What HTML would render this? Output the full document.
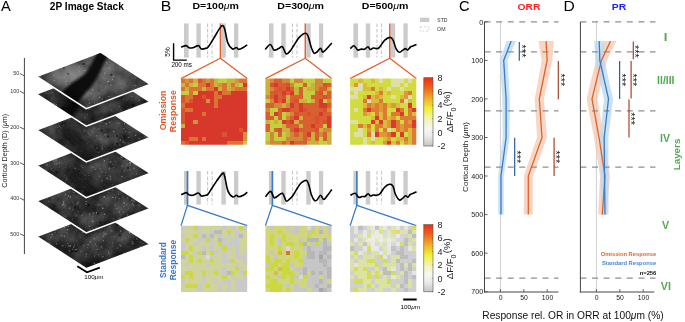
<!DOCTYPE html>
<html><head><meta charset="utf-8"><style>
html,body{margin:0;padding:0;background:#fff;}
body{width:685px;height:322px;overflow:hidden;}
svg{display:block;font-family:"Liberation Sans", sans-serif;will-change:transform;}
</style></head><body>
<svg width="685" height="322" viewBox="0 0 685 322">
<text x="1.00" y="11.40" font-size="15.2" fill="#000" font-weight="normal" textLength="9.73" lengthAdjust="spacingAndGlyphs">A</text>
<text x="49.85" y="9.90" font-size="10.4" fill="#000" font-weight="bold" textLength="73.95" lengthAdjust="spacingAndGlyphs">2P Image Stack</text>
<line x1="24.4" y1="58" x2="24.4" y2="254" stroke="#444" stroke-width="1"/>
<line x1="19.9" y1="73.5" x2="24.4" y2="75.9" stroke="#333" stroke-width="0.8"/>
<text x="19.3" y="75.4" font-size="5.4" fill="#333" font-weight="normal" text-anchor="end" >50</text>
<line x1="19.9" y1="91.2" x2="24.4" y2="93.6" stroke="#333" stroke-width="0.8"/>
<text x="19.3" y="93.1" font-size="5.4" fill="#333" font-weight="normal" text-anchor="end" >100</text>
<line x1="19.9" y1="127.0" x2="24.4" y2="129.4" stroke="#333" stroke-width="0.8"/>
<text x="19.3" y="128.9" font-size="5.4" fill="#333" font-weight="normal" text-anchor="end" >200</text>
<line x1="19.9" y1="162.6" x2="24.4" y2="165.0" stroke="#333" stroke-width="0.8"/>
<text x="19.3" y="164.5" font-size="5.4" fill="#333" font-weight="normal" text-anchor="end" >300</text>
<line x1="19.9" y1="198.0" x2="24.4" y2="200.4" stroke="#333" stroke-width="0.8"/>
<text x="19.3" y="199.9" font-size="5.4" fill="#333" font-weight="normal" text-anchor="end" >400</text>
<line x1="19.9" y1="233.6" x2="24.4" y2="236.0" stroke="#333" stroke-width="0.8"/>
<text x="19.3" y="235.5" font-size="5.4" fill="#333" font-weight="normal" text-anchor="end" >500</text>
<text transform="translate(7.00,187.66) rotate(-90)" x="0" y="0" font-size="7.2" fill="#222" font-weight="normal" textLength="73.82" lengthAdjust="spacingAndGlyphs">Cortical Depth (D) (<tspan font-style="italic">&#956;</tspan>m)</text>
<defs><filter id="mt0" color-interpolation-filters="sRGB" filterUnits="userSpaceOnUse" x="30" y="47" width="125" height="70"><feTurbulence type="fractalNoise" baseFrequency="0.07" numOctaves="5" seed="1"/><feColorMatrix type="matrix" values="0.34 0 0 0 0.175  0.34 0 0 0 0.175  0.34 0 0 0 0.175  0 0 0 0 1"/></filter><filter id="sp0" color-interpolation-filters="sRGB" filterUnits="userSpaceOnUse" x="30" y="47" width="125" height="70"><feTurbulence type="fractalNoise" baseFrequency="0.38" numOctaves="1" seed="3"/><feColorMatrix type="matrix" values="0 0 0 0 1  0 0 0 0 1  0 0 0 0 1  7 0 0 0 -4.5"/><feGaussianBlur stdDeviation="0.45"/></filter><filter id="mt1" color-interpolation-filters="sRGB" filterUnits="userSpaceOnUse" x="30" y="64.6" width="125" height="70"><feTurbulence type="fractalNoise" baseFrequency="0.07" numOctaves="5" seed="8"/><feColorMatrix type="matrix" values="0.34 0 0 0 0.057  0.34 0 0 0 0.057  0.34 0 0 0 0.057  0 0 0 0 1"/></filter><filter id="sp1" color-interpolation-filters="sRGB" filterUnits="userSpaceOnUse" x="30" y="64.6" width="125" height="70"><feTurbulence type="fractalNoise" baseFrequency="0.38" numOctaves="1" seed="8"/><feColorMatrix type="matrix" values="0 0 0 0 1  0 0 0 0 1  0 0 0 0 1  7 0 0 0 -4.5"/><feGaussianBlur stdDeviation="0.45"/></filter><filter id="mt2" color-interpolation-filters="sRGB" filterUnits="userSpaceOnUse" x="30" y="100.4" width="125" height="70"><feTurbulence type="fractalNoise" baseFrequency="0.07" numOctaves="5" seed="15"/><feColorMatrix type="matrix" values="0.34 0 0 0 0.081  0.34 0 0 0 0.081  0.34 0 0 0 0.081  0 0 0 0 1"/></filter><filter id="sp2" color-interpolation-filters="sRGB" filterUnits="userSpaceOnUse" x="30" y="100.4" width="125" height="70"><feTurbulence type="fractalNoise" baseFrequency="0.38" numOctaves="1" seed="13"/><feColorMatrix type="matrix" values="0 0 0 0 1  0 0 0 0 1  0 0 0 0 1  7 0 0 0 -4.5"/><feGaussianBlur stdDeviation="0.45"/></filter><filter id="mt3" color-interpolation-filters="sRGB" filterUnits="userSpaceOnUse" x="30" y="136" width="125" height="70"><feTurbulence type="fractalNoise" baseFrequency="0.07" numOctaves="5" seed="22"/><feColorMatrix type="matrix" values="0.34 0 0 0 0.065  0.34 0 0 0 0.065  0.34 0 0 0 0.065  0 0 0 0 1"/></filter><filter id="sp3" color-interpolation-filters="sRGB" filterUnits="userSpaceOnUse" x="30" y="136" width="125" height="70"><feTurbulence type="fractalNoise" baseFrequency="0.38" numOctaves="1" seed="18"/><feColorMatrix type="matrix" values="0 0 0 0 1  0 0 0 0 1  0 0 0 0 1  7 0 0 0 -4.5"/><feGaussianBlur stdDeviation="0.45"/></filter><filter id="mt4" color-interpolation-filters="sRGB" filterUnits="userSpaceOnUse" x="30" y="171.4" width="125" height="70"><feTurbulence type="fractalNoise" baseFrequency="0.07" numOctaves="5" seed="29"/><feColorMatrix type="matrix" values="0.34 0 0 0 0.054  0.34 0 0 0 0.054  0.34 0 0 0 0.054  0 0 0 0 1"/></filter><filter id="sp4" color-interpolation-filters="sRGB" filterUnits="userSpaceOnUse" x="30" y="171.4" width="125" height="70"><feTurbulence type="fractalNoise" baseFrequency="0.38" numOctaves="1" seed="23"/><feColorMatrix type="matrix" values="0 0 0 0 1  0 0 0 0 1  0 0 0 0 1  7 0 0 0 -4.5"/><feGaussianBlur stdDeviation="0.45"/></filter><filter id="mt5" color-interpolation-filters="sRGB" filterUnits="userSpaceOnUse" x="30" y="207" width="125" height="70"><feTurbulence type="fractalNoise" baseFrequency="0.07" numOctaves="5" seed="36"/><feColorMatrix type="matrix" values="0.34 0 0 0 0.042  0.34 0 0 0 0.042  0.34 0 0 0 0.042  0 0 0 0 1"/></filter><filter id="sp5" color-interpolation-filters="sRGB" filterUnits="userSpaceOnUse" x="30" y="207" width="125" height="70"><feTurbulence type="fractalNoise" baseFrequency="0.38" numOctaves="1" seed="28"/><feColorMatrix type="matrix" values="0 0 0 0 1  0 0 0 0 1  0 0 0 0 1  7 0 0 0 -4.5"/><feGaussianBlur stdDeviation="0.45"/></filter><filter id="blur05" x="-10%" y="-10%" width="120%" height="120%"><feGaussianBlur stdDeviation="0.35"/></filter><filter id="blur1" x="-50%" y="-50%" width="200%" height="200%"><feGaussianBlur stdDeviation="1.3"/></filter><filter id="blur2" x="-50%" y="-50%" width="200%" height="200%"><feGaussianBlur stdDeviation="2.2"/></filter><filter id="blur3" x="-50%" y="-50%" width="200%" height="200%"><feGaussianBlur stdDeviation="3.2"/></filter><filter id="blur5" x="-50%" y="-50%" width="200%" height="200%"><feGaussianBlur stdDeviation="5"/></filter></defs>
<clipPath id="cs5"><polygon points="37.4,237.0 100.4,213.0 149.2,244.6 86.2,268.6"/></clipPath>
<g clip-path="url(#cs5)">
<rect x="30" y="207" width="125" height="70" filter="url(#mt5)"/>
<g fill="#fff" filter="url(#blur05)"><circle cx="109.8" cy="227.0" r="0.67" opacity="0.53"/><circle cx="94.6" cy="253.8" r="0.48" opacity="0.22"/><circle cx="96.0" cy="252.4" r="0.41" opacity="0.41"/><circle cx="67.8" cy="233.9" r="0.52" opacity="0.30"/><circle cx="109.4" cy="253.8" r="0.72" opacity="0.24"/><circle cx="129.5" cy="232.6" r="0.73" opacity="0.48"/><circle cx="82.8" cy="232.3" r="0.72" opacity="0.55"/><circle cx="82.4" cy="225.7" r="0.68" opacity="0.46"/><circle cx="140.5" cy="246.7" r="0.74" opacity="0.44"/><circle cx="88.1" cy="244.4" r="0.55" opacity="0.45"/><circle cx="117.2" cy="248.1" r="0.56" opacity="0.39"/><circle cx="136.7" cy="238.9" r="0.72" opacity="0.43"/><circle cx="65.7" cy="247.3" r="0.47" opacity="0.26"/><circle cx="50.8" cy="237.4" r="0.54" opacity="0.46"/><circle cx="139.3" cy="246.8" r="0.58" opacity="0.16"/><circle cx="52.2" cy="234.2" r="0.70" opacity="0.28"/><circle cx="105.0" cy="233.9" r="0.58" opacity="0.49"/><circle cx="82.4" cy="223.6" r="0.60" opacity="0.29"/><circle cx="112.0" cy="222.0" r="0.45" opacity="0.52"/><circle cx="67.5" cy="229.7" r="0.67" opacity="0.52"/><circle cx="76.6" cy="230.5" r="0.70" opacity="0.29"/><circle cx="55.0" cy="232.5" r="0.70" opacity="0.24"/><circle cx="62.7" cy="245.6" r="0.63" opacity="0.55"/><circle cx="80.8" cy="251.4" r="0.46" opacity="0.49"/><circle cx="101.5" cy="246.9" r="0.69" opacity="0.36"/><circle cx="67.5" cy="226.0" r="0.42" opacity="0.43"/><circle cx="113.5" cy="237.0" r="0.37" opacity="0.45"/><circle cx="132.7" cy="243.7" r="0.65" opacity="0.42"/><circle cx="77.1" cy="240.1" r="0.43" opacity="0.41"/><circle cx="98.3" cy="254.4" r="0.44" opacity="0.26"/><circle cx="56.5" cy="243.8" r="0.66" opacity="0.48"/><circle cx="96.9" cy="216.1" r="0.62" opacity="0.37"/><circle cx="105.3" cy="258.3" r="0.62" opacity="0.28"/><circle cx="111.3" cy="231.0" r="0.54" opacity="0.34"/><circle cx="68.6" cy="226.4" r="0.68" opacity="0.27"/><circle cx="74.4" cy="231.8" r="0.58" opacity="0.18"/><circle cx="49.5" cy="242.9" r="0.70" opacity="0.42"/><circle cx="87.4" cy="222.6" r="0.53" opacity="0.44"/><circle cx="106.3" cy="233.3" r="0.38" opacity="0.30"/><circle cx="140.6" cy="242.4" r="0.60" opacity="0.29"/><circle cx="103.4" cy="240.7" r="0.53" opacity="0.49"/><circle cx="77.6" cy="226.5" r="0.64" opacity="0.43"/><circle cx="69.4" cy="251.1" r="0.74" opacity="0.41"/><circle cx="103.2" cy="235.9" r="0.52" opacity="0.54"/><circle cx="77.7" cy="244.9" r="0.39" opacity="0.36"/><circle cx="112.9" cy="242.9" r="0.74" opacity="0.26"/><circle cx="68.0" cy="243.3" r="0.48" opacity="0.52"/><circle cx="73.6" cy="246.9" r="0.75" opacity="0.31"/><circle cx="86.7" cy="239.2" r="0.48" opacity="0.28"/><circle cx="90.8" cy="217.4" r="0.38" opacity="0.47"/><circle cx="103.7" cy="233.0" r="0.54" opacity="0.34"/><circle cx="74.7" cy="244.5" r="0.49" opacity="0.39"/><circle cx="87.3" cy="247.5" r="0.37" opacity="0.55"/><circle cx="61.3" cy="251.6" r="0.50" opacity="0.20"/><circle cx="120.6" cy="227.8" r="0.42" opacity="0.28"/><circle cx="75.9" cy="249.7" r="0.75" opacity="0.54"/><circle cx="86.5" cy="253.9" r="0.58" opacity="0.46"/><circle cx="49.5" cy="234.7" r="0.40" opacity="0.51"/><circle cx="42.8" cy="237.0" r="0.54" opacity="0.17"/><circle cx="94.9" cy="263.0" r="0.42" opacity="0.45"/><circle cx="112.8" cy="231.1" r="0.53" opacity="0.23"/><circle cx="84.1" cy="246.0" r="0.58" opacity="0.36"/><circle cx="103.5" cy="256.3" r="0.53" opacity="0.30"/><circle cx="108.5" cy="252.2" r="0.59" opacity="0.45"/><circle cx="106.8" cy="228.4" r="0.64" opacity="0.19"/><circle cx="90.4" cy="240.0" r="0.51" opacity="0.22"/><circle cx="104.7" cy="228.6" r="0.51" opacity="0.20"/><circle cx="134.2" cy="243.6" r="0.42" opacity="0.31"/><circle cx="64.5" cy="236.1" r="0.68" opacity="0.40"/><circle cx="128.3" cy="236.9" r="0.48" opacity="0.46"/><circle cx="72.8" cy="253.0" r="0.56" opacity="0.18"/><circle cx="80.9" cy="246.5" r="0.40" opacity="0.18"/><circle cx="123.8" cy="253.1" r="0.58" opacity="0.55"/><circle cx="73.0" cy="228.6" r="0.42" opacity="0.33"/><circle cx="132.1" cy="241.7" r="0.74" opacity="0.39"/><circle cx="111.8" cy="236.3" r="0.42" opacity="0.37"/><circle cx="94.6" cy="256.0" r="0.68" opacity="0.24"/><circle cx="59.9" cy="243.0" r="0.36" opacity="0.23"/><circle cx="142.8" cy="243.2" r="0.52" opacity="0.50"/><circle cx="98.2" cy="264.0" r="0.58" opacity="0.40"/><circle cx="55.2" cy="230.5" r="0.57" opacity="0.40"/><circle cx="119.6" cy="244.6" r="0.72" opacity="0.16"/><circle cx="84.6" cy="223.5" r="0.69" opacity="0.36"/><circle cx="57.3" cy="249.4" r="0.69" opacity="0.50"/><circle cx="120.6" cy="231.1" r="0.62" opacity="0.42"/><circle cx="106.0" cy="249.5" r="0.42" opacity="0.24"/><circle cx="112.6" cy="245.7" r="0.74" opacity="0.18"/><circle cx="115.2" cy="222.7" r="0.50" opacity="0.43"/><circle cx="109.9" cy="219.7" r="0.51" opacity="0.51"/><circle cx="111.0" cy="229.8" r="0.46" opacity="0.47"/><circle cx="68.0" cy="243.8" r="0.36" opacity="0.24"/><circle cx="90.3" cy="242.1" r="0.66" opacity="0.40"/><circle cx="71.1" cy="244.0" r="0.45" opacity="0.20"/><circle cx="94.3" cy="263.4" r="0.67" opacity="0.49"/><circle cx="95.7" cy="228.1" r="0.65" opacity="0.37"/><circle cx="115.4" cy="236.4" r="0.61" opacity="0.20"/><circle cx="126.2" cy="238.6" r="0.58" opacity="0.25"/><circle cx="99.4" cy="234.1" r="0.44" opacity="0.46"/><circle cx="120.8" cy="245.7" r="0.75" opacity="0.31"/><circle cx="78.9" cy="225.1" r="0.61" opacity="0.48"/><circle cx="64.8" cy="227.6" r="0.64" opacity="0.31"/><circle cx="85.9" cy="256.2" r="0.51" opacity="0.35"/><circle cx="97.3" cy="236.9" r="0.62" opacity="0.27"/><circle cx="74.5" cy="246.2" r="0.67" opacity="0.28"/><circle cx="62.0" cy="240.7" r="0.49" opacity="0.21"/><circle cx="95.2" cy="244.0" r="0.75" opacity="0.19"/><circle cx="61.8" cy="235.6" r="0.50" opacity="0.49"/><circle cx="72.7" cy="249.3" r="0.52" opacity="0.49"/><circle cx="121.2" cy="255.2" r="0.69" opacity="0.52"/><circle cx="92.0" cy="221.7" r="0.39" opacity="0.54"/><circle cx="52.3" cy="234.6" r="0.60" opacity="0.39"/><circle cx="69.1" cy="246.5" r="0.51" opacity="0.33"/><circle cx="66.5" cy="232.5" r="0.61" opacity="0.28"/><circle cx="139.6" cy="247.5" r="0.36" opacity="0.46"/><circle cx="98.4" cy="228.6" r="0.58" opacity="0.27"/><circle cx="108.1" cy="227.0" r="0.61" opacity="0.25"/><circle cx="102.5" cy="223.3" r="0.73" opacity="0.22"/><circle cx="97.3" cy="249.3" r="0.51" opacity="0.46"/><circle cx="96.8" cy="264.1" r="0.56" opacity="0.51"/><circle cx="68.2" cy="245.8" r="0.55" opacity="0.53"/><circle cx="119.4" cy="225.7" r="0.51" opacity="0.29"/><circle cx="49.0" cy="239.5" r="0.65" opacity="0.19"/><circle cx="110.1" cy="230.6" r="0.43" opacity="0.27"/><circle cx="76.3" cy="254.0" r="0.45" opacity="0.39"/><circle cx="96.3" cy="245.9" r="0.39" opacity="0.44"/><circle cx="70.3" cy="245.7" r="0.73" opacity="0.54"/><circle cx="94.3" cy="238.6" r="0.56" opacity="0.41"/><circle cx="112.3" cy="222.9" r="0.35" opacity="0.37"/><circle cx="83.3" cy="244.6" r="0.55" opacity="0.20"/><circle cx="102.6" cy="256.7" r="0.58" opacity="0.43"/><circle cx="88.9" cy="231.5" r="1.1" fill="#000" opacity="0.6"/><circle cx="72.1" cy="251.7" r="1.1" fill="#000" opacity="0.6"/><circle cx="76.3" cy="251.2" r="1.1" fill="#000" opacity="0.6"/><circle cx="96.6" cy="216.3" r="1.1" fill="#000" opacity="0.6"/><circle cx="120.0" cy="235.5" r="1.1" fill="#000" opacity="0.6"/><circle cx="117.1" cy="225.2" r="1.1" fill="#000" opacity="0.6"/></g>
<polyline points="37.4,237 86.2,268.6 149.2,244.6" stroke="#000" stroke-width="12" opacity="0.35" fill="none" filter="url(#blur3)"/>
<polyline points="37.4,202.9 86.2,234.5 149.2,210.5" stroke="#000" stroke-width="5" opacity="0.35" fill="none" filter="url(#blur2)"/>
</g>
<polyline points="37.4,237 86.2,268.6 149.2,244.6" stroke="#fff" stroke-width="1.5" fill="none"/>
<clipPath id="cs4"><polygon points="37.4,201.4 100.4,177.4 149.2,209.0 86.2,233.0"/></clipPath>
<g clip-path="url(#cs4)">
<rect x="30" y="171.4" width="125" height="70" filter="url(#mt4)"/>
<g fill="#fff" filter="url(#blur05)"><circle cx="140.4" cy="205.9" r="0.64" opacity="0.24"/><circle cx="93.1" cy="216.0" r="0.67" opacity="0.16"/><circle cx="91.6" cy="225.7" r="0.40" opacity="0.41"/><circle cx="89.7" cy="213.9" r="0.69" opacity="0.38"/><circle cx="77.8" cy="202.2" r="0.60" opacity="0.40"/><circle cx="86.0" cy="206.3" r="0.56" opacity="0.25"/><circle cx="76.5" cy="215.1" r="0.39" opacity="0.39"/><circle cx="128.3" cy="208.3" r="0.45" opacity="0.32"/><circle cx="112.6" cy="190.3" r="0.75" opacity="0.23"/><circle cx="92.4" cy="182.5" r="0.62" opacity="0.47"/><circle cx="102.8" cy="208.3" r="0.72" opacity="0.55"/><circle cx="74.2" cy="213.6" r="0.37" opacity="0.30"/><circle cx="54.4" cy="203.0" r="0.60" opacity="0.18"/><circle cx="47.6" cy="198.0" r="0.68" opacity="0.25"/><circle cx="72.3" cy="219.3" r="0.64" opacity="0.40"/><circle cx="98.0" cy="205.2" r="0.64" opacity="0.27"/><circle cx="124.3" cy="203.1" r="0.69" opacity="0.51"/><circle cx="115.6" cy="197.7" r="0.56" opacity="0.44"/><circle cx="75.2" cy="188.4" r="0.72" opacity="0.23"/><circle cx="90.0" cy="204.1" r="0.39" opacity="0.38"/><circle cx="114.3" cy="212.9" r="0.59" opacity="0.27"/><circle cx="119.8" cy="218.2" r="0.60" opacity="0.49"/><circle cx="71.8" cy="222.9" r="0.43" opacity="0.22"/><circle cx="66.9" cy="199.1" r="0.38" opacity="0.23"/><circle cx="64.1" cy="203.8" r="0.67" opacity="0.18"/><circle cx="52.7" cy="198.3" r="0.55" opacity="0.24"/><circle cx="82.4" cy="196.2" r="0.43" opacity="0.35"/><circle cx="85.1" cy="227.6" r="0.58" opacity="0.31"/><circle cx="118.3" cy="218.1" r="0.55" opacity="0.31"/><circle cx="69.6" cy="208.2" r="0.66" opacity="0.40"/><circle cx="98.6" cy="223.2" r="0.40" opacity="0.29"/><circle cx="131.0" cy="211.7" r="0.53" opacity="0.15"/><circle cx="93.6" cy="201.4" r="0.36" opacity="0.29"/><circle cx="94.8" cy="181.4" r="0.42" opacity="0.22"/><circle cx="102.7" cy="192.0" r="0.62" opacity="0.42"/><circle cx="59.5" cy="214.9" r="0.40" opacity="0.47"/><circle cx="86.2" cy="201.3" r="0.67" opacity="0.48"/><circle cx="46.3" cy="202.8" r="0.48" opacity="0.28"/><circle cx="86.0" cy="204.3" r="0.74" opacity="0.42"/><circle cx="128.1" cy="197.9" r="0.44" opacity="0.38"/><circle cx="76.0" cy="216.0" r="0.41" opacity="0.52"/><circle cx="100.2" cy="222.4" r="0.44" opacity="0.23"/><circle cx="93.1" cy="221.5" r="0.68" opacity="0.45"/><circle cx="80.7" cy="192.2" r="0.45" opacity="0.16"/><circle cx="102.3" cy="183.1" r="0.64" opacity="0.15"/><circle cx="84.8" cy="213.6" r="0.42" opacity="0.18"/><circle cx="107.8" cy="189.0" r="0.35" opacity="0.43"/><circle cx="126.3" cy="194.9" r="0.36" opacity="0.32"/><circle cx="87.7" cy="194.5" r="0.52" opacity="0.45"/><circle cx="119.4" cy="211.9" r="0.73" opacity="0.36"/><circle cx="104.9" cy="181.6" r="0.56" opacity="0.42"/><circle cx="118.8" cy="194.0" r="0.52" opacity="0.51"/><circle cx="69.8" cy="191.9" r="0.53" opacity="0.26"/><circle cx="118.6" cy="211.5" r="0.37" opacity="0.28"/><circle cx="133.6" cy="205.4" r="0.66" opacity="0.31"/><circle cx="138.9" cy="205.3" r="0.68" opacity="0.37"/><circle cx="84.2" cy="190.2" r="0.36" opacity="0.16"/><circle cx="65.7" cy="216.2" r="0.73" opacity="0.38"/><circle cx="123.9" cy="206.3" r="0.73" opacity="0.26"/><circle cx="113.8" cy="218.7" r="0.48" opacity="0.43"/><circle cx="70.9" cy="196.3" r="0.43" opacity="0.29"/><circle cx="82.2" cy="228.6" r="0.49" opacity="0.25"/><circle cx="88.1" cy="182.4" r="0.65" opacity="0.33"/><circle cx="62.5" cy="211.8" r="0.74" opacity="0.17"/><circle cx="64.0" cy="200.2" r="0.59" opacity="0.23"/><circle cx="108.6" cy="192.6" r="0.73" opacity="0.20"/><circle cx="53.2" cy="196.7" r="0.37" opacity="0.22"/><circle cx="101.3" cy="204.7" r="0.64" opacity="0.24"/><circle cx="123.2" cy="218.1" r="0.48" opacity="0.24"/><circle cx="96.2" cy="227.4" r="0.60" opacity="0.35"/><circle cx="72.5" cy="192.0" r="0.44" opacity="0.43"/><circle cx="78.3" cy="211.6" r="0.71" opacity="0.22"/><circle cx="104.4" cy="214.2" r="0.65" opacity="0.48"/><circle cx="122.9" cy="197.8" r="0.44" opacity="0.35"/><circle cx="105.5" cy="185.4" r="0.47" opacity="0.23"/><circle cx="97.5" cy="183.4" r="0.41" opacity="0.39"/><circle cx="103.9" cy="197.2" r="0.65" opacity="0.43"/><circle cx="65.6" cy="194.3" r="0.63" opacity="0.40"/><circle cx="132.0" cy="200.6" r="0.38" opacity="0.23"/><circle cx="92.2" cy="217.0" r="0.47" opacity="0.24"/><circle cx="62.4" cy="205.5" r="0.55" opacity="0.43"/><circle cx="95.7" cy="184.2" r="0.57" opacity="0.54"/><circle cx="68.4" cy="195.8" r="0.61" opacity="0.48"/><circle cx="44.0" cy="203.1" r="0.47" opacity="0.30"/><circle cx="48.8" cy="201.3" r="0.52" opacity="0.53"/><circle cx="86.6" cy="196.6" r="0.73" opacity="0.26"/><circle cx="52.3" cy="201.9" r="0.36" opacity="0.52"/><circle cx="118.8" cy="219.6" r="0.57" opacity="0.18"/><circle cx="77.6" cy="203.4" r="0.41" opacity="0.18"/><circle cx="123.4" cy="212.4" r="0.72" opacity="0.25"/><circle cx="88.6" cy="194.6" r="0.69" opacity="0.52"/><circle cx="47.4" cy="207.1" r="0.70" opacity="0.54"/><circle cx="94.0" cy="183.1" r="0.59" opacity="0.46"/><circle cx="99.9" cy="204.9" r="0.66" opacity="0.17"/><circle cx="120.7" cy="218.5" r="0.57" opacity="0.29"/><circle cx="89.4" cy="226.3" r="0.62" opacity="0.53"/><circle cx="131.9" cy="200.1" r="0.69" opacity="0.48"/><circle cx="104.5" cy="196.7" r="0.62" opacity="0.46"/><circle cx="92.6" cy="219.9" r="0.59" opacity="0.30"/><circle cx="109.6" cy="220.0" r="0.38" opacity="0.17"/><circle cx="74.0" cy="192.8" r="0.69" opacity="0.52"/><circle cx="77.0" cy="203.9" r="0.61" opacity="0.50"/><circle cx="121.2" cy="214.4" r="0.49" opacity="0.34"/><circle cx="116.9" cy="208.4" r="0.50" opacity="0.29"/><circle cx="123.3" cy="202.2" r="0.56" opacity="0.25"/><circle cx="64.6" cy="195.3" r="0.45" opacity="0.19"/><circle cx="82.0" cy="215.7" r="0.57" opacity="0.49"/><circle cx="89.6" cy="198.6" r="0.49" opacity="0.48"/><circle cx="46.6" cy="206.1" r="0.53" opacity="0.21"/><circle cx="70.2" cy="196.9" r="0.60" opacity="0.50"/><circle cx="99.8" cy="216.4" r="0.35" opacity="0.19"/><circle cx="84.9" cy="222.6" r="0.46" opacity="0.38"/><circle cx="119.4" cy="198.5" r="0.51" opacity="0.37"/><circle cx="107.9" cy="204.4" r="0.57" opacity="0.20"/><circle cx="134.0" cy="201.1" r="0.70" opacity="0.47"/><circle cx="72.9" cy="210.1" r="0.59" opacity="0.22"/><circle cx="112.9" cy="197.3" r="0.58" opacity="0.52"/><circle cx="74.0" cy="204.5" r="0.59" opacity="0.19"/><circle cx="63.6" cy="201.9" r="0.74" opacity="0.41"/><circle cx="118.7" cy="202.4" r="0.48" opacity="0.30"/><circle cx="127.2" cy="198.0" r="0.59" opacity="0.32"/><circle cx="105.5" cy="186.9" r="0.70" opacity="0.43"/><circle cx="131.8" cy="215.2" r="0.55" opacity="0.36"/><circle cx="96.5" cy="212.7" r="0.69" opacity="0.46"/><circle cx="91.5" cy="221.4" r="0.36" opacity="0.41"/><circle cx="64.0" cy="207.3" r="0.58" opacity="0.21"/><circle cx="115.1" cy="205.1" r="0.66" opacity="0.34"/><circle cx="126.7" cy="204.7" r="0.57" opacity="0.41"/><circle cx="82.5" cy="214.1" r="0.46" opacity="0.21"/><circle cx="120.7" cy="216.1" r="0.54" opacity="0.22"/><circle cx="87.2" cy="192.2" r="0.61" opacity="0.45"/><circle cx="65.1" cy="205.8" r="0.53" opacity="0.42"/><circle cx="127.6" cy="214.9" r="0.59" opacity="0.52"/><circle cx="63.2" cy="204.3" r="0.74" opacity="0.46"/><circle cx="65.2" cy="194.0" r="0.45" opacity="0.31"/><circle cx="68.2" cy="220.0" r="0.72" opacity="0.29"/><circle cx="72.9" cy="202.0" r="0.51" opacity="0.39"/><circle cx="58.3" cy="195.8" r="0.38" opacity="0.52"/><circle cx="85.2" cy="189.7" r="0.52" opacity="0.45"/><circle cx="93.5" cy="213.1" r="0.75" opacity="0.29"/><circle cx="73.2" cy="195.2" r="0.63" opacity="0.34"/><circle cx="86.3" cy="198.3" r="0.60" opacity="0.39"/><circle cx="132.5" cy="203.7" r="0.38" opacity="0.20"/><circle cx="71.0" cy="198.2" r="0.42" opacity="0.22"/><circle cx="95.4" cy="184.4" r="0.67" opacity="0.34"/><circle cx="106.3" cy="198.3" r="0.44" opacity="0.31"/><circle cx="132.3" cy="203.9" r="0.61" opacity="0.31"/><circle cx="91.6" cy="188.3" r="0.54" opacity="0.29"/><circle cx="103.5" cy="217.1" r="0.41" opacity="0.26"/><circle cx="87.4" cy="197.3" r="0.71" opacity="0.33"/><circle cx="51.2" cy="210.1" r="1.1" fill="#000" opacity="0.6"/><circle cx="75.0" cy="207.7" r="1.1" fill="#000" opacity="0.6"/><circle cx="82.8" cy="230.8" r="1.1" fill="#000" opacity="0.6"/><circle cx="98.4" cy="213.5" r="1.1" fill="#000" opacity="0.6"/><circle cx="88.8" cy="204.9" r="1.1" fill="#000" opacity="0.6"/><circle cx="100.5" cy="222.6" r="1.1" fill="#000" opacity="0.6"/></g>
<polyline points="37.4,201.4 86.2,233.0 149.2,209.0" stroke="#000" stroke-width="12" opacity="0.35" fill="none" filter="url(#blur3)"/>
<polyline points="37.4,167.5 86.2,199.1 149.2,175.1" stroke="#000" stroke-width="5" opacity="0.35" fill="none" filter="url(#blur2)"/>
</g>
<polyline points="37.4,201.4 86.2,233.0 149.2,209.0" stroke="#fff" stroke-width="1.5" fill="none"/>
<clipPath id="cs3"><polygon points="37.4,166.0 100.4,142.0 149.2,173.6 86.2,197.6"/></clipPath>
<g clip-path="url(#cs3)">
<rect x="30" y="136" width="125" height="70" filter="url(#mt3)"/>
<g fill="#fff" filter="url(#blur05)"><circle cx="121.3" cy="156.9" r="0.64" opacity="0.44"/><circle cx="54.7" cy="163.3" r="0.59" opacity="0.20"/><circle cx="104.9" cy="184.9" r="0.70" opacity="0.20"/><circle cx="53.4" cy="171.1" r="0.68" opacity="0.16"/><circle cx="56.8" cy="164.0" r="0.40" opacity="0.36"/><circle cx="68.9" cy="174.5" r="0.64" opacity="0.44"/><circle cx="101.9" cy="180.9" r="0.58" opacity="0.48"/><circle cx="71.1" cy="171.7" r="0.58" opacity="0.53"/><circle cx="99.5" cy="166.2" r="0.45" opacity="0.26"/><circle cx="99.1" cy="192.0" r="0.70" opacity="0.51"/><circle cx="105.3" cy="175.7" r="0.47" opacity="0.34"/><circle cx="67.1" cy="175.8" r="0.45" opacity="0.19"/><circle cx="100.0" cy="147.0" r="0.68" opacity="0.43"/><circle cx="66.7" cy="179.2" r="0.75" opacity="0.54"/><circle cx="110.6" cy="176.9" r="0.63" opacity="0.27"/><circle cx="101.2" cy="171.7" r="0.51" opacity="0.48"/><circle cx="102.0" cy="179.0" r="0.38" opacity="0.33"/><circle cx="71.8" cy="185.4" r="0.70" opacity="0.37"/><circle cx="103.4" cy="172.1" r="0.44" opacity="0.30"/><circle cx="105.4" cy="172.5" r="0.50" opacity="0.34"/><circle cx="85.3" cy="175.6" r="0.62" opacity="0.28"/><circle cx="122.0" cy="176.4" r="0.56" opacity="0.54"/><circle cx="101.8" cy="187.6" r="0.42" opacity="0.30"/><circle cx="90.5" cy="147.4" r="0.60" opacity="0.50"/><circle cx="130.2" cy="164.9" r="0.49" opacity="0.28"/><circle cx="80.4" cy="153.0" r="0.36" opacity="0.50"/><circle cx="84.8" cy="156.1" r="0.52" opacity="0.27"/><circle cx="106.1" cy="154.2" r="0.64" opacity="0.45"/><circle cx="69.8" cy="166.3" r="0.56" opacity="0.31"/><circle cx="90.8" cy="162.1" r="0.67" opacity="0.32"/><circle cx="83.8" cy="187.2" r="0.71" opacity="0.42"/><circle cx="114.4" cy="180.4" r="0.72" opacity="0.15"/><circle cx="69.1" cy="154.9" r="0.48" opacity="0.25"/><circle cx="99.5" cy="176.3" r="0.69" opacity="0.25"/><circle cx="86.9" cy="197.3" r="0.66" opacity="0.37"/><circle cx="47.0" cy="165.0" r="0.72" opacity="0.36"/><circle cx="129.8" cy="170.1" r="0.65" opacity="0.47"/><circle cx="65.4" cy="167.7" r="0.52" opacity="0.46"/><circle cx="124.4" cy="170.9" r="0.58" opacity="0.34"/><circle cx="82.2" cy="182.4" r="0.61" opacity="0.36"/><circle cx="131.0" cy="179.5" r="0.73" opacity="0.19"/><circle cx="85.4" cy="178.5" r="0.63" opacity="0.26"/><circle cx="118.5" cy="158.2" r="0.66" opacity="0.17"/><circle cx="56.1" cy="160.0" r="0.67" opacity="0.36"/><circle cx="127.0" cy="162.3" r="0.48" opacity="0.29"/><circle cx="70.7" cy="163.3" r="0.39" opacity="0.41"/><circle cx="79.3" cy="172.8" r="0.63" opacity="0.26"/><circle cx="80.9" cy="165.7" r="0.48" opacity="0.42"/><circle cx="63.1" cy="176.3" r="0.39" opacity="0.42"/><circle cx="103.3" cy="189.3" r="0.54" opacity="0.41"/><circle cx="110.4" cy="179.3" r="0.63" opacity="0.41"/><circle cx="46.3" cy="169.7" r="0.65" opacity="0.31"/><circle cx="129.9" cy="162.7" r="0.68" opacity="0.45"/><circle cx="130.2" cy="163.7" r="0.73" opacity="0.32"/><circle cx="59.6" cy="163.1" r="0.45" opacity="0.51"/><circle cx="81.0" cy="151.6" r="0.36" opacity="0.33"/><circle cx="89.3" cy="164.3" r="0.36" opacity="0.25"/><circle cx="128.0" cy="167.9" r="0.68" opacity="0.26"/><circle cx="89.1" cy="156.2" r="0.47" opacity="0.53"/><circle cx="65.1" cy="170.1" r="0.44" opacity="0.50"/><circle cx="109.5" cy="168.2" r="0.69" opacity="0.34"/><circle cx="133.0" cy="168.6" r="0.47" opacity="0.24"/><circle cx="93.0" cy="167.2" r="0.67" opacity="0.41"/><circle cx="113.6" cy="167.2" r="0.46" opacity="0.45"/><circle cx="130.3" cy="162.6" r="0.63" opacity="0.24"/><circle cx="66.7" cy="177.3" r="0.59" opacity="0.44"/><circle cx="93.8" cy="171.8" r="0.39" opacity="0.17"/><circle cx="60.6" cy="173.2" r="0.45" opacity="0.21"/><circle cx="75.2" cy="168.5" r="0.68" opacity="0.52"/><circle cx="136.0" cy="165.4" r="0.35" opacity="0.25"/><circle cx="134.3" cy="164.0" r="0.69" opacity="0.23"/><circle cx="57.3" cy="163.3" r="0.56" opacity="0.30"/><circle cx="73.8" cy="159.1" r="0.36" opacity="0.30"/><circle cx="127.6" cy="164.4" r="0.58" opacity="0.18"/><circle cx="82.7" cy="167.3" r="0.60" opacity="0.31"/><circle cx="101.3" cy="155.4" r="0.64" opacity="0.15"/><circle cx="85.5" cy="187.7" r="0.69" opacity="0.27"/><circle cx="96.8" cy="191.6" r="0.59" opacity="0.19"/><circle cx="127.3" cy="160.2" r="0.47" opacity="0.35"/><circle cx="88.9" cy="175.4" r="0.52" opacity="0.30"/><circle cx="98.4" cy="158.1" r="0.68" opacity="0.45"/><circle cx="104.4" cy="148.2" r="0.69" opacity="0.44"/><circle cx="93.4" cy="190.4" r="0.55" opacity="0.22"/><circle cx="99.4" cy="192.5" r="0.67" opacity="0.24"/><circle cx="95.5" cy="145.8" r="0.63" opacity="0.40"/><circle cx="136.5" cy="173.8" r="0.64" opacity="0.49"/><circle cx="112.2" cy="184.4" r="0.52" opacity="0.44"/><circle cx="104.4" cy="160.8" r="0.68" opacity="0.44"/><circle cx="76.1" cy="180.7" r="0.54" opacity="0.39"/><circle cx="73.4" cy="187.5" r="0.51" opacity="0.44"/><circle cx="53.6" cy="160.9" r="0.54" opacity="0.41"/><circle cx="112.8" cy="164.4" r="0.70" opacity="0.22"/><circle cx="64.9" cy="175.8" r="0.61" opacity="0.46"/><circle cx="70.7" cy="183.3" r="0.49" opacity="0.36"/><circle cx="51.5" cy="168.7" r="0.60" opacity="0.29"/><circle cx="123.6" cy="158.6" r="0.49" opacity="0.22"/><circle cx="95.5" cy="169.5" r="0.45" opacity="0.54"/><circle cx="107.1" cy="178.2" r="0.62" opacity="0.48"/><circle cx="90.9" cy="193.9" r="0.59" opacity="0.22"/><circle cx="77.7" cy="153.5" r="0.52" opacity="0.19"/><circle cx="62.4" cy="179.1" r="0.69" opacity="0.45"/><circle cx="134.3" cy="168.2" r="0.60" opacity="0.39"/><circle cx="104.1" cy="147.1" r="0.56" opacity="0.37"/><circle cx="81.0" cy="193.3" r="0.62" opacity="0.29"/><circle cx="110.7" cy="162.0" r="0.64" opacity="0.37"/><circle cx="116.2" cy="161.3" r="0.39" opacity="0.46"/><circle cx="79.8" cy="178.5" r="0.72" opacity="0.44"/><circle cx="82.7" cy="190.8" r="0.74" opacity="0.34"/><circle cx="76.1" cy="174.5" r="0.56" opacity="0.17"/><circle cx="122.1" cy="166.0" r="0.51" opacity="0.48"/><circle cx="91.7" cy="190.0" r="0.69" opacity="0.34"/><circle cx="66.4" cy="177.5" r="0.39" opacity="0.37"/><circle cx="71.7" cy="179.0" r="0.51" opacity="0.28"/><circle cx="100.2" cy="168.9" r="0.70" opacity="0.33"/><circle cx="109.1" cy="175.2" r="0.42" opacity="0.36"/><circle cx="72.9" cy="177.3" r="0.55" opacity="0.51"/><circle cx="112.9" cy="152.5" r="0.69" opacity="0.30"/><circle cx="82.3" cy="178.8" r="0.47" opacity="0.53"/><circle cx="95.7" cy="145.4" r="0.74" opacity="0.51"/><circle cx="78.3" cy="183.6" r="0.57" opacity="0.21"/><circle cx="82.3" cy="149.4" r="0.49" opacity="0.35"/><circle cx="107.8" cy="159.6" r="0.47" opacity="0.34"/><circle cx="90.9" cy="165.7" r="0.39" opacity="0.49"/><circle cx="59.5" cy="167.0" r="0.44" opacity="0.54"/><circle cx="72.7" cy="183.8" r="0.58" opacity="0.24"/><circle cx="95.5" cy="152.8" r="0.40" opacity="0.16"/><circle cx="81.6" cy="151.8" r="0.60" opacity="0.41"/><circle cx="91.1" cy="194.1" r="0.40" opacity="0.28"/><circle cx="100.9" cy="155.2" r="0.66" opacity="0.43"/><circle cx="103.5" cy="159.7" r="0.46" opacity="0.34"/><circle cx="77.8" cy="151.8" r="1.1" fill="#000" opacity="0.6"/><circle cx="56.5" cy="172.4" r="1.1" fill="#000" opacity="0.6"/><circle cx="77.4" cy="188.6" r="1.1" fill="#000" opacity="0.6"/><circle cx="123.8" cy="158.9" r="1.1" fill="#000" opacity="0.6"/><circle cx="79.1" cy="171.5" r="1.1" fill="#000" opacity="0.6"/><circle cx="127.9" cy="167.8" r="1.1" fill="#000" opacity="0.6"/></g>
<path d="M64,168 C74,176 84,184 96,196" stroke="#161616" stroke-width="12" fill="none" filter="url(#blur5)"/>
<polyline points="37.4,166 86.2,197.6 149.2,173.6" stroke="#000" stroke-width="12" opacity="0.35" fill="none" filter="url(#blur3)"/>
<polyline points="37.4,131.9 86.2,163.5 149.2,139.5" stroke="#000" stroke-width="5" opacity="0.35" fill="none" filter="url(#blur2)"/>
</g>
<polyline points="37.4,166 86.2,197.6 149.2,173.6" stroke="#fff" stroke-width="1.5" fill="none"/>
<clipPath id="cs2"><polygon points="37.4,130.4 100.4,106.4 149.2,138.0 86.2,162.0"/></clipPath>
<g clip-path="url(#cs2)">
<rect x="30" y="100.4" width="125" height="70" filter="url(#mt2)"/>
<g fill="#fff" filter="url(#blur05)"><circle cx="76.8" cy="146.3" r="0.42" opacity="0.44"/><circle cx="94.4" cy="128.0" r="0.60" opacity="0.38"/><circle cx="66.0" cy="146.1" r="0.60" opacity="0.36"/><circle cx="128.7" cy="132.5" r="0.50" opacity="0.24"/><circle cx="85.0" cy="152.9" r="0.63" opacity="0.39"/><circle cx="89.7" cy="135.6" r="0.44" opacity="0.36"/><circle cx="76.9" cy="146.5" r="0.60" opacity="0.42"/><circle cx="57.4" cy="127.4" r="0.48" opacity="0.43"/><circle cx="106.0" cy="141.8" r="0.52" opacity="0.31"/><circle cx="102.7" cy="113.9" r="0.43" opacity="0.39"/><circle cx="98.3" cy="128.9" r="0.57" opacity="0.33"/><circle cx="122.9" cy="142.4" r="0.68" opacity="0.41"/><circle cx="113.3" cy="149.1" r="0.53" opacity="0.40"/><circle cx="125.5" cy="131.2" r="0.51" opacity="0.45"/><circle cx="119.9" cy="144.9" r="0.60" opacity="0.36"/><circle cx="124.5" cy="123.7" r="0.51" opacity="0.53"/><circle cx="105.3" cy="113.2" r="0.38" opacity="0.49"/><circle cx="111.8" cy="121.4" r="0.45" opacity="0.42"/><circle cx="107.0" cy="114.6" r="0.53" opacity="0.42"/><circle cx="71.6" cy="138.2" r="0.41" opacity="0.34"/><circle cx="55.8" cy="127.4" r="0.51" opacity="0.21"/><circle cx="52.2" cy="132.3" r="0.52" opacity="0.28"/><circle cx="103.5" cy="126.0" r="0.45" opacity="0.23"/><circle cx="92.4" cy="146.8" r="0.43" opacity="0.34"/><circle cx="128.7" cy="137.3" r="0.53" opacity="0.49"/><circle cx="88.9" cy="122.2" r="0.39" opacity="0.22"/><circle cx="106.2" cy="123.7" r="0.68" opacity="0.54"/><circle cx="118.2" cy="123.2" r="0.35" opacity="0.26"/><circle cx="82.9" cy="145.7" r="0.63" opacity="0.52"/><circle cx="128.7" cy="143.8" r="0.61" opacity="0.34"/><circle cx="103.5" cy="119.0" r="0.66" opacity="0.44"/><circle cx="95.0" cy="111.5" r="0.43" opacity="0.53"/><circle cx="68.4" cy="141.2" r="0.59" opacity="0.34"/><circle cx="139.4" cy="139.5" r="0.49" opacity="0.20"/><circle cx="117.1" cy="122.8" r="0.45" opacity="0.21"/><circle cx="66.4" cy="148.6" r="0.46" opacity="0.37"/><circle cx="119.3" cy="123.5" r="0.73" opacity="0.18"/><circle cx="122.0" cy="136.1" r="0.73" opacity="0.16"/><circle cx="96.5" cy="135.8" r="0.59" opacity="0.34"/><circle cx="98.7" cy="152.4" r="0.70" opacity="0.43"/><circle cx="124.8" cy="124.9" r="0.38" opacity="0.43"/><circle cx="80.7" cy="151.6" r="0.61" opacity="0.23"/><circle cx="50.3" cy="128.9" r="0.42" opacity="0.54"/><circle cx="94.9" cy="152.9" r="0.40" opacity="0.29"/><circle cx="84.6" cy="130.4" r="0.74" opacity="0.25"/><circle cx="77.9" cy="125.3" r="0.39" opacity="0.43"/><circle cx="82.5" cy="137.7" r="0.63" opacity="0.19"/><circle cx="74.4" cy="150.8" r="0.75" opacity="0.16"/><circle cx="114.4" cy="151.0" r="0.68" opacity="0.55"/><circle cx="118.2" cy="148.4" r="0.37" opacity="0.34"/><circle cx="109.9" cy="122.4" r="0.53" opacity="0.33"/><circle cx="101.0" cy="147.0" r="0.74" opacity="0.24"/><circle cx="96.9" cy="148.1" r="0.65" opacity="0.48"/><circle cx="125.0" cy="142.9" r="0.69" opacity="0.40"/><circle cx="59.4" cy="126.3" r="0.69" opacity="0.49"/><circle cx="106.5" cy="117.4" r="0.65" opacity="0.52"/><circle cx="51.6" cy="126.2" r="0.42" opacity="0.24"/><circle cx="120.3" cy="140.0" r="0.68" opacity="0.43"/><circle cx="146.5" cy="137.6" r="0.53" opacity="0.52"/><circle cx="94.7" cy="120.9" r="0.58" opacity="0.22"/><circle cx="102.3" cy="146.5" r="0.35" opacity="0.36"/><circle cx="78.7" cy="128.9" r="0.38" opacity="0.36"/><circle cx="63.2" cy="125.5" r="0.51" opacity="0.42"/><circle cx="80.7" cy="153.3" r="0.38" opacity="0.34"/><circle cx="102.3" cy="148.7" r="0.71" opacity="0.44"/><circle cx="71.8" cy="133.6" r="0.68" opacity="0.35"/><circle cx="112.7" cy="138.0" r="0.43" opacity="0.30"/><circle cx="113.7" cy="118.0" r="0.69" opacity="0.21"/><circle cx="62.8" cy="145.9" r="0.46" opacity="0.39"/><circle cx="87.8" cy="113.2" r="0.55" opacity="0.30"/><circle cx="135.7" cy="135.3" r="0.70" opacity="0.45"/><circle cx="89.5" cy="141.6" r="0.57" opacity="0.30"/><circle cx="87.3" cy="143.9" r="0.71" opacity="0.25"/><circle cx="67.5" cy="126.9" r="0.50" opacity="0.31"/><circle cx="74.8" cy="148.5" r="0.49" opacity="0.47"/><circle cx="88.5" cy="147.8" r="0.74" opacity="0.22"/><circle cx="108.1" cy="152.2" r="0.51" opacity="0.28"/><circle cx="87.5" cy="152.9" r="0.48" opacity="0.50"/><circle cx="81.3" cy="122.7" r="0.75" opacity="0.51"/><circle cx="113.9" cy="131.4" r="0.65" opacity="0.53"/><circle cx="61.6" cy="133.3" r="0.65" opacity="0.32"/><circle cx="140.2" cy="133.1" r="0.56" opacity="0.21"/><circle cx="105.3" cy="134.7" r="0.58" opacity="0.46"/><circle cx="111.0" cy="147.1" r="0.59" opacity="0.21"/><circle cx="97.4" cy="116.0" r="0.71" opacity="0.52"/><circle cx="59.5" cy="132.1" r="0.63" opacity="0.33"/><circle cx="97.7" cy="145.1" r="0.48" opacity="0.20"/><circle cx="114.9" cy="144.9" r="0.73" opacity="0.19"/><circle cx="100.2" cy="122.7" r="0.74" opacity="0.31"/><circle cx="60.0" cy="138.4" r="0.56" opacity="0.22"/><circle cx="102.0" cy="122.3" r="0.65" opacity="0.24"/><circle cx="100.5" cy="139.5" r="0.43" opacity="0.27"/><circle cx="109.5" cy="122.7" r="0.49" opacity="0.40"/><circle cx="123.1" cy="141.1" r="0.58" opacity="0.49"/><circle cx="138.9" cy="138.3" r="0.72" opacity="0.43"/><circle cx="100.2" cy="126.0" r="0.39" opacity="0.52"/><circle cx="80.0" cy="131.1" r="0.57" opacity="0.45"/><circle cx="95.3" cy="114.1" r="0.66" opacity="0.53"/><circle cx="145.0" cy="136.7" r="0.58" opacity="0.51"/><circle cx="116.0" cy="143.0" r="0.75" opacity="0.30"/><circle cx="81.8" cy="151.1" r="0.73" opacity="0.51"/><circle cx="88.5" cy="133.5" r="0.40" opacity="0.49"/><circle cx="60.5" cy="127.7" r="0.39" opacity="0.52"/><circle cx="102.3" cy="145.5" r="0.38" opacity="0.34"/><circle cx="122.0" cy="136.9" r="0.43" opacity="0.34"/><circle cx="133.2" cy="139.8" r="0.39" opacity="0.39"/><circle cx="123.7" cy="128.6" r="0.66" opacity="0.27"/><circle cx="69.1" cy="119.0" r="0.67" opacity="0.38"/><circle cx="94.7" cy="155.8" r="0.43" opacity="0.16"/><circle cx="86.9" cy="115.5" r="0.61" opacity="0.20"/><circle cx="74.8" cy="153.1" r="1.1" fill="#000" opacity="0.6"/><circle cx="108.2" cy="136.5" r="1.1" fill="#000" opacity="0.6"/><circle cx="117.1" cy="136.1" r="1.1" fill="#000" opacity="0.6"/><circle cx="69.2" cy="139.6" r="1.1" fill="#000" opacity="0.6"/><circle cx="117.0" cy="143.6" r="1.1" fill="#000" opacity="0.6"/><circle cx="101.9" cy="130.3" r="1.1" fill="#000" opacity="0.6"/></g>
<path d="M62,128.4 C72,136.4 82,146.4 94,160.4" stroke="#121212" stroke-width="13" fill="none" filter="url(#blur5)"/>
<polyline points="37.4,130.4 86.2,162.0 149.2,138.0" stroke="#000" stroke-width="12" opacity="0.35" fill="none" filter="url(#blur3)"/>
<polyline points="37.4,96.1 86.2,127.69999999999999 149.2,103.69999999999999" stroke="#000" stroke-width="5" opacity="0.35" fill="none" filter="url(#blur2)"/>
</g>
<polyline points="37.4,130.4 86.2,162.0 149.2,138.0" stroke="#fff" stroke-width="1.5" fill="none"/>
<clipPath id="cs1"><polygon points="37.4,94.6 100.4,70.6 149.2,102.2 86.2,126.2"/></clipPath>
<g clip-path="url(#cs1)">
<rect x="30" y="64.6" width="125" height="70" filter="url(#mt1)"/>
<g fill="#fff" filter="url(#blur05)"><circle cx="83.5" cy="86.8" r="0.74" opacity="0.52"/><circle cx="99.2" cy="104.4" r="0.44" opacity="0.24"/><circle cx="89.4" cy="109.6" r="0.43" opacity="0.54"/><circle cx="51.3" cy="99.0" r="0.39" opacity="0.46"/><circle cx="83.5" cy="100.7" r="0.48" opacity="0.40"/><circle cx="73.0" cy="91.5" r="0.52" opacity="0.27"/><circle cx="84.6" cy="118.0" r="0.62" opacity="0.42"/><circle cx="112.3" cy="85.9" r="0.50" opacity="0.32"/><circle cx="95.5" cy="106.0" r="0.35" opacity="0.34"/><circle cx="88.0" cy="92.7" r="0.36" opacity="0.43"/><circle cx="65.5" cy="112.2" r="0.41" opacity="0.16"/><circle cx="52.0" cy="92.3" r="0.41" opacity="0.42"/><circle cx="101.0" cy="88.6" r="0.61" opacity="0.34"/><circle cx="111.5" cy="110.3" r="0.47" opacity="0.50"/><circle cx="114.3" cy="99.6" r="0.35" opacity="0.18"/><circle cx="56.3" cy="104.8" r="0.73" opacity="0.50"/><circle cx="96.0" cy="78.2" r="0.63" opacity="0.46"/><circle cx="127.0" cy="100.2" r="0.41" opacity="0.22"/><circle cx="123.4" cy="98.9" r="0.71" opacity="0.33"/><circle cx="100.2" cy="77.7" r="0.73" opacity="0.50"/><circle cx="62.0" cy="88.6" r="0.57" opacity="0.43"/><circle cx="62.3" cy="88.0" r="0.46" opacity="0.48"/><circle cx="88.8" cy="122.0" r="0.45" opacity="0.23"/><circle cx="92.3" cy="122.9" r="0.71" opacity="0.28"/><circle cx="75.3" cy="112.9" r="0.71" opacity="0.15"/><circle cx="119.1" cy="106.5" r="0.53" opacity="0.38"/><circle cx="99.7" cy="82.8" r="0.46" opacity="0.41"/><circle cx="98.3" cy="98.3" r="0.48" opacity="0.52"/><circle cx="88.7" cy="109.1" r="0.71" opacity="0.31"/><circle cx="51.6" cy="100.3" r="0.38" opacity="0.21"/><circle cx="61.7" cy="102.5" r="0.50" opacity="0.33"/><circle cx="112.3" cy="100.0" r="0.62" opacity="0.30"/><circle cx="106.0" cy="96.1" r="0.40" opacity="0.37"/><circle cx="90.4" cy="108.3" r="0.64" opacity="0.25"/><circle cx="87.0" cy="98.5" r="0.47" opacity="0.17"/><circle cx="89.0" cy="124.8" r="0.65" opacity="0.33"/><circle cx="92.5" cy="87.1" r="0.63" opacity="0.53"/><circle cx="108.8" cy="90.7" r="0.74" opacity="0.52"/><circle cx="61.2" cy="106.2" r="0.53" opacity="0.26"/><circle cx="83.2" cy="84.3" r="0.65" opacity="0.49"/><circle cx="75.1" cy="115.0" r="0.46" opacity="0.41"/><circle cx="128.6" cy="108.9" r="0.67" opacity="0.29"/><circle cx="90.6" cy="81.7" r="0.64" opacity="0.32"/><circle cx="65.7" cy="95.8" r="0.44" opacity="0.47"/><circle cx="54.8" cy="99.6" r="0.43" opacity="0.21"/><circle cx="112.1" cy="95.6" r="0.62" opacity="0.51"/><circle cx="67.5" cy="85.0" r="0.43" opacity="0.36"/><circle cx="127.3" cy="106.5" r="0.55" opacity="0.24"/><circle cx="120.4" cy="109.9" r="0.48" opacity="0.52"/><circle cx="122.5" cy="91.1" r="0.54" opacity="0.20"/><circle cx="46.4" cy="93.2" r="0.59" opacity="0.44"/><circle cx="129.4" cy="89.8" r="0.75" opacity="0.31"/><circle cx="48.7" cy="93.3" r="0.47" opacity="0.36"/><circle cx="114.0" cy="80.3" r="0.44" opacity="0.44"/><circle cx="89.1" cy="102.9" r="0.41" opacity="0.49"/><circle cx="132.2" cy="96.4" r="0.72" opacity="0.28"/><circle cx="54.3" cy="103.5" r="0.71" opacity="0.34"/><circle cx="57.4" cy="94.6" r="0.42" opacity="0.33"/><circle cx="138.9" cy="100.3" r="0.65" opacity="0.45"/><circle cx="87.4" cy="114.6" r="0.44" opacity="0.36"/><circle cx="83.1" cy="122.0" r="1.1" fill="#000" opacity="0.6"/><circle cx="74.4" cy="110.2" r="1.1" fill="#000" opacity="0.6"/><circle cx="110.5" cy="99.1" r="1.1" fill="#000" opacity="0.6"/><circle cx="98.4" cy="89.9" r="1.1" fill="#000" opacity="0.6"/><circle cx="133.1" cy="105.2" r="1.1" fill="#000" opacity="0.6"/><circle cx="124.1" cy="110.7" r="1.1" fill="#000" opacity="0.6"/></g>
<path d="M80,98.6 C74,104.6 68,112.6 62,122.6" stroke="#0a0a0a" stroke-width="13" fill="none" filter="url(#blur2)"/>
<polyline points="37.4,94.6 86.2,126.19999999999999 149.2,102.19999999999999" stroke="#000" stroke-width="12" opacity="0.35" fill="none" filter="url(#blur3)"/>
<polyline points="37.4,78.5 86.2,110.1 149.2,86.1" stroke="#000" stroke-width="5" opacity="0.35" fill="none" filter="url(#blur2)"/>
</g>
<polyline points="37.4,94.6 86.2,126.19999999999999 149.2,102.19999999999999" stroke="#fff" stroke-width="1.5" fill="none"/>
<clipPath id="cs0"><polygon points="37.4,77.0 100.4,53.0 149.2,84.6 86.2,108.6"/></clipPath>
<g clip-path="url(#cs0)">
<rect x="30" y="47" width="125" height="70" filter="url(#mt0)"/>
<g fill="#fff" filter="url(#blur05)"><circle cx="68.8" cy="87.9" r="0.66" opacity="0.43"/><circle cx="104.7" cy="73.1" r="0.67" opacity="0.36"/><circle cx="64.7" cy="89.5" r="0.37" opacity="0.52"/><circle cx="113.4" cy="64.9" r="0.47" opacity="0.46"/><circle cx="59.0" cy="77.7" r="0.43" opacity="0.29"/><circle cx="123.9" cy="92.4" r="0.43" opacity="0.53"/><circle cx="116.4" cy="92.1" r="0.68" opacity="0.21"/><circle cx="84.3" cy="65.4" r="0.35" opacity="0.31"/><circle cx="113.8" cy="76.3" r="0.43" opacity="0.49"/><circle cx="106.5" cy="62.6" r="0.53" opacity="0.41"/><circle cx="100.4" cy="59.3" r="0.57" opacity="0.54"/><circle cx="110.8" cy="85.0" r="0.66" opacity="0.35"/><circle cx="84.5" cy="88.7" r="0.56" opacity="0.29"/><circle cx="108.9" cy="68.0" r="0.54" opacity="0.45"/><circle cx="132.1" cy="85.6" r="0.61" opacity="0.25"/><circle cx="135.2" cy="85.4" r="0.64" opacity="0.46"/><circle cx="93.8" cy="80.3" r="0.58" opacity="0.21"/><circle cx="122.0" cy="88.0" r="0.42" opacity="0.45"/><circle cx="87.8" cy="63.9" r="0.37" opacity="0.39"/><circle cx="66.3" cy="81.5" r="0.60" opacity="0.41"/><circle cx="112.3" cy="77.0" r="0.48" opacity="0.16"/><circle cx="54.0" cy="80.4" r="0.56" opacity="0.44"/><circle cx="69.6" cy="84.3" r="0.72" opacity="0.31"/><circle cx="112.5" cy="79.4" r="0.61" opacity="0.34"/><circle cx="105.9" cy="86.1" r="0.41" opacity="0.47"/><circle cx="94.7" cy="57.5" r="0.43" opacity="0.25"/><circle cx="50.2" cy="79.2" r="0.61" opacity="0.20"/><circle cx="87.8" cy="105.3" r="0.51" opacity="0.37"/><circle cx="84.0" cy="76.5" r="0.53" opacity="0.23"/><circle cx="86.2" cy="71.0" r="0.41" opacity="0.23"/><circle cx="108.8" cy="96.5" r="0.59" opacity="0.54"/><circle cx="75.4" cy="75.6" r="0.63" opacity="0.23"/><circle cx="119.3" cy="65.4" r="0.46" opacity="0.26"/><circle cx="102.3" cy="99.3" r="0.75" opacity="0.37"/><circle cx="52.5" cy="71.7" r="0.38" opacity="0.27"/><circle cx="108.5" cy="81.4" r="0.69" opacity="0.48"/><circle cx="92.5" cy="89.8" r="0.53" opacity="0.44"/><circle cx="96.7" cy="103.4" r="0.36" opacity="0.40"/><circle cx="98.7" cy="93.8" r="0.41" opacity="0.51"/><circle cx="73.5" cy="100.2" r="0.63" opacity="0.35"/><circle cx="67.0" cy="84.9" r="0.53" opacity="0.24"/><circle cx="88.7" cy="99.8" r="0.57" opacity="0.26"/><circle cx="107.7" cy="82.0" r="0.40" opacity="0.38"/><circle cx="79.6" cy="66.5" r="0.47" opacity="0.50"/><circle cx="84.8" cy="70.2" r="0.51" opacity="0.33"/><circle cx="124.0" cy="87.2" r="0.38" opacity="0.17"/><circle cx="66.2" cy="67.0" r="0.41" opacity="0.19"/><circle cx="73.5" cy="94.6" r="0.39" opacity="0.38"/><circle cx="105.1" cy="58.3" r="0.65" opacity="0.38"/><circle cx="94.5" cy="102.9" r="0.64" opacity="0.30"/><circle cx="98.5" cy="59.0" r="0.68" opacity="0.49"/><circle cx="89.4" cy="103.1" r="0.66" opacity="0.52"/><circle cx="91.2" cy="93.6" r="0.66" opacity="0.29"/><circle cx="40.3" cy="76.6" r="0.55" opacity="0.37"/><circle cx="76.1" cy="93.9" r="0.37" opacity="0.34"/><circle cx="79.5" cy="71.2" r="0.37" opacity="0.51"/><circle cx="119.8" cy="75.1" r="0.36" opacity="0.36"/><circle cx="135.5" cy="78.1" r="0.63" opacity="0.17"/><circle cx="85.2" cy="70.5" r="0.74" opacity="0.15"/><circle cx="94.4" cy="99.5" r="0.40" opacity="0.27"/><circle cx="99.7" cy="97.5" r="0.63" opacity="0.52"/><circle cx="53.8" cy="75.2" r="0.49" opacity="0.46"/><circle cx="122.0" cy="91.7" r="0.64" opacity="0.18"/><circle cx="67.2" cy="75.9" r="0.46" opacity="0.42"/><circle cx="102.3" cy="90.3" r="0.36" opacity="0.51"/><circle cx="83.9" cy="96.6" r="0.69" opacity="0.17"/><circle cx="119.2" cy="94.8" r="0.35" opacity="0.35"/><circle cx="82.8" cy="78.8" r="0.43" opacity="0.22"/><circle cx="64.8" cy="77.5" r="0.47" opacity="0.51"/><circle cx="109.9" cy="62.4" r="0.36" opacity="0.26"/><circle cx="100.0" cy="62.0" r="1.1" fill="#000" opacity="0.6"/><circle cx="83.6" cy="64.0" r="1.1" fill="#000" opacity="0.6"/><circle cx="67.9" cy="73.9" r="1.1" fill="#000" opacity="0.6"/><circle cx="94.3" cy="73.9" r="1.1" fill="#000" opacity="0.6"/><circle cx="111.4" cy="74.8" r="1.1" fill="#000" opacity="0.6"/><circle cx="63.9" cy="68.0" r="1.1" fill="#000" opacity="0.6"/></g>
<ellipse cx="64" cy="76" rx="22" ry="8" fill="#fff" opacity="0.22" filter="url(#blur3)" transform="rotate(-18 64 76)"/>
<path d="M95,50 L97,53 90.5,66 C87,73 83,76 77,80 C70,84 63,89 57,101 L76,105 C80,99 84,94 90,88 C94,83 97,78 102.5,66 L109,54 L104,50 Z" fill="#0c0c0c" filter="url(#blur1)"/>
<polyline points="37.4,77 86.2,108.6 149.2,84.6" stroke="#000" stroke-width="12" opacity="0.35" fill="none" filter="url(#blur3)"/>
</g>
<polyline points="37.4,77 86.2,108.6 149.2,84.6" stroke="#fff" stroke-width="1.5" fill="none"/>
<polyline points="77.3,266.2 87,272.3 99.8,267.6" stroke="#000" stroke-width="1.8" fill="none"/>
<text x="84.23" y="279.40" font-size="5.6" fill="#000" font-weight="normal" textLength="19.16" lengthAdjust="spacingAndGlyphs">100<tspan font-style="italic">&#956;</tspan>m</text>
<text x="160.74" y="11.40" font-size="15.2" fill="#000" font-weight="normal" textLength="10.47" lengthAdjust="spacingAndGlyphs">B</text>
<text x="192.53" y="9.30" font-size="9.9" fill="#000" font-weight="bold" textLength="46.40" lengthAdjust="spacingAndGlyphs">D=100<tspan font-style="italic" font-weight="normal">&#956;</tspan>m</text>
<text x="277.32" y="9.30" font-size="9.9" fill="#000" font-weight="bold" textLength="46.71" lengthAdjust="spacingAndGlyphs">D=300<tspan font-style="italic" font-weight="normal">&#956;</tspan>m</text>
<text x="361.82" y="9.30" font-size="9.9" fill="#000" font-weight="bold" textLength="46.61" lengthAdjust="spacingAndGlyphs">D=500<tspan font-style="italic" font-weight="normal">&#956;</tspan>m</text>
<rect x="184.0" y="23.4" width="4.6" height="34.2" fill="#cbcbcb"/>
<rect x="196.4" y="23.4" width="4.4" height="34.2" fill="#cbcbcb"/>
<rect x="221.4" y="23.4" width="4.4" height="34.2" fill="#cbcbcb"/>
<rect x="234.0" y="23.4" width="4.3" height="34.2" fill="#cbcbcb"/>
<line x1="207.6" y1="23.4" x2="207.6" y2="57.6" stroke="#c6c6c6" stroke-width="1.1" stroke-dasharray="3.6,1.8"/>
<line x1="212.1" y1="23.4" x2="212.1" y2="57.6" stroke="#c6c6c6" stroke-width="1.1" stroke-dasharray="3.6,1.8"/>
<rect x="184.0" y="171" width="4.6" height="33.599999999999994" fill="#cbcbcb"/>
<rect x="196.4" y="171" width="4.4" height="33.599999999999994" fill="#cbcbcb"/>
<rect x="221.4" y="171" width="4.4" height="33.599999999999994" fill="#cbcbcb"/>
<rect x="234.0" y="171" width="4.3" height="33.599999999999994" fill="#cbcbcb"/>
<line x1="207.6" y1="171" x2="207.6" y2="204.6" stroke="#c6c6c6" stroke-width="1.1" stroke-dasharray="3.6,1.8"/>
<line x1="212.1" y1="171" x2="212.1" y2="204.6" stroke="#c6c6c6" stroke-width="1.1" stroke-dasharray="3.6,1.8"/>
<line x1="220.4" y1="23.4" x2="220.4" y2="58.2" stroke="#e4602c" stroke-width="1.5"/>
<polyline points="181.0,78.6 220.4,58.2 247.2,78.6" stroke="#e4602c" stroke-width="1.25" fill="none"/>
<path d="M181.20,47.20 C182.03,46.93 184.90,45.50 186.20,45.60 C187.50,45.70 187.88,47.43 189.00,47.80 C190.12,48.17 191.35,48.17 192.90,47.80 C194.45,47.43 196.88,45.40 198.30,45.60 C199.72,45.80 200.12,48.55 201.40,49.00 C202.68,49.45 204.83,48.68 206.00,48.30 C207.17,47.92 207.10,48.38 208.40,46.70 C209.70,45.02 211.98,41.17 213.80,38.20 C215.62,35.23 217.87,31.02 219.30,28.90 C220.73,26.78 221.50,25.50 222.40,25.50 C223.30,25.50 223.80,26.00 224.70,28.90 C225.60,31.80 226.50,39.55 227.80,42.90 C229.10,46.25 231.07,48.23 232.50,49.00 C233.93,49.77 235.37,47.43 236.40,47.50 C237.43,47.57 237.55,49.40 238.70,49.40 C239.85,49.40 241.88,48.25 243.30,47.50 C244.72,46.75 246.55,45.33 247.20,44.90" stroke="#000" stroke-width="1.6" fill="none"/>
<line x1="187.4" y1="171" x2="187.4" y2="205.4" stroke="#3a7bc8" stroke-width="1.5"/>
<polyline points="181.0,225.7 187.4,205.4 247.2,225.7" stroke="#3a7bc8" stroke-width="1.25" fill="none"/>
<path d="M181.20,194.80 C182.03,194.43 184.90,192.60 186.20,192.60 C187.50,192.60 187.88,194.35 189.00,194.80 C190.12,195.25 191.35,195.60 192.90,195.30 C194.45,195.00 196.88,192.88 198.30,193.00 C199.72,193.12 200.12,195.62 201.40,196.00 C202.68,196.38 204.83,195.68 206.00,195.30 C207.17,194.92 207.10,195.38 208.40,193.70 C209.70,192.02 211.47,188.57 213.80,185.20 C216.13,181.83 220.58,174.93 222.40,173.50 C224.22,172.07 223.80,173.75 224.70,176.60 C225.60,179.45 226.50,187.23 227.80,190.60 C229.10,193.97 231.07,196.02 232.50,196.80 C233.93,197.58 235.37,195.30 236.40,195.30 C237.43,195.30 237.55,196.80 238.70,196.80 C239.85,196.80 241.88,196.07 243.30,195.30 C244.72,194.53 246.55,192.72 247.20,192.20" stroke="#000" stroke-width="1.6" fill="none"/>
<rect x="268.9" y="23.4" width="4.6" height="34.2" fill="#cbcbcb"/>
<rect x="281.3" y="23.4" width="4.4" height="34.2" fill="#cbcbcb"/>
<rect x="306.3" y="23.4" width="4.4" height="34.2" fill="#cbcbcb"/>
<rect x="318.9" y="23.4" width="4.3" height="34.2" fill="#cbcbcb"/>
<line x1="292.5" y1="23.4" x2="292.5" y2="57.6" stroke="#c6c6c6" stroke-width="1.1" stroke-dasharray="3.6,1.8"/>
<line x1="297.0" y1="23.4" x2="297.0" y2="57.6" stroke="#c6c6c6" stroke-width="1.1" stroke-dasharray="3.6,1.8"/>
<rect x="268.9" y="171" width="4.6" height="33.599999999999994" fill="#cbcbcb"/>
<rect x="281.3" y="171" width="4.4" height="33.599999999999994" fill="#cbcbcb"/>
<rect x="306.3" y="171" width="4.4" height="33.599999999999994" fill="#cbcbcb"/>
<rect x="318.9" y="171" width="4.3" height="33.599999999999994" fill="#cbcbcb"/>
<line x1="292.5" y1="171" x2="292.5" y2="204.6" stroke="#c6c6c6" stroke-width="1.1" stroke-dasharray="3.6,1.8"/>
<line x1="297.0" y1="171" x2="297.0" y2="204.6" stroke="#c6c6c6" stroke-width="1.1" stroke-dasharray="3.6,1.8"/>
<line x1="305.3" y1="23.4" x2="305.3" y2="58.2" stroke="#e4602c" stroke-width="1.5"/>
<polyline points="265.4,78.6 305.3,58.2 331.6,78.6" stroke="#e4602c" stroke-width="1.25" fill="none"/>
<path d="M265.20,49.50 C266.05,48.67 268.83,44.42 270.30,44.50 C271.77,44.58 272.62,49.32 274.00,50.00 C275.38,50.68 277.20,49.15 278.60,48.60 C280.00,48.05 281.15,45.83 282.40,46.70 C283.65,47.57 284.87,53.02 286.10,53.80 C287.33,54.58 288.55,52.73 289.80,51.40 C291.05,50.07 292.03,48.13 293.60,45.80 C295.17,43.47 297.18,39.48 299.20,37.40 C301.22,35.32 304.15,33.30 305.70,33.30 C307.25,33.30 307.57,35.02 308.50,37.40 C309.43,39.78 310.38,44.97 311.30,47.60 C312.22,50.23 313.05,52.47 314.00,53.20 C314.95,53.93 315.90,52.83 317.00,52.00 C318.10,51.17 319.53,48.22 320.60,48.20 C321.67,48.18 321.53,52.77 323.40,51.90 C325.27,51.03 330.40,44.48 331.80,43.00" stroke="#000" stroke-width="1.6" fill="none"/>
<line x1="272.3" y1="171" x2="272.3" y2="205.4" stroke="#3a7bc8" stroke-width="1.5"/>
<polyline points="265.4,225.7 272.3,205.4 331.6,225.7" stroke="#3a7bc8" stroke-width="1.25" fill="none"/>
<path d="M265.40,196.80 C266.27,195.90 269.17,191.27 270.60,191.40 C272.03,191.53 272.92,196.75 274.00,197.60 C275.08,198.45 275.68,197.22 277.10,196.50 C278.52,195.78 281.00,192.55 282.50,193.30 C284.00,194.05 284.93,200.02 286.10,201.00 C287.27,201.98 288.42,200.03 289.50,199.20 C290.58,198.37 291.30,197.82 292.60,196.00 C293.90,194.18 295.87,190.48 297.30,188.30 C298.73,186.12 299.65,184.20 301.20,182.90 C302.75,181.60 305.32,180.12 306.60,180.50 C307.88,180.88 308.12,182.87 308.90,185.20 C309.68,187.53 310.38,191.97 311.30,194.50 C312.22,197.03 313.45,199.48 314.40,200.40 C315.35,201.32 315.97,200.85 317.00,200.00 C318.03,199.15 319.48,195.38 320.60,195.30 C321.72,195.22 322.53,199.50 323.70,199.50 C324.87,199.50 326.25,196.97 327.60,195.30 C328.95,193.63 331.10,190.47 331.80,189.50" stroke="#000" stroke-width="1.6" fill="none"/>
<rect x="353.4" y="23.4" width="4.6" height="34.2" fill="#cbcbcb"/>
<rect x="365.8" y="23.4" width="4.4" height="34.2" fill="#cbcbcb"/>
<rect x="390.8" y="23.4" width="4.4" height="34.2" fill="#cbcbcb"/>
<rect x="403.4" y="23.4" width="4.3" height="34.2" fill="#cbcbcb"/>
<line x1="377.0" y1="23.4" x2="377.0" y2="57.6" stroke="#c6c6c6" stroke-width="1.1" stroke-dasharray="3.6,1.8"/>
<line x1="381.5" y1="23.4" x2="381.5" y2="57.6" stroke="#c6c6c6" stroke-width="1.1" stroke-dasharray="3.6,1.8"/>
<rect x="353.4" y="171" width="4.6" height="33.599999999999994" fill="#cbcbcb"/>
<rect x="365.8" y="171" width="4.4" height="33.599999999999994" fill="#cbcbcb"/>
<rect x="390.8" y="171" width="4.4" height="33.599999999999994" fill="#cbcbcb"/>
<rect x="403.4" y="171" width="4.3" height="33.599999999999994" fill="#cbcbcb"/>
<line x1="377.0" y1="171" x2="377.0" y2="204.6" stroke="#c6c6c6" stroke-width="1.1" stroke-dasharray="3.6,1.8"/>
<line x1="381.5" y1="171" x2="381.5" y2="204.6" stroke="#c6c6c6" stroke-width="1.1" stroke-dasharray="3.6,1.8"/>
<line x1="389.8" y1="23.4" x2="389.8" y2="58.2" stroke="#e4602c" stroke-width="1.5"/>
<polyline points="350.1,78.6 389.8,58.2 416.3,78.6" stroke="#e4602c" stroke-width="1.25" fill="none"/>
<path d="M350.30,48.60 C350.92,48.13 352.77,45.57 354.00,45.80 C355.23,46.03 356.47,49.45 357.70,50.00 C358.93,50.55 360.27,49.22 361.40,49.10 C362.53,48.98 363.40,49.70 364.50,49.30 C365.60,48.90 367.05,46.67 368.00,46.70 C368.95,46.73 369.33,49.28 370.20,49.50 C371.07,49.72 372.17,48.15 373.20,48.00 C374.23,47.85 375.40,48.67 376.40,48.60 C377.40,48.53 377.80,49.00 379.20,47.60 C380.60,46.20 383.00,41.90 384.80,40.20 C386.60,38.50 388.62,37.40 390.00,37.40 C391.38,37.40 392.10,38.33 393.10,40.20 C394.10,42.07 394.97,46.58 396.00,48.60 C397.03,50.62 398.22,52.00 399.30,52.30 C400.38,52.60 401.45,51.02 402.50,50.40 C403.55,49.78 404.77,48.67 405.60,48.60 C406.43,48.53 406.68,50.27 407.50,50.00 C408.32,49.73 409.58,47.67 410.50,47.00 C411.42,46.33 412.00,46.42 413.00,46.00 C414.00,45.58 415.92,44.75 416.50,44.50" stroke="#000" stroke-width="1.6" fill="none"/>
<line x1="356.8" y1="171" x2="356.8" y2="205.4" stroke="#3a7bc8" stroke-width="1.5"/>
<polyline points="350.1,225.7 356.8,205.4 416.3,225.7" stroke="#3a7bc8" stroke-width="1.25" fill="none"/>
<path d="M350.40,195.30 C351.18,194.97 353.72,192.97 355.10,193.30 C356.48,193.63 357.53,196.77 358.70,197.30 C359.87,197.83 361.05,196.63 362.10,196.50 C363.15,196.37 364.02,196.97 365.00,196.50 C365.98,196.03 367.07,193.78 368.00,193.70 C368.93,193.62 369.77,195.78 370.60,196.00 C371.43,196.22 371.97,195.12 373.00,195.00 C374.03,194.88 375.63,195.52 376.80,195.30 C377.97,195.08 378.83,194.87 380.00,193.70 C381.17,192.53 382.63,189.72 383.80,188.30 C384.97,186.88 385.83,185.85 387.00,185.20 C388.17,184.55 389.77,184.15 390.80,184.40 C391.83,184.65 392.42,185.02 393.20,186.70 C393.98,188.38 394.47,192.28 395.50,194.50 C396.53,196.72 398.23,199.35 399.40,200.00 C400.57,200.65 401.47,199.10 402.50,198.40 C403.53,197.70 404.70,196.00 405.60,195.80 C406.50,195.60 407.13,197.42 407.90,197.20 C408.67,196.98 409.30,195.15 410.20,194.50 C411.10,193.85 412.25,193.77 413.30,193.30 C414.35,192.83 415.97,191.97 416.50,191.70" stroke="#000" stroke-width="1.6" fill="none"/>
<polyline points="173.6,43.2 173.6,60.1 186.8,60.1" stroke="#000" stroke-width="1.4" fill="none"/>
<text transform="translate(170.20,56.66) rotate(-90)" x="0" y="0" font-size="6.3" fill="#000" font-weight="normal" textLength="9.39" lengthAdjust="spacingAndGlyphs">5%</text>
<text x="171.39" y="67.40" font-size="6.3" fill="#000" font-weight="normal" textLength="20.63" lengthAdjust="spacingAndGlyphs">200 ms</text>
<rect x="420" y="17.7" width="9.3" height="4.3" fill="#cbcbcb"/>
<rect x="420.3" y="26.8" width="8.7" height="4.3" fill="none" stroke="#c4c4c4" stroke-width="0.7" stroke-dasharray="2,1.5"/>
<text x="437.37" y="21.90" font-size="5.5" fill="#333" font-weight="normal" textLength="10.05" lengthAdjust="spacingAndGlyphs">STD</text>
<text x="437.06" y="30.70" font-size="5.5" fill="#333" font-weight="normal" textLength="8.46" lengthAdjust="spacingAndGlyphs">OM</text>
<clipPath id="hc1"><rect x="181" y="78.6" width="66.2" height="66.2"/></clipPath>
<filter id="hb1" filterUnits="userSpaceOnUse" x="179.5" y="77.1" width="69.2" height="69.2" color-interpolation-filters="sRGB"><feGaussianBlur stdDeviation="0.45" edgeMode="duplicate"/></filter>
<g clip-path="url(#hc1)"><g filter="url(#hb1)">
<rect x="179.50" y="77.10" width="5.64" height="5.64" fill="#db7332" shape-rendering="crispEdges"/>
<rect x="185.14" y="77.10" width="4.14" height="5.64" fill="#d09538" shape-rendering="crispEdges"/>
<rect x="189.28" y="77.10" width="4.14" height="5.64" fill="#db7332" shape-rendering="crispEdges"/>
<rect x="193.41" y="77.10" width="4.14" height="5.64" fill="#c9b33c" shape-rendering="crispEdges"/>
<rect x="197.55" y="77.10" width="4.14" height="5.64" fill="#da5430" shape-rendering="crispEdges"/>
<rect x="201.69" y="77.10" width="4.14" height="5.64" fill="#db7332" shape-rendering="crispEdges"/>
<rect x="205.82" y="77.10" width="4.14" height="5.64" fill="#d09538" shape-rendering="crispEdges"/>
<rect x="209.96" y="77.10" width="4.14" height="5.64" fill="#db7332" shape-rendering="crispEdges"/>
<rect x="214.10" y="77.10" width="4.14" height="5.64" fill="#c9b33c" shape-rendering="crispEdges"/>
<rect x="218.24" y="77.10" width="4.14" height="5.64" fill="#c4cf3f" shape-rendering="crispEdges"/>
<rect x="222.38" y="77.10" width="4.14" height="5.64" fill="#c4cf3f" shape-rendering="crispEdges"/>
<rect x="226.51" y="77.10" width="4.14" height="5.64" fill="#c9b33c" shape-rendering="crispEdges"/>
<rect x="230.65" y="77.10" width="4.14" height="5.64" fill="#c9b33c" shape-rendering="crispEdges"/>
<rect x="234.79" y="77.10" width="4.14" height="5.64" fill="#d09538" shape-rendering="crispEdges"/>
<rect x="238.93" y="77.10" width="4.14" height="5.64" fill="#db7332" shape-rendering="crispEdges"/>
<rect x="243.06" y="77.10" width="5.64" height="5.64" fill="#db7332" shape-rendering="crispEdges"/>
<rect x="179.50" y="82.74" width="5.64" height="4.14" fill="#c9b33c" shape-rendering="crispEdges"/>
<rect x="185.14" y="82.74" width="4.14" height="4.14" fill="#db7332" shape-rendering="crispEdges"/>
<rect x="189.28" y="82.74" width="4.14" height="4.14" fill="#c9b33c" shape-rendering="crispEdges"/>
<rect x="193.41" y="82.74" width="4.14" height="4.14" fill="#c4cf3f" shape-rendering="crispEdges"/>
<rect x="197.55" y="82.74" width="4.14" height="4.14" fill="#db7332" shape-rendering="crispEdges"/>
<rect x="201.69" y="82.74" width="4.14" height="4.14" fill="#db7332" shape-rendering="crispEdges"/>
<rect x="205.82" y="82.74" width="4.14" height="4.14" fill="#d8372c" shape-rendering="crispEdges"/>
<rect x="209.96" y="82.74" width="4.14" height="4.14" fill="#db7332" shape-rendering="crispEdges"/>
<rect x="214.10" y="82.74" width="4.14" height="4.14" fill="#c9b33c" shape-rendering="crispEdges"/>
<rect x="218.24" y="82.74" width="4.14" height="4.14" fill="#d09538" shape-rendering="crispEdges"/>
<rect x="222.38" y="82.74" width="4.14" height="4.14" fill="#db7332" shape-rendering="crispEdges"/>
<rect x="226.51" y="82.74" width="4.14" height="4.14" fill="#c9b33c" shape-rendering="crispEdges"/>
<rect x="230.65" y="82.74" width="4.14" height="4.14" fill="#db7332" shape-rendering="crispEdges"/>
<rect x="234.79" y="82.74" width="4.14" height="4.14" fill="#c9b33c" shape-rendering="crispEdges"/>
<rect x="238.93" y="82.74" width="4.14" height="4.14" fill="#c4cf3f" shape-rendering="crispEdges"/>
<rect x="243.06" y="82.74" width="5.64" height="4.14" fill="#d8372c" shape-rendering="crispEdges"/>
<rect x="179.50" y="86.88" width="5.64" height="4.14" fill="#db7332" shape-rendering="crispEdges"/>
<rect x="185.14" y="86.88" width="4.14" height="4.14" fill="#c9b33c" shape-rendering="crispEdges"/>
<rect x="189.28" y="86.88" width="4.14" height="4.14" fill="#db7332" shape-rendering="crispEdges"/>
<rect x="193.41" y="86.88" width="4.14" height="4.14" fill="#db7332" shape-rendering="crispEdges"/>
<rect x="197.55" y="86.88" width="4.14" height="4.14" fill="#db7332" shape-rendering="crispEdges"/>
<rect x="201.69" y="86.88" width="4.14" height="4.14" fill="#c9b33c" shape-rendering="crispEdges"/>
<rect x="205.82" y="86.88" width="4.14" height="4.14" fill="#db7332" shape-rendering="crispEdges"/>
<rect x="209.96" y="86.88" width="4.14" height="4.14" fill="#db7332" shape-rendering="crispEdges"/>
<rect x="214.10" y="86.88" width="4.14" height="4.14" fill="#d8372c" shape-rendering="crispEdges"/>
<rect x="218.24" y="86.88" width="4.14" height="4.14" fill="#c9b33c" shape-rendering="crispEdges"/>
<rect x="222.38" y="86.88" width="4.14" height="4.14" fill="#db7332" shape-rendering="crispEdges"/>
<rect x="226.51" y="86.88" width="4.14" height="4.14" fill="#c9b33c" shape-rendering="crispEdges"/>
<rect x="230.65" y="86.88" width="4.14" height="4.14" fill="#d09538" shape-rendering="crispEdges"/>
<rect x="234.79" y="86.88" width="4.14" height="4.14" fill="#db7332" shape-rendering="crispEdges"/>
<rect x="238.93" y="86.88" width="4.14" height="4.14" fill="#db7332" shape-rendering="crispEdges"/>
<rect x="243.06" y="86.88" width="5.64" height="4.14" fill="#db7332" shape-rendering="crispEdges"/>
<rect x="179.50" y="91.01" width="5.64" height="4.14" fill="#c4cf3f" shape-rendering="crispEdges"/>
<rect x="185.14" y="91.01" width="4.14" height="4.14" fill="#c4cf3f" shape-rendering="crispEdges"/>
<rect x="189.28" y="91.01" width="4.14" height="4.14" fill="#db7332" shape-rendering="crispEdges"/>
<rect x="193.41" y="91.01" width="4.14" height="4.14" fill="#c4cf3f" shape-rendering="crispEdges"/>
<rect x="197.55" y="91.01" width="4.14" height="4.14" fill="#d8372c" shape-rendering="crispEdges"/>
<rect x="201.69" y="91.01" width="4.14" height="4.14" fill="#d8372c" shape-rendering="crispEdges"/>
<rect x="205.82" y="91.01" width="4.14" height="4.14" fill="#d8372c" shape-rendering="crispEdges"/>
<rect x="209.96" y="91.01" width="4.14" height="4.14" fill="#d8372c" shape-rendering="crispEdges"/>
<rect x="214.10" y="91.01" width="4.14" height="4.14" fill="#db7332" shape-rendering="crispEdges"/>
<rect x="218.24" y="91.01" width="4.14" height="4.14" fill="#d8372c" shape-rendering="crispEdges"/>
<rect x="222.38" y="91.01" width="4.14" height="4.14" fill="#db7332" shape-rendering="crispEdges"/>
<rect x="226.51" y="91.01" width="4.14" height="4.14" fill="#db7332" shape-rendering="crispEdges"/>
<rect x="230.65" y="91.01" width="4.14" height="4.14" fill="#d8372c" shape-rendering="crispEdges"/>
<rect x="234.79" y="91.01" width="4.14" height="4.14" fill="#d8372c" shape-rendering="crispEdges"/>
<rect x="238.93" y="91.01" width="4.14" height="4.14" fill="#d8372c" shape-rendering="crispEdges"/>
<rect x="243.06" y="91.01" width="5.64" height="4.14" fill="#d8372c" shape-rendering="crispEdges"/>
<rect x="179.50" y="95.15" width="5.64" height="4.14" fill="#da5430" shape-rendering="crispEdges"/>
<rect x="185.14" y="95.15" width="4.14" height="4.14" fill="#db7332" shape-rendering="crispEdges"/>
<rect x="189.28" y="95.15" width="4.14" height="4.14" fill="#db7332" shape-rendering="crispEdges"/>
<rect x="193.41" y="95.15" width="4.14" height="4.14" fill="#d8372c" shape-rendering="crispEdges"/>
<rect x="197.55" y="95.15" width="4.14" height="4.14" fill="#d8372c" shape-rendering="crispEdges"/>
<rect x="201.69" y="95.15" width="4.14" height="4.14" fill="#da5430" shape-rendering="crispEdges"/>
<rect x="205.82" y="95.15" width="4.14" height="4.14" fill="#d8372c" shape-rendering="crispEdges"/>
<rect x="209.96" y="95.15" width="4.14" height="4.14" fill="#d8372c" shape-rendering="crispEdges"/>
<rect x="214.10" y="95.15" width="4.14" height="4.14" fill="#db7332" shape-rendering="crispEdges"/>
<rect x="218.24" y="95.15" width="4.14" height="4.14" fill="#db7332" shape-rendering="crispEdges"/>
<rect x="222.38" y="95.15" width="4.14" height="4.14" fill="#d8372c" shape-rendering="crispEdges"/>
<rect x="226.51" y="95.15" width="4.14" height="4.14" fill="#d8372c" shape-rendering="crispEdges"/>
<rect x="230.65" y="95.15" width="4.14" height="4.14" fill="#d8372c" shape-rendering="crispEdges"/>
<rect x="234.79" y="95.15" width="4.14" height="4.14" fill="#d8372c" shape-rendering="crispEdges"/>
<rect x="238.93" y="95.15" width="4.14" height="4.14" fill="#d8372c" shape-rendering="crispEdges"/>
<rect x="243.06" y="95.15" width="5.64" height="4.14" fill="#d8372c" shape-rendering="crispEdges"/>
<rect x="179.50" y="99.29" width="5.64" height="4.14" fill="#da5430" shape-rendering="crispEdges"/>
<rect x="185.14" y="99.29" width="4.14" height="4.14" fill="#db7332" shape-rendering="crispEdges"/>
<rect x="189.28" y="99.29" width="4.14" height="4.14" fill="#da5430" shape-rendering="crispEdges"/>
<rect x="193.41" y="99.29" width="4.14" height="4.14" fill="#d8372c" shape-rendering="crispEdges"/>
<rect x="197.55" y="99.29" width="4.14" height="4.14" fill="#d8372c" shape-rendering="crispEdges"/>
<rect x="201.69" y="99.29" width="4.14" height="4.14" fill="#d8372c" shape-rendering="crispEdges"/>
<rect x="205.82" y="99.29" width="4.14" height="4.14" fill="#d09538" shape-rendering="crispEdges"/>
<rect x="209.96" y="99.29" width="4.14" height="4.14" fill="#d8372c" shape-rendering="crispEdges"/>
<rect x="214.10" y="99.29" width="4.14" height="4.14" fill="#db7332" shape-rendering="crispEdges"/>
<rect x="218.24" y="99.29" width="4.14" height="4.14" fill="#d8372c" shape-rendering="crispEdges"/>
<rect x="222.38" y="99.29" width="4.14" height="4.14" fill="#d8372c" shape-rendering="crispEdges"/>
<rect x="226.51" y="99.29" width="4.14" height="4.14" fill="#d8372c" shape-rendering="crispEdges"/>
<rect x="230.65" y="99.29" width="4.14" height="4.14" fill="#d8372c" shape-rendering="crispEdges"/>
<rect x="234.79" y="99.29" width="4.14" height="4.14" fill="#d8372c" shape-rendering="crispEdges"/>
<rect x="238.93" y="99.29" width="4.14" height="4.14" fill="#d8372c" shape-rendering="crispEdges"/>
<rect x="243.06" y="99.29" width="5.64" height="4.14" fill="#d8372c" shape-rendering="crispEdges"/>
<rect x="179.50" y="103.42" width="5.64" height="4.14" fill="#db7332" shape-rendering="crispEdges"/>
<rect x="185.14" y="103.42" width="4.14" height="4.14" fill="#d8372c" shape-rendering="crispEdges"/>
<rect x="189.28" y="103.42" width="4.14" height="4.14" fill="#d8372c" shape-rendering="crispEdges"/>
<rect x="193.41" y="103.42" width="4.14" height="4.14" fill="#d8372c" shape-rendering="crispEdges"/>
<rect x="197.55" y="103.42" width="4.14" height="4.14" fill="#d8372c" shape-rendering="crispEdges"/>
<rect x="201.69" y="103.42" width="4.14" height="4.14" fill="#d8372c" shape-rendering="crispEdges"/>
<rect x="205.82" y="103.42" width="4.14" height="4.14" fill="#d8372c" shape-rendering="crispEdges"/>
<rect x="209.96" y="103.42" width="4.14" height="4.14" fill="#d8372c" shape-rendering="crispEdges"/>
<rect x="214.10" y="103.42" width="4.14" height="4.14" fill="#db7332" shape-rendering="crispEdges"/>
<rect x="218.24" y="103.42" width="4.14" height="4.14" fill="#d8372c" shape-rendering="crispEdges"/>
<rect x="222.38" y="103.42" width="4.14" height="4.14" fill="#d8372c" shape-rendering="crispEdges"/>
<rect x="226.51" y="103.42" width="4.14" height="4.14" fill="#d8372c" shape-rendering="crispEdges"/>
<rect x="230.65" y="103.42" width="4.14" height="4.14" fill="#d8372c" shape-rendering="crispEdges"/>
<rect x="234.79" y="103.42" width="4.14" height="4.14" fill="#d8372c" shape-rendering="crispEdges"/>
<rect x="238.93" y="103.42" width="4.14" height="4.14" fill="#d8372c" shape-rendering="crispEdges"/>
<rect x="243.06" y="103.42" width="5.64" height="4.14" fill="#d8372c" shape-rendering="crispEdges"/>
<rect x="179.50" y="107.56" width="5.64" height="4.14" fill="#da5430" shape-rendering="crispEdges"/>
<rect x="185.14" y="107.56" width="4.14" height="4.14" fill="#db7332" shape-rendering="crispEdges"/>
<rect x="189.28" y="107.56" width="4.14" height="4.14" fill="#db7332" shape-rendering="crispEdges"/>
<rect x="193.41" y="107.56" width="4.14" height="4.14" fill="#d8372c" shape-rendering="crispEdges"/>
<rect x="197.55" y="107.56" width="4.14" height="4.14" fill="#d8372c" shape-rendering="crispEdges"/>
<rect x="201.69" y="107.56" width="4.14" height="4.14" fill="#d8372c" shape-rendering="crispEdges"/>
<rect x="205.82" y="107.56" width="4.14" height="4.14" fill="#d8372c" shape-rendering="crispEdges"/>
<rect x="209.96" y="107.56" width="4.14" height="4.14" fill="#d8372c" shape-rendering="crispEdges"/>
<rect x="214.10" y="107.56" width="4.14" height="4.14" fill="#d8372c" shape-rendering="crispEdges"/>
<rect x="218.24" y="107.56" width="4.14" height="4.14" fill="#d8372c" shape-rendering="crispEdges"/>
<rect x="222.38" y="107.56" width="4.14" height="4.14" fill="#d8372c" shape-rendering="crispEdges"/>
<rect x="226.51" y="107.56" width="4.14" height="4.14" fill="#d8372c" shape-rendering="crispEdges"/>
<rect x="230.65" y="107.56" width="4.14" height="4.14" fill="#d8372c" shape-rendering="crispEdges"/>
<rect x="234.79" y="107.56" width="4.14" height="4.14" fill="#d8372c" shape-rendering="crispEdges"/>
<rect x="238.93" y="107.56" width="4.14" height="4.14" fill="#d8372c" shape-rendering="crispEdges"/>
<rect x="243.06" y="107.56" width="5.64" height="4.14" fill="#d8372c" shape-rendering="crispEdges"/>
<rect x="179.50" y="111.70" width="5.64" height="4.14" fill="#da5430" shape-rendering="crispEdges"/>
<rect x="185.14" y="111.70" width="4.14" height="4.14" fill="#d8372c" shape-rendering="crispEdges"/>
<rect x="189.28" y="111.70" width="4.14" height="4.14" fill="#d8372c" shape-rendering="crispEdges"/>
<rect x="193.41" y="111.70" width="4.14" height="4.14" fill="#d8372c" shape-rendering="crispEdges"/>
<rect x="197.55" y="111.70" width="4.14" height="4.14" fill="#d8372c" shape-rendering="crispEdges"/>
<rect x="201.69" y="111.70" width="4.14" height="4.14" fill="#db7332" shape-rendering="crispEdges"/>
<rect x="205.82" y="111.70" width="4.14" height="4.14" fill="#d8372c" shape-rendering="crispEdges"/>
<rect x="209.96" y="111.70" width="4.14" height="4.14" fill="#d8372c" shape-rendering="crispEdges"/>
<rect x="214.10" y="111.70" width="4.14" height="4.14" fill="#d8372c" shape-rendering="crispEdges"/>
<rect x="218.24" y="111.70" width="4.14" height="4.14" fill="#d8372c" shape-rendering="crispEdges"/>
<rect x="222.38" y="111.70" width="4.14" height="4.14" fill="#d8372c" shape-rendering="crispEdges"/>
<rect x="226.51" y="111.70" width="4.14" height="4.14" fill="#d8372c" shape-rendering="crispEdges"/>
<rect x="230.65" y="111.70" width="4.14" height="4.14" fill="#d8372c" shape-rendering="crispEdges"/>
<rect x="234.79" y="111.70" width="4.14" height="4.14" fill="#d8372c" shape-rendering="crispEdges"/>
<rect x="238.93" y="111.70" width="4.14" height="4.14" fill="#d8372c" shape-rendering="crispEdges"/>
<rect x="243.06" y="111.70" width="5.64" height="4.14" fill="#d8372c" shape-rendering="crispEdges"/>
<rect x="179.50" y="115.84" width="5.64" height="4.14" fill="#da5430" shape-rendering="crispEdges"/>
<rect x="185.14" y="115.84" width="4.14" height="4.14" fill="#d8372c" shape-rendering="crispEdges"/>
<rect x="189.28" y="115.84" width="4.14" height="4.14" fill="#d8372c" shape-rendering="crispEdges"/>
<rect x="193.41" y="115.84" width="4.14" height="4.14" fill="#d8372c" shape-rendering="crispEdges"/>
<rect x="197.55" y="115.84" width="4.14" height="4.14" fill="#d8372c" shape-rendering="crispEdges"/>
<rect x="201.69" y="115.84" width="4.14" height="4.14" fill="#d8372c" shape-rendering="crispEdges"/>
<rect x="205.82" y="115.84" width="4.14" height="4.14" fill="#d8372c" shape-rendering="crispEdges"/>
<rect x="209.96" y="115.84" width="4.14" height="4.14" fill="#d8372c" shape-rendering="crispEdges"/>
<rect x="214.10" y="115.84" width="4.14" height="4.14" fill="#d8372c" shape-rendering="crispEdges"/>
<rect x="218.24" y="115.84" width="4.14" height="4.14" fill="#d8372c" shape-rendering="crispEdges"/>
<rect x="222.38" y="115.84" width="4.14" height="4.14" fill="#d8372c" shape-rendering="crispEdges"/>
<rect x="226.51" y="115.84" width="4.14" height="4.14" fill="#d8372c" shape-rendering="crispEdges"/>
<rect x="230.65" y="115.84" width="4.14" height="4.14" fill="#d8372c" shape-rendering="crispEdges"/>
<rect x="234.79" y="115.84" width="4.14" height="4.14" fill="#d8372c" shape-rendering="crispEdges"/>
<rect x="238.93" y="115.84" width="4.14" height="4.14" fill="#d8372c" shape-rendering="crispEdges"/>
<rect x="243.06" y="115.84" width="5.64" height="4.14" fill="#d8372c" shape-rendering="crispEdges"/>
<rect x="179.50" y="119.97" width="5.64" height="4.14" fill="#da5430" shape-rendering="crispEdges"/>
<rect x="185.14" y="119.97" width="4.14" height="4.14" fill="#d8372c" shape-rendering="crispEdges"/>
<rect x="189.28" y="119.97" width="4.14" height="4.14" fill="#d8372c" shape-rendering="crispEdges"/>
<rect x="193.41" y="119.97" width="4.14" height="4.14" fill="#d09538" shape-rendering="crispEdges"/>
<rect x="197.55" y="119.97" width="4.14" height="4.14" fill="#d8372c" shape-rendering="crispEdges"/>
<rect x="201.69" y="119.97" width="4.14" height="4.14" fill="#d8372c" shape-rendering="crispEdges"/>
<rect x="205.82" y="119.97" width="4.14" height="4.14" fill="#d8372c" shape-rendering="crispEdges"/>
<rect x="209.96" y="119.97" width="4.14" height="4.14" fill="#d8372c" shape-rendering="crispEdges"/>
<rect x="214.10" y="119.97" width="4.14" height="4.14" fill="#d8372c" shape-rendering="crispEdges"/>
<rect x="218.24" y="119.97" width="4.14" height="4.14" fill="#d8372c" shape-rendering="crispEdges"/>
<rect x="222.38" y="119.97" width="4.14" height="4.14" fill="#d8372c" shape-rendering="crispEdges"/>
<rect x="226.51" y="119.97" width="4.14" height="4.14" fill="#d8372c" shape-rendering="crispEdges"/>
<rect x="230.65" y="119.97" width="4.14" height="4.14" fill="#d8372c" shape-rendering="crispEdges"/>
<rect x="234.79" y="119.97" width="4.14" height="4.14" fill="#d8372c" shape-rendering="crispEdges"/>
<rect x="238.93" y="119.97" width="4.14" height="4.14" fill="#d8372c" shape-rendering="crispEdges"/>
<rect x="243.06" y="119.97" width="5.64" height="4.14" fill="#d8372c" shape-rendering="crispEdges"/>
<rect x="179.50" y="124.11" width="5.64" height="4.14" fill="#c9b33c" shape-rendering="crispEdges"/>
<rect x="185.14" y="124.11" width="4.14" height="4.14" fill="#d8372c" shape-rendering="crispEdges"/>
<rect x="189.28" y="124.11" width="4.14" height="4.14" fill="#d8372c" shape-rendering="crispEdges"/>
<rect x="193.41" y="124.11" width="4.14" height="4.14" fill="#d8372c" shape-rendering="crispEdges"/>
<rect x="197.55" y="124.11" width="4.14" height="4.14" fill="#d8372c" shape-rendering="crispEdges"/>
<rect x="201.69" y="124.11" width="4.14" height="4.14" fill="#d8372c" shape-rendering="crispEdges"/>
<rect x="205.82" y="124.11" width="4.14" height="4.14" fill="#d8372c" shape-rendering="crispEdges"/>
<rect x="209.96" y="124.11" width="4.14" height="4.14" fill="#d8372c" shape-rendering="crispEdges"/>
<rect x="214.10" y="124.11" width="4.14" height="4.14" fill="#d8372c" shape-rendering="crispEdges"/>
<rect x="218.24" y="124.11" width="4.14" height="4.14" fill="#d8372c" shape-rendering="crispEdges"/>
<rect x="222.38" y="124.11" width="4.14" height="4.14" fill="#d8372c" shape-rendering="crispEdges"/>
<rect x="226.51" y="124.11" width="4.14" height="4.14" fill="#d8372c" shape-rendering="crispEdges"/>
<rect x="230.65" y="124.11" width="4.14" height="4.14" fill="#d8372c" shape-rendering="crispEdges"/>
<rect x="234.79" y="124.11" width="4.14" height="4.14" fill="#d8372c" shape-rendering="crispEdges"/>
<rect x="238.93" y="124.11" width="4.14" height="4.14" fill="#d8372c" shape-rendering="crispEdges"/>
<rect x="243.06" y="124.11" width="5.64" height="4.14" fill="#d8372c" shape-rendering="crispEdges"/>
<rect x="179.50" y="128.25" width="5.64" height="4.14" fill="#d8372c" shape-rendering="crispEdges"/>
<rect x="185.14" y="128.25" width="4.14" height="4.14" fill="#d8372c" shape-rendering="crispEdges"/>
<rect x="189.28" y="128.25" width="4.14" height="4.14" fill="#d8372c" shape-rendering="crispEdges"/>
<rect x="193.41" y="128.25" width="4.14" height="4.14" fill="#d8372c" shape-rendering="crispEdges"/>
<rect x="197.55" y="128.25" width="4.14" height="4.14" fill="#d8372c" shape-rendering="crispEdges"/>
<rect x="201.69" y="128.25" width="4.14" height="4.14" fill="#d8372c" shape-rendering="crispEdges"/>
<rect x="205.82" y="128.25" width="4.14" height="4.14" fill="#d8372c" shape-rendering="crispEdges"/>
<rect x="209.96" y="128.25" width="4.14" height="4.14" fill="#d8372c" shape-rendering="crispEdges"/>
<rect x="214.10" y="128.25" width="4.14" height="4.14" fill="#d8372c" shape-rendering="crispEdges"/>
<rect x="218.24" y="128.25" width="4.14" height="4.14" fill="#d8372c" shape-rendering="crispEdges"/>
<rect x="222.38" y="128.25" width="4.14" height="4.14" fill="#d8372c" shape-rendering="crispEdges"/>
<rect x="226.51" y="128.25" width="4.14" height="4.14" fill="#d8372c" shape-rendering="crispEdges"/>
<rect x="230.65" y="128.25" width="4.14" height="4.14" fill="#d8372c" shape-rendering="crispEdges"/>
<rect x="234.79" y="128.25" width="4.14" height="4.14" fill="#d8372c" shape-rendering="crispEdges"/>
<rect x="238.93" y="128.25" width="4.14" height="4.14" fill="#da5430" shape-rendering="crispEdges"/>
<rect x="243.06" y="128.25" width="5.64" height="4.14" fill="#d8372c" shape-rendering="crispEdges"/>
<rect x="179.50" y="132.39" width="5.64" height="4.14" fill="#d8372c" shape-rendering="crispEdges"/>
<rect x="185.14" y="132.39" width="4.14" height="4.14" fill="#d8372c" shape-rendering="crispEdges"/>
<rect x="189.28" y="132.39" width="4.14" height="4.14" fill="#d8372c" shape-rendering="crispEdges"/>
<rect x="193.41" y="132.39" width="4.14" height="4.14" fill="#d8372c" shape-rendering="crispEdges"/>
<rect x="197.55" y="132.39" width="4.14" height="4.14" fill="#d8372c" shape-rendering="crispEdges"/>
<rect x="201.69" y="132.39" width="4.14" height="4.14" fill="#d8372c" shape-rendering="crispEdges"/>
<rect x="205.82" y="132.39" width="4.14" height="4.14" fill="#d8372c" shape-rendering="crispEdges"/>
<rect x="209.96" y="132.39" width="4.14" height="4.14" fill="#d8372c" shape-rendering="crispEdges"/>
<rect x="214.10" y="132.39" width="4.14" height="4.14" fill="#d8372c" shape-rendering="crispEdges"/>
<rect x="218.24" y="132.39" width="4.14" height="4.14" fill="#d8372c" shape-rendering="crispEdges"/>
<rect x="222.38" y="132.39" width="4.14" height="4.14" fill="#da5430" shape-rendering="crispEdges"/>
<rect x="226.51" y="132.39" width="4.14" height="4.14" fill="#d8372c" shape-rendering="crispEdges"/>
<rect x="230.65" y="132.39" width="4.14" height="4.14" fill="#d8372c" shape-rendering="crispEdges"/>
<rect x="234.79" y="132.39" width="4.14" height="4.14" fill="#d8372c" shape-rendering="crispEdges"/>
<rect x="238.93" y="132.39" width="4.14" height="4.14" fill="#d8372c" shape-rendering="crispEdges"/>
<rect x="243.06" y="132.39" width="5.64" height="4.14" fill="#d09538" shape-rendering="crispEdges"/>
<rect x="179.50" y="136.53" width="5.64" height="4.14" fill="#d8372c" shape-rendering="crispEdges"/>
<rect x="185.14" y="136.53" width="4.14" height="4.14" fill="#d8372c" shape-rendering="crispEdges"/>
<rect x="189.28" y="136.53" width="4.14" height="4.14" fill="#db7332" shape-rendering="crispEdges"/>
<rect x="193.41" y="136.53" width="4.14" height="4.14" fill="#db7332" shape-rendering="crispEdges"/>
<rect x="197.55" y="136.53" width="4.14" height="4.14" fill="#d8372c" shape-rendering="crispEdges"/>
<rect x="201.69" y="136.53" width="4.14" height="4.14" fill="#db7332" shape-rendering="crispEdges"/>
<rect x="205.82" y="136.53" width="4.14" height="4.14" fill="#d8372c" shape-rendering="crispEdges"/>
<rect x="209.96" y="136.53" width="4.14" height="4.14" fill="#d8372c" shape-rendering="crispEdges"/>
<rect x="214.10" y="136.53" width="4.14" height="4.14" fill="#d8372c" shape-rendering="crispEdges"/>
<rect x="218.24" y="136.53" width="4.14" height="4.14" fill="#d8372c" shape-rendering="crispEdges"/>
<rect x="222.38" y="136.53" width="4.14" height="4.14" fill="#d8372c" shape-rendering="crispEdges"/>
<rect x="226.51" y="136.53" width="4.14" height="4.14" fill="#d8372c" shape-rendering="crispEdges"/>
<rect x="230.65" y="136.53" width="4.14" height="4.14" fill="#d8372c" shape-rendering="crispEdges"/>
<rect x="234.79" y="136.53" width="4.14" height="4.14" fill="#d8372c" shape-rendering="crispEdges"/>
<rect x="238.93" y="136.53" width="4.14" height="4.14" fill="#d8372c" shape-rendering="crispEdges"/>
<rect x="243.06" y="136.53" width="5.64" height="4.14" fill="#d09538" shape-rendering="crispEdges"/>
<rect x="179.50" y="140.66" width="5.64" height="5.64" fill="#db7332" shape-rendering="crispEdges"/>
<rect x="185.14" y="140.66" width="4.14" height="5.64" fill="#da5430" shape-rendering="crispEdges"/>
<rect x="189.28" y="140.66" width="4.14" height="5.64" fill="#d8372c" shape-rendering="crispEdges"/>
<rect x="193.41" y="140.66" width="4.14" height="5.64" fill="#d8372c" shape-rendering="crispEdges"/>
<rect x="197.55" y="140.66" width="4.14" height="5.64" fill="#d8372c" shape-rendering="crispEdges"/>
<rect x="201.69" y="140.66" width="4.14" height="5.64" fill="#d8372c" shape-rendering="crispEdges"/>
<rect x="205.82" y="140.66" width="4.14" height="5.64" fill="#d8372c" shape-rendering="crispEdges"/>
<rect x="209.96" y="140.66" width="4.14" height="5.64" fill="#d8372c" shape-rendering="crispEdges"/>
<rect x="214.10" y="140.66" width="4.14" height="5.64" fill="#d8372c" shape-rendering="crispEdges"/>
<rect x="218.24" y="140.66" width="4.14" height="5.64" fill="#d8372c" shape-rendering="crispEdges"/>
<rect x="222.38" y="140.66" width="4.14" height="5.64" fill="#d8372c" shape-rendering="crispEdges"/>
<rect x="226.51" y="140.66" width="4.14" height="5.64" fill="#db7332" shape-rendering="crispEdges"/>
<rect x="230.65" y="140.66" width="4.14" height="5.64" fill="#db7332" shape-rendering="crispEdges"/>
<rect x="234.79" y="140.66" width="4.14" height="5.64" fill="#db7332" shape-rendering="crispEdges"/>
<rect x="238.93" y="140.66" width="4.14" height="5.64" fill="#db7332" shape-rendering="crispEdges"/>
<rect x="243.06" y="140.66" width="5.64" height="5.64" fill="#c4cf3f" shape-rendering="crispEdges"/>
</g></g>
<clipPath id="hc2"><rect x="181" y="225.7" width="66.2" height="66.2"/></clipPath>
<filter id="hb2" filterUnits="userSpaceOnUse" x="179.5" y="224.2" width="69.2" height="69.2" color-interpolation-filters="sRGB"><feGaussianBlur stdDeviation="0.45" edgeMode="duplicate"/></filter>
<g clip-path="url(#hc2)"><g filter="url(#hb2)">
<rect x="179.50" y="224.20" width="5.64" height="5.64" fill="#c9c9c9" shape-rendering="crispEdges"/>
<rect x="185.14" y="224.20" width="4.14" height="5.64" fill="#d0d49c" shape-rendering="crispEdges"/>
<rect x="189.28" y="224.20" width="4.14" height="5.64" fill="#d0d49c" shape-rendering="crispEdges"/>
<rect x="193.41" y="224.20" width="4.14" height="5.64" fill="#ccd848" shape-rendering="crispEdges"/>
<rect x="197.55" y="224.20" width="4.14" height="5.64" fill="#c9c9c9" shape-rendering="crispEdges"/>
<rect x="201.69" y="224.20" width="4.14" height="5.64" fill="#d0d49c" shape-rendering="crispEdges"/>
<rect x="205.82" y="224.20" width="4.14" height="5.64" fill="#d0d49c" shape-rendering="crispEdges"/>
<rect x="209.96" y="224.20" width="4.14" height="5.64" fill="#d0d49c" shape-rendering="crispEdges"/>
<rect x="214.10" y="224.20" width="4.14" height="5.64" fill="#d0d49c" shape-rendering="crispEdges"/>
<rect x="218.24" y="224.20" width="4.14" height="5.64" fill="#d0d49c" shape-rendering="crispEdges"/>
<rect x="222.38" y="224.20" width="4.14" height="5.64" fill="#c9c9c9" shape-rendering="crispEdges"/>
<rect x="226.51" y="224.20" width="4.14" height="5.64" fill="#d0d49c" shape-rendering="crispEdges"/>
<rect x="230.65" y="224.20" width="4.14" height="5.64" fill="#c9c9c9" shape-rendering="crispEdges"/>
<rect x="234.79" y="224.20" width="4.14" height="5.64" fill="#d0d49c" shape-rendering="crispEdges"/>
<rect x="238.93" y="224.20" width="4.14" height="5.64" fill="#ccd848" shape-rendering="crispEdges"/>
<rect x="243.06" y="224.20" width="5.64" height="5.64" fill="#c9c9c9" shape-rendering="crispEdges"/>
<rect x="179.50" y="229.84" width="5.64" height="4.14" fill="#d0d49c" shape-rendering="crispEdges"/>
<rect x="185.14" y="229.84" width="4.14" height="4.14" fill="#d0d49c" shape-rendering="crispEdges"/>
<rect x="189.28" y="229.84" width="4.14" height="4.14" fill="#d0d49c" shape-rendering="crispEdges"/>
<rect x="193.41" y="229.84" width="4.14" height="4.14" fill="#d0d49c" shape-rendering="crispEdges"/>
<rect x="197.55" y="229.84" width="4.14" height="4.14" fill="#c9c9c9" shape-rendering="crispEdges"/>
<rect x="201.69" y="229.84" width="4.14" height="4.14" fill="#d0d49c" shape-rendering="crispEdges"/>
<rect x="205.82" y="229.84" width="4.14" height="4.14" fill="#d0d49c" shape-rendering="crispEdges"/>
<rect x="209.96" y="229.84" width="4.14" height="4.14" fill="#c9c9c9" shape-rendering="crispEdges"/>
<rect x="214.10" y="229.84" width="4.14" height="4.14" fill="#bababd" shape-rendering="crispEdges"/>
<rect x="218.24" y="229.84" width="4.14" height="4.14" fill="#bababd" shape-rendering="crispEdges"/>
<rect x="222.38" y="229.84" width="4.14" height="4.14" fill="#d0d49c" shape-rendering="crispEdges"/>
<rect x="226.51" y="229.84" width="4.14" height="4.14" fill="#ccd848" shape-rendering="crispEdges"/>
<rect x="230.65" y="229.84" width="4.14" height="4.14" fill="#d0d49c" shape-rendering="crispEdges"/>
<rect x="234.79" y="229.84" width="4.14" height="4.14" fill="#c9c9c9" shape-rendering="crispEdges"/>
<rect x="238.93" y="229.84" width="4.14" height="4.14" fill="#d0d49c" shape-rendering="crispEdges"/>
<rect x="243.06" y="229.84" width="5.64" height="4.14" fill="#d0d49c" shape-rendering="crispEdges"/>
<rect x="179.50" y="233.97" width="5.64" height="4.14" fill="#c9c9c9" shape-rendering="crispEdges"/>
<rect x="185.14" y="233.97" width="4.14" height="4.14" fill="#d0d49c" shape-rendering="crispEdges"/>
<rect x="189.28" y="233.97" width="4.14" height="4.14" fill="#d0d49c" shape-rendering="crispEdges"/>
<rect x="193.41" y="233.97" width="4.14" height="4.14" fill="#ccd848" shape-rendering="crispEdges"/>
<rect x="197.55" y="233.97" width="4.14" height="4.14" fill="#d0d49c" shape-rendering="crispEdges"/>
<rect x="201.69" y="233.97" width="4.14" height="4.14" fill="#bababd" shape-rendering="crispEdges"/>
<rect x="205.82" y="233.97" width="4.14" height="4.14" fill="#c9c9c9" shape-rendering="crispEdges"/>
<rect x="209.96" y="233.97" width="4.14" height="4.14" fill="#bababd" shape-rendering="crispEdges"/>
<rect x="214.10" y="233.97" width="4.14" height="4.14" fill="#d0d49c" shape-rendering="crispEdges"/>
<rect x="218.24" y="233.97" width="4.14" height="4.14" fill="#c9c9c9" shape-rendering="crispEdges"/>
<rect x="222.38" y="233.97" width="4.14" height="4.14" fill="#d0d49c" shape-rendering="crispEdges"/>
<rect x="226.51" y="233.97" width="4.14" height="4.14" fill="#c9c9c9" shape-rendering="crispEdges"/>
<rect x="230.65" y="233.97" width="4.14" height="4.14" fill="#d0d49c" shape-rendering="crispEdges"/>
<rect x="234.79" y="233.97" width="4.14" height="4.14" fill="#c9c9c9" shape-rendering="crispEdges"/>
<rect x="238.93" y="233.97" width="4.14" height="4.14" fill="#bababd" shape-rendering="crispEdges"/>
<rect x="243.06" y="233.97" width="5.64" height="4.14" fill="#d0d49c" shape-rendering="crispEdges"/>
<rect x="179.50" y="238.11" width="5.64" height="4.14" fill="#d0d49c" shape-rendering="crispEdges"/>
<rect x="185.14" y="238.11" width="4.14" height="4.14" fill="#ccd848" shape-rendering="crispEdges"/>
<rect x="189.28" y="238.11" width="4.14" height="4.14" fill="#d0d49c" shape-rendering="crispEdges"/>
<rect x="193.41" y="238.11" width="4.14" height="4.14" fill="#d0d49c" shape-rendering="crispEdges"/>
<rect x="197.55" y="238.11" width="4.14" height="4.14" fill="#c9c9c9" shape-rendering="crispEdges"/>
<rect x="201.69" y="238.11" width="4.14" height="4.14" fill="#c9c9c9" shape-rendering="crispEdges"/>
<rect x="205.82" y="238.11" width="4.14" height="4.14" fill="#ccd848" shape-rendering="crispEdges"/>
<rect x="209.96" y="238.11" width="4.14" height="4.14" fill="#c9c9c9" shape-rendering="crispEdges"/>
<rect x="214.10" y="238.11" width="4.14" height="4.14" fill="#d0d49c" shape-rendering="crispEdges"/>
<rect x="218.24" y="238.11" width="4.14" height="4.14" fill="#bababd" shape-rendering="crispEdges"/>
<rect x="222.38" y="238.11" width="4.14" height="4.14" fill="#c9c9c9" shape-rendering="crispEdges"/>
<rect x="226.51" y="238.11" width="4.14" height="4.14" fill="#d0d49c" shape-rendering="crispEdges"/>
<rect x="230.65" y="238.11" width="4.14" height="4.14" fill="#c9c9c9" shape-rendering="crispEdges"/>
<rect x="234.79" y="238.11" width="4.14" height="4.14" fill="#c9c9c9" shape-rendering="crispEdges"/>
<rect x="238.93" y="238.11" width="4.14" height="4.14" fill="#d0d49c" shape-rendering="crispEdges"/>
<rect x="243.06" y="238.11" width="5.64" height="4.14" fill="#d0d49c" shape-rendering="crispEdges"/>
<rect x="179.50" y="242.25" width="5.64" height="4.14" fill="#c9c9c9" shape-rendering="crispEdges"/>
<rect x="185.14" y="242.25" width="4.14" height="4.14" fill="#d0d49c" shape-rendering="crispEdges"/>
<rect x="189.28" y="242.25" width="4.14" height="4.14" fill="#d0d49c" shape-rendering="crispEdges"/>
<rect x="193.41" y="242.25" width="4.14" height="4.14" fill="#c9c9c9" shape-rendering="crispEdges"/>
<rect x="197.55" y="242.25" width="4.14" height="4.14" fill="#d0d49c" shape-rendering="crispEdges"/>
<rect x="201.69" y="242.25" width="4.14" height="4.14" fill="#d0d49c" shape-rendering="crispEdges"/>
<rect x="205.82" y="242.25" width="4.14" height="4.14" fill="#d0d49c" shape-rendering="crispEdges"/>
<rect x="209.96" y="242.25" width="4.14" height="4.14" fill="#c9c9c9" shape-rendering="crispEdges"/>
<rect x="214.10" y="242.25" width="4.14" height="4.14" fill="#d0d49c" shape-rendering="crispEdges"/>
<rect x="218.24" y="242.25" width="4.14" height="4.14" fill="#ccd848" shape-rendering="crispEdges"/>
<rect x="222.38" y="242.25" width="4.14" height="4.14" fill="#c9c9c9" shape-rendering="crispEdges"/>
<rect x="226.51" y="242.25" width="4.14" height="4.14" fill="#c9c9c9" shape-rendering="crispEdges"/>
<rect x="230.65" y="242.25" width="4.14" height="4.14" fill="#c9c9c9" shape-rendering="crispEdges"/>
<rect x="234.79" y="242.25" width="4.14" height="4.14" fill="#c9c9c9" shape-rendering="crispEdges"/>
<rect x="238.93" y="242.25" width="4.14" height="4.14" fill="#d0d49c" shape-rendering="crispEdges"/>
<rect x="243.06" y="242.25" width="5.64" height="4.14" fill="#d0d49c" shape-rendering="crispEdges"/>
<rect x="179.50" y="246.39" width="5.64" height="4.14" fill="#c9c9c9" shape-rendering="crispEdges"/>
<rect x="185.14" y="246.39" width="4.14" height="4.14" fill="#d0d49c" shape-rendering="crispEdges"/>
<rect x="189.28" y="246.39" width="4.14" height="4.14" fill="#ccd848" shape-rendering="crispEdges"/>
<rect x="193.41" y="246.39" width="4.14" height="4.14" fill="#d0d49c" shape-rendering="crispEdges"/>
<rect x="197.55" y="246.39" width="4.14" height="4.14" fill="#d0d49c" shape-rendering="crispEdges"/>
<rect x="201.69" y="246.39" width="4.14" height="4.14" fill="#c9c9c9" shape-rendering="crispEdges"/>
<rect x="205.82" y="246.39" width="4.14" height="4.14" fill="#d0d49c" shape-rendering="crispEdges"/>
<rect x="209.96" y="246.39" width="4.14" height="4.14" fill="#c9c9c9" shape-rendering="crispEdges"/>
<rect x="214.10" y="246.39" width="4.14" height="4.14" fill="#d0d49c" shape-rendering="crispEdges"/>
<rect x="218.24" y="246.39" width="4.14" height="4.14" fill="#c9c9c9" shape-rendering="crispEdges"/>
<rect x="222.38" y="246.39" width="4.14" height="4.14" fill="#ccd848" shape-rendering="crispEdges"/>
<rect x="226.51" y="246.39" width="4.14" height="4.14" fill="#c9c9c9" shape-rendering="crispEdges"/>
<rect x="230.65" y="246.39" width="4.14" height="4.14" fill="#d0d49c" shape-rendering="crispEdges"/>
<rect x="234.79" y="246.39" width="4.14" height="4.14" fill="#c9c9c9" shape-rendering="crispEdges"/>
<rect x="238.93" y="246.39" width="4.14" height="4.14" fill="#d0d49c" shape-rendering="crispEdges"/>
<rect x="243.06" y="246.39" width="5.64" height="4.14" fill="#d0d49c" shape-rendering="crispEdges"/>
<rect x="179.50" y="250.52" width="5.64" height="4.14" fill="#ccd848" shape-rendering="crispEdges"/>
<rect x="185.14" y="250.52" width="4.14" height="4.14" fill="#ccd848" shape-rendering="crispEdges"/>
<rect x="189.28" y="250.52" width="4.14" height="4.14" fill="#d0d49c" shape-rendering="crispEdges"/>
<rect x="193.41" y="250.52" width="4.14" height="4.14" fill="#c9c9c9" shape-rendering="crispEdges"/>
<rect x="197.55" y="250.52" width="4.14" height="4.14" fill="#ccd848" shape-rendering="crispEdges"/>
<rect x="201.69" y="250.52" width="4.14" height="4.14" fill="#bababd" shape-rendering="crispEdges"/>
<rect x="205.82" y="250.52" width="4.14" height="4.14" fill="#d0d49c" shape-rendering="crispEdges"/>
<rect x="209.96" y="250.52" width="4.14" height="4.14" fill="#ccd848" shape-rendering="crispEdges"/>
<rect x="214.10" y="250.52" width="4.14" height="4.14" fill="#c9c9c9" shape-rendering="crispEdges"/>
<rect x="218.24" y="250.52" width="4.14" height="4.14" fill="#d0d49c" shape-rendering="crispEdges"/>
<rect x="222.38" y="250.52" width="4.14" height="4.14" fill="#c9c9c9" shape-rendering="crispEdges"/>
<rect x="226.51" y="250.52" width="4.14" height="4.14" fill="#d0d49c" shape-rendering="crispEdges"/>
<rect x="230.65" y="250.52" width="4.14" height="4.14" fill="#d0d49c" shape-rendering="crispEdges"/>
<rect x="234.79" y="250.52" width="4.14" height="4.14" fill="#c9c9c9" shape-rendering="crispEdges"/>
<rect x="238.93" y="250.52" width="4.14" height="4.14" fill="#d0d49c" shape-rendering="crispEdges"/>
<rect x="243.06" y="250.52" width="5.64" height="4.14" fill="#c9c9c9" shape-rendering="crispEdges"/>
<rect x="179.50" y="254.66" width="5.64" height="4.14" fill="#bababd" shape-rendering="crispEdges"/>
<rect x="185.14" y="254.66" width="4.14" height="4.14" fill="#d0d49c" shape-rendering="crispEdges"/>
<rect x="189.28" y="254.66" width="4.14" height="4.14" fill="#ccd848" shape-rendering="crispEdges"/>
<rect x="193.41" y="254.66" width="4.14" height="4.14" fill="#d0d49c" shape-rendering="crispEdges"/>
<rect x="197.55" y="254.66" width="4.14" height="4.14" fill="#d0d49c" shape-rendering="crispEdges"/>
<rect x="201.69" y="254.66" width="4.14" height="4.14" fill="#d0d49c" shape-rendering="crispEdges"/>
<rect x="205.82" y="254.66" width="4.14" height="4.14" fill="#dadad4" shape-rendering="crispEdges"/>
<rect x="209.96" y="254.66" width="4.14" height="4.14" fill="#c9c9c9" shape-rendering="crispEdges"/>
<rect x="214.10" y="254.66" width="4.14" height="4.14" fill="#d0d49c" shape-rendering="crispEdges"/>
<rect x="218.24" y="254.66" width="4.14" height="4.14" fill="#d0d49c" shape-rendering="crispEdges"/>
<rect x="222.38" y="254.66" width="4.14" height="4.14" fill="#c9c9c9" shape-rendering="crispEdges"/>
<rect x="226.51" y="254.66" width="4.14" height="4.14" fill="#d0d49c" shape-rendering="crispEdges"/>
<rect x="230.65" y="254.66" width="4.14" height="4.14" fill="#d0d49c" shape-rendering="crispEdges"/>
<rect x="234.79" y="254.66" width="4.14" height="4.14" fill="#c9c9c9" shape-rendering="crispEdges"/>
<rect x="238.93" y="254.66" width="4.14" height="4.14" fill="#c9c9c9" shape-rendering="crispEdges"/>
<rect x="243.06" y="254.66" width="5.64" height="4.14" fill="#c9c9c9" shape-rendering="crispEdges"/>
<rect x="179.50" y="258.80" width="5.64" height="4.14" fill="#d0d49c" shape-rendering="crispEdges"/>
<rect x="185.14" y="258.80" width="4.14" height="4.14" fill="#d0d49c" shape-rendering="crispEdges"/>
<rect x="189.28" y="258.80" width="4.14" height="4.14" fill="#ccd848" shape-rendering="crispEdges"/>
<rect x="193.41" y="258.80" width="4.14" height="4.14" fill="#d0d49c" shape-rendering="crispEdges"/>
<rect x="197.55" y="258.80" width="4.14" height="4.14" fill="#ccd848" shape-rendering="crispEdges"/>
<rect x="201.69" y="258.80" width="4.14" height="4.14" fill="#d0d49c" shape-rendering="crispEdges"/>
<rect x="205.82" y="258.80" width="4.14" height="4.14" fill="#d0d49c" shape-rendering="crispEdges"/>
<rect x="209.96" y="258.80" width="4.14" height="4.14" fill="#ccd848" shape-rendering="crispEdges"/>
<rect x="214.10" y="258.80" width="4.14" height="4.14" fill="#d0d49c" shape-rendering="crispEdges"/>
<rect x="218.24" y="258.80" width="4.14" height="4.14" fill="#d0d49c" shape-rendering="crispEdges"/>
<rect x="222.38" y="258.80" width="4.14" height="4.14" fill="#c9c9c9" shape-rendering="crispEdges"/>
<rect x="226.51" y="258.80" width="4.14" height="4.14" fill="#c9c9c9" shape-rendering="crispEdges"/>
<rect x="230.65" y="258.80" width="4.14" height="4.14" fill="#ccd848" shape-rendering="crispEdges"/>
<rect x="234.79" y="258.80" width="4.14" height="4.14" fill="#d0d49c" shape-rendering="crispEdges"/>
<rect x="238.93" y="258.80" width="4.14" height="4.14" fill="#d0d49c" shape-rendering="crispEdges"/>
<rect x="243.06" y="258.80" width="5.64" height="4.14" fill="#c9c9c9" shape-rendering="crispEdges"/>
<rect x="179.50" y="262.94" width="5.64" height="4.14" fill="#d0d49c" shape-rendering="crispEdges"/>
<rect x="185.14" y="262.94" width="4.14" height="4.14" fill="#c9c9c9" shape-rendering="crispEdges"/>
<rect x="189.28" y="262.94" width="4.14" height="4.14" fill="#d0d49c" shape-rendering="crispEdges"/>
<rect x="193.41" y="262.94" width="4.14" height="4.14" fill="#d0d49c" shape-rendering="crispEdges"/>
<rect x="197.55" y="262.94" width="4.14" height="4.14" fill="#d0d49c" shape-rendering="crispEdges"/>
<rect x="201.69" y="262.94" width="4.14" height="4.14" fill="#d0d49c" shape-rendering="crispEdges"/>
<rect x="205.82" y="262.94" width="4.14" height="4.14" fill="#c9c9c9" shape-rendering="crispEdges"/>
<rect x="209.96" y="262.94" width="4.14" height="4.14" fill="#d0d49c" shape-rendering="crispEdges"/>
<rect x="214.10" y="262.94" width="4.14" height="4.14" fill="#d0d49c" shape-rendering="crispEdges"/>
<rect x="218.24" y="262.94" width="4.14" height="4.14" fill="#d0d49c" shape-rendering="crispEdges"/>
<rect x="222.38" y="262.94" width="4.14" height="4.14" fill="#d0d49c" shape-rendering="crispEdges"/>
<rect x="226.51" y="262.94" width="4.14" height="4.14" fill="#d0d49c" shape-rendering="crispEdges"/>
<rect x="230.65" y="262.94" width="4.14" height="4.14" fill="#d0d49c" shape-rendering="crispEdges"/>
<rect x="234.79" y="262.94" width="4.14" height="4.14" fill="#c9c9c9" shape-rendering="crispEdges"/>
<rect x="238.93" y="262.94" width="4.14" height="4.14" fill="#d0d49c" shape-rendering="crispEdges"/>
<rect x="243.06" y="262.94" width="5.64" height="4.14" fill="#d0d49c" shape-rendering="crispEdges"/>
<rect x="179.50" y="267.07" width="5.64" height="4.14" fill="#d0d49c" shape-rendering="crispEdges"/>
<rect x="185.14" y="267.07" width="4.14" height="4.14" fill="#d0d49c" shape-rendering="crispEdges"/>
<rect x="189.28" y="267.07" width="4.14" height="4.14" fill="#d0d49c" shape-rendering="crispEdges"/>
<rect x="193.41" y="267.07" width="4.14" height="4.14" fill="#d0d49c" shape-rendering="crispEdges"/>
<rect x="197.55" y="267.07" width="4.14" height="4.14" fill="#d0d49c" shape-rendering="crispEdges"/>
<rect x="201.69" y="267.07" width="4.14" height="4.14" fill="#d0d49c" shape-rendering="crispEdges"/>
<rect x="205.82" y="267.07" width="4.14" height="4.14" fill="#d0d49c" shape-rendering="crispEdges"/>
<rect x="209.96" y="267.07" width="4.14" height="4.14" fill="#d0d49c" shape-rendering="crispEdges"/>
<rect x="214.10" y="267.07" width="4.14" height="4.14" fill="#d0d49c" shape-rendering="crispEdges"/>
<rect x="218.24" y="267.07" width="4.14" height="4.14" fill="#d0d49c" shape-rendering="crispEdges"/>
<rect x="222.38" y="267.07" width="4.14" height="4.14" fill="#c9c9c9" shape-rendering="crispEdges"/>
<rect x="226.51" y="267.07" width="4.14" height="4.14" fill="#d0d49c" shape-rendering="crispEdges"/>
<rect x="230.65" y="267.07" width="4.14" height="4.14" fill="#d0d49c" shape-rendering="crispEdges"/>
<rect x="234.79" y="267.07" width="4.14" height="4.14" fill="#ccd848" shape-rendering="crispEdges"/>
<rect x="238.93" y="267.07" width="4.14" height="4.14" fill="#c9c9c9" shape-rendering="crispEdges"/>
<rect x="243.06" y="267.07" width="5.64" height="4.14" fill="#d0d49c" shape-rendering="crispEdges"/>
<rect x="179.50" y="271.21" width="5.64" height="4.14" fill="#d0d49c" shape-rendering="crispEdges"/>
<rect x="185.14" y="271.21" width="4.14" height="4.14" fill="#ccd848" shape-rendering="crispEdges"/>
<rect x="189.28" y="271.21" width="4.14" height="4.14" fill="#ccd848" shape-rendering="crispEdges"/>
<rect x="193.41" y="271.21" width="4.14" height="4.14" fill="#d0d49c" shape-rendering="crispEdges"/>
<rect x="197.55" y="271.21" width="4.14" height="4.14" fill="#d0d49c" shape-rendering="crispEdges"/>
<rect x="201.69" y="271.21" width="4.14" height="4.14" fill="#ccd848" shape-rendering="crispEdges"/>
<rect x="205.82" y="271.21" width="4.14" height="4.14" fill="#d0d49c" shape-rendering="crispEdges"/>
<rect x="209.96" y="271.21" width="4.14" height="4.14" fill="#d0d49c" shape-rendering="crispEdges"/>
<rect x="214.10" y="271.21" width="4.14" height="4.14" fill="#ccd848" shape-rendering="crispEdges"/>
<rect x="218.24" y="271.21" width="4.14" height="4.14" fill="#d0d49c" shape-rendering="crispEdges"/>
<rect x="222.38" y="271.21" width="4.14" height="4.14" fill="#c9c9c9" shape-rendering="crispEdges"/>
<rect x="226.51" y="271.21" width="4.14" height="4.14" fill="#bababd" shape-rendering="crispEdges"/>
<rect x="230.65" y="271.21" width="4.14" height="4.14" fill="#ccd848" shape-rendering="crispEdges"/>
<rect x="234.79" y="271.21" width="4.14" height="4.14" fill="#d0d49c" shape-rendering="crispEdges"/>
<rect x="238.93" y="271.21" width="4.14" height="4.14" fill="#c9c9c9" shape-rendering="crispEdges"/>
<rect x="243.06" y="271.21" width="5.64" height="4.14" fill="#ccd848" shape-rendering="crispEdges"/>
<rect x="179.50" y="275.35" width="5.64" height="4.14" fill="#ccd848" shape-rendering="crispEdges"/>
<rect x="185.14" y="275.35" width="4.14" height="4.14" fill="#d0d49c" shape-rendering="crispEdges"/>
<rect x="189.28" y="275.35" width="4.14" height="4.14" fill="#ccd848" shape-rendering="crispEdges"/>
<rect x="193.41" y="275.35" width="4.14" height="4.14" fill="#d0d49c" shape-rendering="crispEdges"/>
<rect x="197.55" y="275.35" width="4.14" height="4.14" fill="#d0d49c" shape-rendering="crispEdges"/>
<rect x="201.69" y="275.35" width="4.14" height="4.14" fill="#c9c9c9" shape-rendering="crispEdges"/>
<rect x="205.82" y="275.35" width="4.14" height="4.14" fill="#d0d49c" shape-rendering="crispEdges"/>
<rect x="209.96" y="275.35" width="4.14" height="4.14" fill="#d0d49c" shape-rendering="crispEdges"/>
<rect x="214.10" y="275.35" width="4.14" height="4.14" fill="#d0d49c" shape-rendering="crispEdges"/>
<rect x="218.24" y="275.35" width="4.14" height="4.14" fill="#d0d49c" shape-rendering="crispEdges"/>
<rect x="222.38" y="275.35" width="4.14" height="4.14" fill="#ccd848" shape-rendering="crispEdges"/>
<rect x="226.51" y="275.35" width="4.14" height="4.14" fill="#d0d49c" shape-rendering="crispEdges"/>
<rect x="230.65" y="275.35" width="4.14" height="4.14" fill="#c9c9c9" shape-rendering="crispEdges"/>
<rect x="234.79" y="275.35" width="4.14" height="4.14" fill="#d0d49c" shape-rendering="crispEdges"/>
<rect x="238.93" y="275.35" width="4.14" height="4.14" fill="#d0d49c" shape-rendering="crispEdges"/>
<rect x="243.06" y="275.35" width="5.64" height="4.14" fill="#c9c9c9" shape-rendering="crispEdges"/>
<rect x="179.50" y="279.49" width="5.64" height="4.14" fill="#c9c9c9" shape-rendering="crispEdges"/>
<rect x="185.14" y="279.49" width="4.14" height="4.14" fill="#d0d49c" shape-rendering="crispEdges"/>
<rect x="189.28" y="279.49" width="4.14" height="4.14" fill="#d0d49c" shape-rendering="crispEdges"/>
<rect x="193.41" y="279.49" width="4.14" height="4.14" fill="#d0d49c" shape-rendering="crispEdges"/>
<rect x="197.55" y="279.49" width="4.14" height="4.14" fill="#d0d49c" shape-rendering="crispEdges"/>
<rect x="201.69" y="279.49" width="4.14" height="4.14" fill="#c9c9c9" shape-rendering="crispEdges"/>
<rect x="205.82" y="279.49" width="4.14" height="4.14" fill="#d0d49c" shape-rendering="crispEdges"/>
<rect x="209.96" y="279.49" width="4.14" height="4.14" fill="#d0d49c" shape-rendering="crispEdges"/>
<rect x="214.10" y="279.49" width="4.14" height="4.14" fill="#c9c9c9" shape-rendering="crispEdges"/>
<rect x="218.24" y="279.49" width="4.14" height="4.14" fill="#d0d49c" shape-rendering="crispEdges"/>
<rect x="222.38" y="279.49" width="4.14" height="4.14" fill="#c9c9c9" shape-rendering="crispEdges"/>
<rect x="226.51" y="279.49" width="4.14" height="4.14" fill="#c9c9c9" shape-rendering="crispEdges"/>
<rect x="230.65" y="279.49" width="4.14" height="4.14" fill="#d0d49c" shape-rendering="crispEdges"/>
<rect x="234.79" y="279.49" width="4.14" height="4.14" fill="#c9c9c9" shape-rendering="crispEdges"/>
<rect x="238.93" y="279.49" width="4.14" height="4.14" fill="#c9c9c9" shape-rendering="crispEdges"/>
<rect x="243.06" y="279.49" width="5.64" height="4.14" fill="#c9c9c9" shape-rendering="crispEdges"/>
<rect x="179.50" y="283.62" width="5.64" height="4.14" fill="#d0d49c" shape-rendering="crispEdges"/>
<rect x="185.14" y="283.62" width="4.14" height="4.14" fill="#ccd848" shape-rendering="crispEdges"/>
<rect x="189.28" y="283.62" width="4.14" height="4.14" fill="#ccd848" shape-rendering="crispEdges"/>
<rect x="193.41" y="283.62" width="4.14" height="4.14" fill="#ccd848" shape-rendering="crispEdges"/>
<rect x="197.55" y="283.62" width="4.14" height="4.14" fill="#c9c9c9" shape-rendering="crispEdges"/>
<rect x="201.69" y="283.62" width="4.14" height="4.14" fill="#d0d49c" shape-rendering="crispEdges"/>
<rect x="205.82" y="283.62" width="4.14" height="4.14" fill="#ccd848" shape-rendering="crispEdges"/>
<rect x="209.96" y="283.62" width="4.14" height="4.14" fill="#d0d49c" shape-rendering="crispEdges"/>
<rect x="214.10" y="283.62" width="4.14" height="4.14" fill="#d0d49c" shape-rendering="crispEdges"/>
<rect x="218.24" y="283.62" width="4.14" height="4.14" fill="#c9c9c9" shape-rendering="crispEdges"/>
<rect x="222.38" y="283.62" width="4.14" height="4.14" fill="#d0d49c" shape-rendering="crispEdges"/>
<rect x="226.51" y="283.62" width="4.14" height="4.14" fill="#c9c9c9" shape-rendering="crispEdges"/>
<rect x="230.65" y="283.62" width="4.14" height="4.14" fill="#d0d49c" shape-rendering="crispEdges"/>
<rect x="234.79" y="283.62" width="4.14" height="4.14" fill="#c9c9c9" shape-rendering="crispEdges"/>
<rect x="238.93" y="283.62" width="4.14" height="4.14" fill="#c9c9c9" shape-rendering="crispEdges"/>
<rect x="243.06" y="283.62" width="5.64" height="4.14" fill="#c9c9c9" shape-rendering="crispEdges"/>
<rect x="179.50" y="287.76" width="5.64" height="5.64" fill="#d0d49c" shape-rendering="crispEdges"/>
<rect x="185.14" y="287.76" width="4.14" height="5.64" fill="#d0d49c" shape-rendering="crispEdges"/>
<rect x="189.28" y="287.76" width="4.14" height="5.64" fill="#d0d49c" shape-rendering="crispEdges"/>
<rect x="193.41" y="287.76" width="4.14" height="5.64" fill="#d0d49c" shape-rendering="crispEdges"/>
<rect x="197.55" y="287.76" width="4.14" height="5.64" fill="#c9c9c9" shape-rendering="crispEdges"/>
<rect x="201.69" y="287.76" width="4.14" height="5.64" fill="#d0d49c" shape-rendering="crispEdges"/>
<rect x="205.82" y="287.76" width="4.14" height="5.64" fill="#d0d49c" shape-rendering="crispEdges"/>
<rect x="209.96" y="287.76" width="4.14" height="5.64" fill="#d0d49c" shape-rendering="crispEdges"/>
<rect x="214.10" y="287.76" width="4.14" height="5.64" fill="#d0d49c" shape-rendering="crispEdges"/>
<rect x="218.24" y="287.76" width="4.14" height="5.64" fill="#c9c9c9" shape-rendering="crispEdges"/>
<rect x="222.38" y="287.76" width="4.14" height="5.64" fill="#d0d49c" shape-rendering="crispEdges"/>
<rect x="226.51" y="287.76" width="4.14" height="5.64" fill="#c9c9c9" shape-rendering="crispEdges"/>
<rect x="230.65" y="287.76" width="4.14" height="5.64" fill="#d0d49c" shape-rendering="crispEdges"/>
<rect x="234.79" y="287.76" width="4.14" height="5.64" fill="#c9c9c9" shape-rendering="crispEdges"/>
<rect x="238.93" y="287.76" width="4.14" height="5.64" fill="#c9c9c9" shape-rendering="crispEdges"/>
<rect x="243.06" y="287.76" width="5.64" height="5.64" fill="#c9c9c9" shape-rendering="crispEdges"/>
</g></g>
<clipPath id="hc3"><rect x="265.4" y="78.6" width="66.2" height="66.2"/></clipPath>
<filter id="hb3" filterUnits="userSpaceOnUse" x="263.9" y="77.1" width="69.2" height="69.2" color-interpolation-filters="sRGB"><feGaussianBlur stdDeviation="0.45" edgeMode="duplicate"/></filter>
<g clip-path="url(#hc3)"><g filter="url(#hb3)">
<rect x="263.90" y="77.10" width="5.64" height="5.64" fill="#c8b23c" shape-rendering="crispEdges"/>
<rect x="269.54" y="77.10" width="4.14" height="5.64" fill="#d08a36" shape-rendering="crispEdges"/>
<rect x="273.67" y="77.10" width="4.14" height="5.64" fill="#d95f30" shape-rendering="crispEdges"/>
<rect x="277.81" y="77.10" width="4.14" height="5.64" fill="#d95f30" shape-rendering="crispEdges"/>
<rect x="281.95" y="77.10" width="4.14" height="5.64" fill="#d08a36" shape-rendering="crispEdges"/>
<rect x="286.09" y="77.10" width="4.14" height="5.64" fill="#d08a36" shape-rendering="crispEdges"/>
<rect x="290.22" y="77.10" width="4.14" height="5.64" fill="#c4cf40" shape-rendering="crispEdges"/>
<rect x="294.36" y="77.10" width="4.14" height="5.64" fill="#d08a36" shape-rendering="crispEdges"/>
<rect x="298.50" y="77.10" width="4.14" height="5.64" fill="#d08a36" shape-rendering="crispEdges"/>
<rect x="302.64" y="77.10" width="4.14" height="5.64" fill="#c4cf40" shape-rendering="crispEdges"/>
<rect x="306.77" y="77.10" width="4.14" height="5.64" fill="#c4cf40" shape-rendering="crispEdges"/>
<rect x="310.91" y="77.10" width="4.14" height="5.64" fill="#c4cf40" shape-rendering="crispEdges"/>
<rect x="315.05" y="77.10" width="4.14" height="5.64" fill="#d08a36" shape-rendering="crispEdges"/>
<rect x="319.19" y="77.10" width="4.14" height="5.64" fill="#d08a36" shape-rendering="crispEdges"/>
<rect x="323.32" y="77.10" width="4.14" height="5.64" fill="#c4cf40" shape-rendering="crispEdges"/>
<rect x="327.46" y="77.10" width="5.64" height="5.64" fill="#c4cf40" shape-rendering="crispEdges"/>
<rect x="263.90" y="82.74" width="5.64" height="4.14" fill="#c8b23c" shape-rendering="crispEdges"/>
<rect x="269.54" y="82.74" width="4.14" height="4.14" fill="#d9502f" shape-rendering="crispEdges"/>
<rect x="273.67" y="82.74" width="4.14" height="4.14" fill="#d8392d" shape-rendering="crispEdges"/>
<rect x="277.81" y="82.74" width="4.14" height="4.14" fill="#d95f30" shape-rendering="crispEdges"/>
<rect x="281.95" y="82.74" width="4.14" height="4.14" fill="#d95f30" shape-rendering="crispEdges"/>
<rect x="286.09" y="82.74" width="4.14" height="4.14" fill="#d9502f" shape-rendering="crispEdges"/>
<rect x="290.22" y="82.74" width="4.14" height="4.14" fill="#d08a36" shape-rendering="crispEdges"/>
<rect x="294.36" y="82.74" width="4.14" height="4.14" fill="#c4cf40" shape-rendering="crispEdges"/>
<rect x="298.50" y="82.74" width="4.14" height="4.14" fill="#c4cf40" shape-rendering="crispEdges"/>
<rect x="302.64" y="82.74" width="4.14" height="4.14" fill="#d95f30" shape-rendering="crispEdges"/>
<rect x="306.77" y="82.74" width="4.14" height="4.14" fill="#c4cf40" shape-rendering="crispEdges"/>
<rect x="310.91" y="82.74" width="4.14" height="4.14" fill="#c8b23c" shape-rendering="crispEdges"/>
<rect x="315.05" y="82.74" width="4.14" height="4.14" fill="#d08a36" shape-rendering="crispEdges"/>
<rect x="319.19" y="82.74" width="4.14" height="4.14" fill="#d08a36" shape-rendering="crispEdges"/>
<rect x="323.32" y="82.74" width="4.14" height="4.14" fill="#d9502f" shape-rendering="crispEdges"/>
<rect x="327.46" y="82.74" width="5.64" height="4.14" fill="#d95f30" shape-rendering="crispEdges"/>
<rect x="263.90" y="86.88" width="5.64" height="4.14" fill="#c8b23c" shape-rendering="crispEdges"/>
<rect x="269.54" y="86.88" width="4.14" height="4.14" fill="#d08a36" shape-rendering="crispEdges"/>
<rect x="273.67" y="86.88" width="4.14" height="4.14" fill="#d95f30" shape-rendering="crispEdges"/>
<rect x="277.81" y="86.88" width="4.14" height="4.14" fill="#d9502f" shape-rendering="crispEdges"/>
<rect x="281.95" y="86.88" width="4.14" height="4.14" fill="#d95f30" shape-rendering="crispEdges"/>
<rect x="286.09" y="86.88" width="4.14" height="4.14" fill="#d8392d" shape-rendering="crispEdges"/>
<rect x="290.22" y="86.88" width="4.14" height="4.14" fill="#d95f30" shape-rendering="crispEdges"/>
<rect x="294.36" y="86.88" width="4.14" height="4.14" fill="#c8b23c" shape-rendering="crispEdges"/>
<rect x="298.50" y="86.88" width="4.14" height="4.14" fill="#d95f30" shape-rendering="crispEdges"/>
<rect x="302.64" y="86.88" width="4.14" height="4.14" fill="#c4cf40" shape-rendering="crispEdges"/>
<rect x="306.77" y="86.88" width="4.14" height="4.14" fill="#c8b23c" shape-rendering="crispEdges"/>
<rect x="310.91" y="86.88" width="4.14" height="4.14" fill="#c8b23c" shape-rendering="crispEdges"/>
<rect x="315.05" y="86.88" width="4.14" height="4.14" fill="#d08a36" shape-rendering="crispEdges"/>
<rect x="319.19" y="86.88" width="4.14" height="4.14" fill="#d95f30" shape-rendering="crispEdges"/>
<rect x="323.32" y="86.88" width="4.14" height="4.14" fill="#d95f30" shape-rendering="crispEdges"/>
<rect x="327.46" y="86.88" width="5.64" height="4.14" fill="#c8b23c" shape-rendering="crispEdges"/>
<rect x="263.90" y="91.01" width="5.64" height="4.14" fill="#c8b23c" shape-rendering="crispEdges"/>
<rect x="269.54" y="91.01" width="4.14" height="4.14" fill="#d95f30" shape-rendering="crispEdges"/>
<rect x="273.67" y="91.01" width="4.14" height="4.14" fill="#d9502f" shape-rendering="crispEdges"/>
<rect x="277.81" y="91.01" width="4.14" height="4.14" fill="#d95f30" shape-rendering="crispEdges"/>
<rect x="281.95" y="91.01" width="4.14" height="4.14" fill="#d8392d" shape-rendering="crispEdges"/>
<rect x="286.09" y="91.01" width="4.14" height="4.14" fill="#d95f30" shape-rendering="crispEdges"/>
<rect x="290.22" y="91.01" width="4.14" height="4.14" fill="#d8392d" shape-rendering="crispEdges"/>
<rect x="294.36" y="91.01" width="4.14" height="4.14" fill="#c8b23c" shape-rendering="crispEdges"/>
<rect x="298.50" y="91.01" width="4.14" height="4.14" fill="#d95f30" shape-rendering="crispEdges"/>
<rect x="302.64" y="91.01" width="4.14" height="4.14" fill="#c4cf40" shape-rendering="crispEdges"/>
<rect x="306.77" y="91.01" width="4.14" height="4.14" fill="#c4cf40" shape-rendering="crispEdges"/>
<rect x="310.91" y="91.01" width="4.14" height="4.14" fill="#c4cf40" shape-rendering="crispEdges"/>
<rect x="315.05" y="91.01" width="4.14" height="4.14" fill="#d95f30" shape-rendering="crispEdges"/>
<rect x="319.19" y="91.01" width="4.14" height="4.14" fill="#d9502f" shape-rendering="crispEdges"/>
<rect x="323.32" y="91.01" width="4.14" height="4.14" fill="#c8b23c" shape-rendering="crispEdges"/>
<rect x="327.46" y="91.01" width="5.64" height="4.14" fill="#d95f30" shape-rendering="crispEdges"/>
<rect x="263.90" y="95.15" width="5.64" height="4.14" fill="#d08a36" shape-rendering="crispEdges"/>
<rect x="269.54" y="95.15" width="4.14" height="4.14" fill="#d95f30" shape-rendering="crispEdges"/>
<rect x="273.67" y="95.15" width="4.14" height="4.14" fill="#d8392d" shape-rendering="crispEdges"/>
<rect x="277.81" y="95.15" width="4.14" height="4.14" fill="#d95f30" shape-rendering="crispEdges"/>
<rect x="281.95" y="95.15" width="4.14" height="4.14" fill="#d9502f" shape-rendering="crispEdges"/>
<rect x="286.09" y="95.15" width="4.14" height="4.14" fill="#c8b23c" shape-rendering="crispEdges"/>
<rect x="290.22" y="95.15" width="4.14" height="4.14" fill="#d95f30" shape-rendering="crispEdges"/>
<rect x="294.36" y="95.15" width="4.14" height="4.14" fill="#d95f30" shape-rendering="crispEdges"/>
<rect x="298.50" y="95.15" width="4.14" height="4.14" fill="#d95f30" shape-rendering="crispEdges"/>
<rect x="302.64" y="95.15" width="4.14" height="4.14" fill="#c4cf40" shape-rendering="crispEdges"/>
<rect x="306.77" y="95.15" width="4.14" height="4.14" fill="#c4cf40" shape-rendering="crispEdges"/>
<rect x="310.91" y="95.15" width="4.14" height="4.14" fill="#d95f30" shape-rendering="crispEdges"/>
<rect x="315.05" y="95.15" width="4.14" height="4.14" fill="#d95f30" shape-rendering="crispEdges"/>
<rect x="319.19" y="95.15" width="4.14" height="4.14" fill="#d95f30" shape-rendering="crispEdges"/>
<rect x="323.32" y="95.15" width="4.14" height="4.14" fill="#d9502f" shape-rendering="crispEdges"/>
<rect x="327.46" y="95.15" width="5.64" height="4.14" fill="#d95f30" shape-rendering="crispEdges"/>
<rect x="263.90" y="99.29" width="5.64" height="4.14" fill="#c4cf40" shape-rendering="crispEdges"/>
<rect x="269.54" y="99.29" width="4.14" height="4.14" fill="#d08a36" shape-rendering="crispEdges"/>
<rect x="273.67" y="99.29" width="4.14" height="4.14" fill="#d8392d" shape-rendering="crispEdges"/>
<rect x="277.81" y="99.29" width="4.14" height="4.14" fill="#d95f30" shape-rendering="crispEdges"/>
<rect x="281.95" y="99.29" width="4.14" height="4.14" fill="#d8392d" shape-rendering="crispEdges"/>
<rect x="286.09" y="99.29" width="4.14" height="4.14" fill="#c8b23c" shape-rendering="crispEdges"/>
<rect x="290.22" y="99.29" width="4.14" height="4.14" fill="#d95f30" shape-rendering="crispEdges"/>
<rect x="294.36" y="99.29" width="4.14" height="4.14" fill="#d9502f" shape-rendering="crispEdges"/>
<rect x="298.50" y="99.29" width="4.14" height="4.14" fill="#c8b23c" shape-rendering="crispEdges"/>
<rect x="302.64" y="99.29" width="4.14" height="4.14" fill="#c8b23c" shape-rendering="crispEdges"/>
<rect x="306.77" y="99.29" width="4.14" height="4.14" fill="#c4cf40" shape-rendering="crispEdges"/>
<rect x="310.91" y="99.29" width="4.14" height="4.14" fill="#c8b23c" shape-rendering="crispEdges"/>
<rect x="315.05" y="99.29" width="4.14" height="4.14" fill="#d95f30" shape-rendering="crispEdges"/>
<rect x="319.19" y="99.29" width="4.14" height="4.14" fill="#d8392d" shape-rendering="crispEdges"/>
<rect x="323.32" y="99.29" width="4.14" height="4.14" fill="#c4cf40" shape-rendering="crispEdges"/>
<rect x="327.46" y="99.29" width="5.64" height="4.14" fill="#d08a36" shape-rendering="crispEdges"/>
<rect x="263.90" y="103.42" width="5.64" height="4.14" fill="#d95f30" shape-rendering="crispEdges"/>
<rect x="269.54" y="103.42" width="4.14" height="4.14" fill="#d95f30" shape-rendering="crispEdges"/>
<rect x="273.67" y="103.42" width="4.14" height="4.14" fill="#d08a36" shape-rendering="crispEdges"/>
<rect x="277.81" y="103.42" width="4.14" height="4.14" fill="#d08a36" shape-rendering="crispEdges"/>
<rect x="281.95" y="103.42" width="4.14" height="4.14" fill="#c8b23c" shape-rendering="crispEdges"/>
<rect x="286.09" y="103.42" width="4.14" height="4.14" fill="#d08a36" shape-rendering="crispEdges"/>
<rect x="290.22" y="103.42" width="4.14" height="4.14" fill="#d8392d" shape-rendering="crispEdges"/>
<rect x="294.36" y="103.42" width="4.14" height="4.14" fill="#d95f30" shape-rendering="crispEdges"/>
<rect x="298.50" y="103.42" width="4.14" height="4.14" fill="#d8392d" shape-rendering="crispEdges"/>
<rect x="302.64" y="103.42" width="4.14" height="4.14" fill="#d95f30" shape-rendering="crispEdges"/>
<rect x="306.77" y="103.42" width="4.14" height="4.14" fill="#d95f30" shape-rendering="crispEdges"/>
<rect x="310.91" y="103.42" width="4.14" height="4.14" fill="#d95f30" shape-rendering="crispEdges"/>
<rect x="315.05" y="103.42" width="4.14" height="4.14" fill="#d95f30" shape-rendering="crispEdges"/>
<rect x="319.19" y="103.42" width="4.14" height="4.14" fill="#d8392d" shape-rendering="crispEdges"/>
<rect x="323.32" y="103.42" width="4.14" height="4.14" fill="#d8392d" shape-rendering="crispEdges"/>
<rect x="327.46" y="103.42" width="5.64" height="4.14" fill="#d95f30" shape-rendering="crispEdges"/>
<rect x="263.90" y="107.56" width="5.64" height="4.14" fill="#d08a36" shape-rendering="crispEdges"/>
<rect x="269.54" y="107.56" width="4.14" height="4.14" fill="#c4cf40" shape-rendering="crispEdges"/>
<rect x="273.67" y="107.56" width="4.14" height="4.14" fill="#c4cf40" shape-rendering="crispEdges"/>
<rect x="277.81" y="107.56" width="4.14" height="4.14" fill="#d95f30" shape-rendering="crispEdges"/>
<rect x="281.95" y="107.56" width="4.14" height="4.14" fill="#d8392d" shape-rendering="crispEdges"/>
<rect x="286.09" y="107.56" width="4.14" height="4.14" fill="#d8392d" shape-rendering="crispEdges"/>
<rect x="290.22" y="107.56" width="4.14" height="4.14" fill="#d95f30" shape-rendering="crispEdges"/>
<rect x="294.36" y="107.56" width="4.14" height="4.14" fill="#d95f30" shape-rendering="crispEdges"/>
<rect x="298.50" y="107.56" width="4.14" height="4.14" fill="#d8392d" shape-rendering="crispEdges"/>
<rect x="302.64" y="107.56" width="4.14" height="4.14" fill="#d9502f" shape-rendering="crispEdges"/>
<rect x="306.77" y="107.56" width="4.14" height="4.14" fill="#d95f30" shape-rendering="crispEdges"/>
<rect x="310.91" y="107.56" width="4.14" height="4.14" fill="#d95f30" shape-rendering="crispEdges"/>
<rect x="315.05" y="107.56" width="4.14" height="4.14" fill="#d95f30" shape-rendering="crispEdges"/>
<rect x="319.19" y="107.56" width="4.14" height="4.14" fill="#d95f30" shape-rendering="crispEdges"/>
<rect x="323.32" y="107.56" width="4.14" height="4.14" fill="#d9502f" shape-rendering="crispEdges"/>
<rect x="327.46" y="107.56" width="5.64" height="4.14" fill="#d08a36" shape-rendering="crispEdges"/>
<rect x="263.90" y="111.70" width="5.64" height="4.14" fill="#d95f30" shape-rendering="crispEdges"/>
<rect x="269.54" y="111.70" width="4.14" height="4.14" fill="#c4cf40" shape-rendering="crispEdges"/>
<rect x="273.67" y="111.70" width="4.14" height="4.14" fill="#d8392d" shape-rendering="crispEdges"/>
<rect x="277.81" y="111.70" width="4.14" height="4.14" fill="#d95f30" shape-rendering="crispEdges"/>
<rect x="281.95" y="111.70" width="4.14" height="4.14" fill="#c4cf40" shape-rendering="crispEdges"/>
<rect x="286.09" y="111.70" width="4.14" height="4.14" fill="#c8b23c" shape-rendering="crispEdges"/>
<rect x="290.22" y="111.70" width="4.14" height="4.14" fill="#d08a36" shape-rendering="crispEdges"/>
<rect x="294.36" y="111.70" width="4.14" height="4.14" fill="#d9502f" shape-rendering="crispEdges"/>
<rect x="298.50" y="111.70" width="4.14" height="4.14" fill="#d95f30" shape-rendering="crispEdges"/>
<rect x="302.64" y="111.70" width="4.14" height="4.14" fill="#d95f30" shape-rendering="crispEdges"/>
<rect x="306.77" y="111.70" width="4.14" height="4.14" fill="#d9502f" shape-rendering="crispEdges"/>
<rect x="310.91" y="111.70" width="4.14" height="4.14" fill="#d95f30" shape-rendering="crispEdges"/>
<rect x="315.05" y="111.70" width="4.14" height="4.14" fill="#d95f30" shape-rendering="crispEdges"/>
<rect x="319.19" y="111.70" width="4.14" height="4.14" fill="#d8392d" shape-rendering="crispEdges"/>
<rect x="323.32" y="111.70" width="4.14" height="4.14" fill="#d95f30" shape-rendering="crispEdges"/>
<rect x="327.46" y="111.70" width="5.64" height="4.14" fill="#d95f30" shape-rendering="crispEdges"/>
<rect x="263.90" y="115.84" width="5.64" height="4.14" fill="#d95f30" shape-rendering="crispEdges"/>
<rect x="269.54" y="115.84" width="4.14" height="4.14" fill="#d95f30" shape-rendering="crispEdges"/>
<rect x="273.67" y="115.84" width="4.14" height="4.14" fill="#c4cf40" shape-rendering="crispEdges"/>
<rect x="277.81" y="115.84" width="4.14" height="4.14" fill="#d95f30" shape-rendering="crispEdges"/>
<rect x="281.95" y="115.84" width="4.14" height="4.14" fill="#c4cf40" shape-rendering="crispEdges"/>
<rect x="286.09" y="115.84" width="4.14" height="4.14" fill="#d08a36" shape-rendering="crispEdges"/>
<rect x="290.22" y="115.84" width="4.14" height="4.14" fill="#d95f30" shape-rendering="crispEdges"/>
<rect x="294.36" y="115.84" width="4.14" height="4.14" fill="#d8392d" shape-rendering="crispEdges"/>
<rect x="298.50" y="115.84" width="4.14" height="4.14" fill="#c8b23c" shape-rendering="crispEdges"/>
<rect x="302.64" y="115.84" width="4.14" height="4.14" fill="#d95f30" shape-rendering="crispEdges"/>
<rect x="306.77" y="115.84" width="4.14" height="4.14" fill="#d95f30" shape-rendering="crispEdges"/>
<rect x="310.91" y="115.84" width="4.14" height="4.14" fill="#d95f30" shape-rendering="crispEdges"/>
<rect x="315.05" y="115.84" width="4.14" height="4.14" fill="#d9502f" shape-rendering="crispEdges"/>
<rect x="319.19" y="115.84" width="4.14" height="4.14" fill="#d95f30" shape-rendering="crispEdges"/>
<rect x="323.32" y="115.84" width="4.14" height="4.14" fill="#d95f30" shape-rendering="crispEdges"/>
<rect x="327.46" y="115.84" width="5.64" height="4.14" fill="#d8392d" shape-rendering="crispEdges"/>
<rect x="263.90" y="119.97" width="5.64" height="4.14" fill="#c8b23c" shape-rendering="crispEdges"/>
<rect x="269.54" y="119.97" width="4.14" height="4.14" fill="#c4cf40" shape-rendering="crispEdges"/>
<rect x="273.67" y="119.97" width="4.14" height="4.14" fill="#c8b23c" shape-rendering="crispEdges"/>
<rect x="277.81" y="119.97" width="4.14" height="4.14" fill="#c4cf40" shape-rendering="crispEdges"/>
<rect x="281.95" y="119.97" width="4.14" height="4.14" fill="#d8392d" shape-rendering="crispEdges"/>
<rect x="286.09" y="119.97" width="4.14" height="4.14" fill="#d9502f" shape-rendering="crispEdges"/>
<rect x="290.22" y="119.97" width="4.14" height="4.14" fill="#d8392d" shape-rendering="crispEdges"/>
<rect x="294.36" y="119.97" width="4.14" height="4.14" fill="#c8b23c" shape-rendering="crispEdges"/>
<rect x="298.50" y="119.97" width="4.14" height="4.14" fill="#d95f30" shape-rendering="crispEdges"/>
<rect x="302.64" y="119.97" width="4.14" height="4.14" fill="#d95f30" shape-rendering="crispEdges"/>
<rect x="306.77" y="119.97" width="4.14" height="4.14" fill="#d95f30" shape-rendering="crispEdges"/>
<rect x="310.91" y="119.97" width="4.14" height="4.14" fill="#d95f30" shape-rendering="crispEdges"/>
<rect x="315.05" y="119.97" width="4.14" height="4.14" fill="#d9502f" shape-rendering="crispEdges"/>
<rect x="319.19" y="119.97" width="4.14" height="4.14" fill="#d95f30" shape-rendering="crispEdges"/>
<rect x="323.32" y="119.97" width="4.14" height="4.14" fill="#d9502f" shape-rendering="crispEdges"/>
<rect x="327.46" y="119.97" width="5.64" height="4.14" fill="#d8392d" shape-rendering="crispEdges"/>
<rect x="263.90" y="124.11" width="5.64" height="4.14" fill="#d95f30" shape-rendering="crispEdges"/>
<rect x="269.54" y="124.11" width="4.14" height="4.14" fill="#c4cf40" shape-rendering="crispEdges"/>
<rect x="273.67" y="124.11" width="4.14" height="4.14" fill="#c4cf40" shape-rendering="crispEdges"/>
<rect x="277.81" y="124.11" width="4.14" height="4.14" fill="#c4cf40" shape-rendering="crispEdges"/>
<rect x="281.95" y="124.11" width="4.14" height="4.14" fill="#c8b23c" shape-rendering="crispEdges"/>
<rect x="286.09" y="124.11" width="4.14" height="4.14" fill="#d95f30" shape-rendering="crispEdges"/>
<rect x="290.22" y="124.11" width="4.14" height="4.14" fill="#d95f30" shape-rendering="crispEdges"/>
<rect x="294.36" y="124.11" width="4.14" height="4.14" fill="#d95f30" shape-rendering="crispEdges"/>
<rect x="298.50" y="124.11" width="4.14" height="4.14" fill="#c8b23c" shape-rendering="crispEdges"/>
<rect x="302.64" y="124.11" width="4.14" height="4.14" fill="#d95f30" shape-rendering="crispEdges"/>
<rect x="306.77" y="124.11" width="4.14" height="4.14" fill="#d95f30" shape-rendering="crispEdges"/>
<rect x="310.91" y="124.11" width="4.14" height="4.14" fill="#d8392d" shape-rendering="crispEdges"/>
<rect x="315.05" y="124.11" width="4.14" height="4.14" fill="#d95f30" shape-rendering="crispEdges"/>
<rect x="319.19" y="124.11" width="4.14" height="4.14" fill="#d95f30" shape-rendering="crispEdges"/>
<rect x="323.32" y="124.11" width="4.14" height="4.14" fill="#c4cf40" shape-rendering="crispEdges"/>
<rect x="327.46" y="124.11" width="5.64" height="4.14" fill="#d8392d" shape-rendering="crispEdges"/>
<rect x="263.90" y="128.25" width="5.64" height="4.14" fill="#d95f30" shape-rendering="crispEdges"/>
<rect x="269.54" y="128.25" width="4.14" height="4.14" fill="#c4cf40" shape-rendering="crispEdges"/>
<rect x="273.67" y="128.25" width="4.14" height="4.14" fill="#d95f30" shape-rendering="crispEdges"/>
<rect x="277.81" y="128.25" width="4.14" height="4.14" fill="#d9502f" shape-rendering="crispEdges"/>
<rect x="281.95" y="128.25" width="4.14" height="4.14" fill="#c8b23c" shape-rendering="crispEdges"/>
<rect x="286.09" y="128.25" width="4.14" height="4.14" fill="#c8b23c" shape-rendering="crispEdges"/>
<rect x="290.22" y="128.25" width="4.14" height="4.14" fill="#d95f30" shape-rendering="crispEdges"/>
<rect x="294.36" y="128.25" width="4.14" height="4.14" fill="#d8392d" shape-rendering="crispEdges"/>
<rect x="298.50" y="128.25" width="4.14" height="4.14" fill="#d95f30" shape-rendering="crispEdges"/>
<rect x="302.64" y="128.25" width="4.14" height="4.14" fill="#d95f30" shape-rendering="crispEdges"/>
<rect x="306.77" y="128.25" width="4.14" height="4.14" fill="#d95f30" shape-rendering="crispEdges"/>
<rect x="310.91" y="128.25" width="4.14" height="4.14" fill="#d95f30" shape-rendering="crispEdges"/>
<rect x="315.05" y="128.25" width="4.14" height="4.14" fill="#d9502f" shape-rendering="crispEdges"/>
<rect x="319.19" y="128.25" width="4.14" height="4.14" fill="#c8b23c" shape-rendering="crispEdges"/>
<rect x="323.32" y="128.25" width="4.14" height="4.14" fill="#d08a36" shape-rendering="crispEdges"/>
<rect x="327.46" y="128.25" width="5.64" height="4.14" fill="#d08a36" shape-rendering="crispEdges"/>
<rect x="263.90" y="132.39" width="5.64" height="4.14" fill="#c4cf40" shape-rendering="crispEdges"/>
<rect x="269.54" y="132.39" width="4.14" height="4.14" fill="#d08a36" shape-rendering="crispEdges"/>
<rect x="273.67" y="132.39" width="4.14" height="4.14" fill="#c4cf40" shape-rendering="crispEdges"/>
<rect x="277.81" y="132.39" width="4.14" height="4.14" fill="#d95f30" shape-rendering="crispEdges"/>
<rect x="281.95" y="132.39" width="4.14" height="4.14" fill="#c4cf40" shape-rendering="crispEdges"/>
<rect x="286.09" y="132.39" width="4.14" height="4.14" fill="#c8b23c" shape-rendering="crispEdges"/>
<rect x="290.22" y="132.39" width="4.14" height="4.14" fill="#d08a36" shape-rendering="crispEdges"/>
<rect x="294.36" y="132.39" width="4.14" height="4.14" fill="#d95f30" shape-rendering="crispEdges"/>
<rect x="298.50" y="132.39" width="4.14" height="4.14" fill="#d08a36" shape-rendering="crispEdges"/>
<rect x="302.64" y="132.39" width="4.14" height="4.14" fill="#d95f30" shape-rendering="crispEdges"/>
<rect x="306.77" y="132.39" width="4.14" height="4.14" fill="#d8392d" shape-rendering="crispEdges"/>
<rect x="310.91" y="132.39" width="4.14" height="4.14" fill="#c8b23c" shape-rendering="crispEdges"/>
<rect x="315.05" y="132.39" width="4.14" height="4.14" fill="#d95f30" shape-rendering="crispEdges"/>
<rect x="319.19" y="132.39" width="4.14" height="4.14" fill="#d08a36" shape-rendering="crispEdges"/>
<rect x="323.32" y="132.39" width="4.14" height="4.14" fill="#d95f30" shape-rendering="crispEdges"/>
<rect x="327.46" y="132.39" width="5.64" height="4.14" fill="#c8b23c" shape-rendering="crispEdges"/>
<rect x="263.90" y="136.53" width="5.64" height="4.14" fill="#c4cf40" shape-rendering="crispEdges"/>
<rect x="269.54" y="136.53" width="4.14" height="4.14" fill="#d08a36" shape-rendering="crispEdges"/>
<rect x="273.67" y="136.53" width="4.14" height="4.14" fill="#c4cf40" shape-rendering="crispEdges"/>
<rect x="277.81" y="136.53" width="4.14" height="4.14" fill="#c4cf40" shape-rendering="crispEdges"/>
<rect x="281.95" y="136.53" width="4.14" height="4.14" fill="#c4cf40" shape-rendering="crispEdges"/>
<rect x="286.09" y="136.53" width="4.14" height="4.14" fill="#d08a36" shape-rendering="crispEdges"/>
<rect x="290.22" y="136.53" width="4.14" height="4.14" fill="#d08a36" shape-rendering="crispEdges"/>
<rect x="294.36" y="136.53" width="4.14" height="4.14" fill="#d08a36" shape-rendering="crispEdges"/>
<rect x="298.50" y="136.53" width="4.14" height="4.14" fill="#d08a36" shape-rendering="crispEdges"/>
<rect x="302.64" y="136.53" width="4.14" height="4.14" fill="#d95f30" shape-rendering="crispEdges"/>
<rect x="306.77" y="136.53" width="4.14" height="4.14" fill="#d08a36" shape-rendering="crispEdges"/>
<rect x="310.91" y="136.53" width="4.14" height="4.14" fill="#c8b23c" shape-rendering="crispEdges"/>
<rect x="315.05" y="136.53" width="4.14" height="4.14" fill="#d95f30" shape-rendering="crispEdges"/>
<rect x="319.19" y="136.53" width="4.14" height="4.14" fill="#c4cf40" shape-rendering="crispEdges"/>
<rect x="323.32" y="136.53" width="4.14" height="4.14" fill="#d95f30" shape-rendering="crispEdges"/>
<rect x="327.46" y="136.53" width="5.64" height="4.14" fill="#c8b23c" shape-rendering="crispEdges"/>
<rect x="263.90" y="140.66" width="5.64" height="5.64" fill="#c8b23c" shape-rendering="crispEdges"/>
<rect x="269.54" y="140.66" width="4.14" height="5.64" fill="#d08a36" shape-rendering="crispEdges"/>
<rect x="273.67" y="140.66" width="4.14" height="5.64" fill="#d08a36" shape-rendering="crispEdges"/>
<rect x="277.81" y="140.66" width="4.14" height="5.64" fill="#d08a36" shape-rendering="crispEdges"/>
<rect x="281.95" y="140.66" width="4.14" height="5.64" fill="#d95f30" shape-rendering="crispEdges"/>
<rect x="286.09" y="140.66" width="4.14" height="5.64" fill="#d08a36" shape-rendering="crispEdges"/>
<rect x="290.22" y="140.66" width="4.14" height="5.64" fill="#d8392d" shape-rendering="crispEdges"/>
<rect x="294.36" y="140.66" width="4.14" height="5.64" fill="#d95f30" shape-rendering="crispEdges"/>
<rect x="298.50" y="140.66" width="4.14" height="5.64" fill="#d95f30" shape-rendering="crispEdges"/>
<rect x="302.64" y="140.66" width="4.14" height="5.64" fill="#d95f30" shape-rendering="crispEdges"/>
<rect x="306.77" y="140.66" width="4.14" height="5.64" fill="#c8b23c" shape-rendering="crispEdges"/>
<rect x="310.91" y="140.66" width="4.14" height="5.64" fill="#c8b23c" shape-rendering="crispEdges"/>
<rect x="315.05" y="140.66" width="4.14" height="5.64" fill="#c8b23c" shape-rendering="crispEdges"/>
<rect x="319.19" y="140.66" width="4.14" height="5.64" fill="#c4cf40" shape-rendering="crispEdges"/>
<rect x="323.32" y="140.66" width="4.14" height="5.64" fill="#c4cf40" shape-rendering="crispEdges"/>
<rect x="327.46" y="140.66" width="5.64" height="5.64" fill="#c8b23c" shape-rendering="crispEdges"/>
</g></g>
<clipPath id="hc4"><rect x="265.4" y="225.7" width="66.2" height="66.2"/></clipPath>
<filter id="hb4" filterUnits="userSpaceOnUse" x="263.9" y="224.2" width="69.2" height="69.2" color-interpolation-filters="sRGB"><feGaussianBlur stdDeviation="0.45" edgeMode="duplicate"/></filter>
<g clip-path="url(#hc4)"><g filter="url(#hb4)">
<rect x="263.90" y="224.20" width="5.64" height="5.64" fill="#d0d57e" shape-rendering="crispEdges"/>
<rect x="269.54" y="224.20" width="4.14" height="5.64" fill="#c6c6c6" shape-rendering="crispEdges"/>
<rect x="273.67" y="224.20" width="4.14" height="5.64" fill="#d0d57e" shape-rendering="crispEdges"/>
<rect x="277.81" y="224.20" width="4.14" height="5.64" fill="#d0d57e" shape-rendering="crispEdges"/>
<rect x="281.95" y="224.20" width="4.14" height="5.64" fill="#d0d57e" shape-rendering="crispEdges"/>
<rect x="286.09" y="224.20" width="4.14" height="5.64" fill="#c6c6c6" shape-rendering="crispEdges"/>
<rect x="290.22" y="224.20" width="4.14" height="5.64" fill="#d0d57e" shape-rendering="crispEdges"/>
<rect x="294.36" y="224.20" width="4.14" height="5.64" fill="#c6c6c6" shape-rendering="crispEdges"/>
<rect x="298.50" y="224.20" width="4.14" height="5.64" fill="#d0d57e" shape-rendering="crispEdges"/>
<rect x="302.64" y="224.20" width="4.14" height="5.64" fill="#d0d57e" shape-rendering="crispEdges"/>
<rect x="306.77" y="224.20" width="4.14" height="5.64" fill="#d8d8d2" shape-rendering="crispEdges"/>
<rect x="310.91" y="224.20" width="4.14" height="5.64" fill="#c6c6c6" shape-rendering="crispEdges"/>
<rect x="315.05" y="224.20" width="4.14" height="5.64" fill="#d0d57e" shape-rendering="crispEdges"/>
<rect x="319.19" y="224.20" width="4.14" height="5.64" fill="#c6c6c6" shape-rendering="crispEdges"/>
<rect x="323.32" y="224.20" width="4.14" height="5.64" fill="#d0d57e" shape-rendering="crispEdges"/>
<rect x="327.46" y="224.20" width="5.64" height="5.64" fill="#c6c6c6" shape-rendering="crispEdges"/>
<rect x="263.90" y="229.84" width="5.64" height="4.14" fill="#d0d57e" shape-rendering="crispEdges"/>
<rect x="269.54" y="229.84" width="4.14" height="4.14" fill="#d0d57e" shape-rendering="crispEdges"/>
<rect x="273.67" y="229.84" width="4.14" height="4.14" fill="#d0d57e" shape-rendering="crispEdges"/>
<rect x="277.81" y="229.84" width="4.14" height="4.14" fill="#ccd840" shape-rendering="crispEdges"/>
<rect x="281.95" y="229.84" width="4.14" height="4.14" fill="#d0d57e" shape-rendering="crispEdges"/>
<rect x="286.09" y="229.84" width="4.14" height="4.14" fill="#d0d57e" shape-rendering="crispEdges"/>
<rect x="290.22" y="229.84" width="4.14" height="4.14" fill="#c6c6c6" shape-rendering="crispEdges"/>
<rect x="294.36" y="229.84" width="4.14" height="4.14" fill="#c6c6c6" shape-rendering="crispEdges"/>
<rect x="298.50" y="229.84" width="4.14" height="4.14" fill="#d0d57e" shape-rendering="crispEdges"/>
<rect x="302.64" y="229.84" width="4.14" height="4.14" fill="#d0d57e" shape-rendering="crispEdges"/>
<rect x="306.77" y="229.84" width="4.14" height="4.14" fill="#c6c6c6" shape-rendering="crispEdges"/>
<rect x="310.91" y="229.84" width="4.14" height="4.14" fill="#ccd840" shape-rendering="crispEdges"/>
<rect x="315.05" y="229.84" width="4.14" height="4.14" fill="#d0d57e" shape-rendering="crispEdges"/>
<rect x="319.19" y="229.84" width="4.14" height="4.14" fill="#b7b7ba" shape-rendering="crispEdges"/>
<rect x="323.32" y="229.84" width="4.14" height="4.14" fill="#d0d57e" shape-rendering="crispEdges"/>
<rect x="327.46" y="229.84" width="5.64" height="4.14" fill="#c6c6c6" shape-rendering="crispEdges"/>
<rect x="263.90" y="233.97" width="5.64" height="4.14" fill="#d0d57e" shape-rendering="crispEdges"/>
<rect x="269.54" y="233.97" width="4.14" height="4.14" fill="#ccd840" shape-rendering="crispEdges"/>
<rect x="273.67" y="233.97" width="4.14" height="4.14" fill="#d0d57e" shape-rendering="crispEdges"/>
<rect x="277.81" y="233.97" width="4.14" height="4.14" fill="#d0d57e" shape-rendering="crispEdges"/>
<rect x="281.95" y="233.97" width="4.14" height="4.14" fill="#ccd840" shape-rendering="crispEdges"/>
<rect x="286.09" y="233.97" width="4.14" height="4.14" fill="#d0d57e" shape-rendering="crispEdges"/>
<rect x="290.22" y="233.97" width="4.14" height="4.14" fill="#d0d57e" shape-rendering="crispEdges"/>
<rect x="294.36" y="233.97" width="4.14" height="4.14" fill="#d0d57e" shape-rendering="crispEdges"/>
<rect x="298.50" y="233.97" width="4.14" height="4.14" fill="#d0d57e" shape-rendering="crispEdges"/>
<rect x="302.64" y="233.97" width="4.14" height="4.14" fill="#d0d57e" shape-rendering="crispEdges"/>
<rect x="306.77" y="233.97" width="4.14" height="4.14" fill="#ccd840" shape-rendering="crispEdges"/>
<rect x="310.91" y="233.97" width="4.14" height="4.14" fill="#d0d57e" shape-rendering="crispEdges"/>
<rect x="315.05" y="233.97" width="4.14" height="4.14" fill="#d0d57e" shape-rendering="crispEdges"/>
<rect x="319.19" y="233.97" width="4.14" height="4.14" fill="#d0d57e" shape-rendering="crispEdges"/>
<rect x="323.32" y="233.97" width="4.14" height="4.14" fill="#d0d57e" shape-rendering="crispEdges"/>
<rect x="327.46" y="233.97" width="5.64" height="4.14" fill="#d0d57e" shape-rendering="crispEdges"/>
<rect x="263.90" y="238.11" width="5.64" height="4.14" fill="#d0d57e" shape-rendering="crispEdges"/>
<rect x="269.54" y="238.11" width="4.14" height="4.14" fill="#ccd840" shape-rendering="crispEdges"/>
<rect x="273.67" y="238.11" width="4.14" height="4.14" fill="#d0d57e" shape-rendering="crispEdges"/>
<rect x="277.81" y="238.11" width="4.14" height="4.14" fill="#c6c6c6" shape-rendering="crispEdges"/>
<rect x="281.95" y="238.11" width="4.14" height="4.14" fill="#ccd840" shape-rendering="crispEdges"/>
<rect x="286.09" y="238.11" width="4.14" height="4.14" fill="#d0d57e" shape-rendering="crispEdges"/>
<rect x="290.22" y="238.11" width="4.14" height="4.14" fill="#d0d57e" shape-rendering="crispEdges"/>
<rect x="294.36" y="238.11" width="4.14" height="4.14" fill="#d0d57e" shape-rendering="crispEdges"/>
<rect x="298.50" y="238.11" width="4.14" height="4.14" fill="#c6c6c6" shape-rendering="crispEdges"/>
<rect x="302.64" y="238.11" width="4.14" height="4.14" fill="#d0d57e" shape-rendering="crispEdges"/>
<rect x="306.77" y="238.11" width="4.14" height="4.14" fill="#b7b7ba" shape-rendering="crispEdges"/>
<rect x="310.91" y="238.11" width="4.14" height="4.14" fill="#b7b7ba" shape-rendering="crispEdges"/>
<rect x="315.05" y="238.11" width="4.14" height="4.14" fill="#b7b7ba" shape-rendering="crispEdges"/>
<rect x="319.19" y="238.11" width="4.14" height="4.14" fill="#d0d57e" shape-rendering="crispEdges"/>
<rect x="323.32" y="238.11" width="4.14" height="4.14" fill="#b7b7ba" shape-rendering="crispEdges"/>
<rect x="327.46" y="238.11" width="5.64" height="4.14" fill="#d0d57e" shape-rendering="crispEdges"/>
<rect x="263.90" y="242.25" width="5.64" height="4.14" fill="#d0d57e" shape-rendering="crispEdges"/>
<rect x="269.54" y="242.25" width="4.14" height="4.14" fill="#ccd840" shape-rendering="crispEdges"/>
<rect x="273.67" y="242.25" width="4.14" height="4.14" fill="#d0d57e" shape-rendering="crispEdges"/>
<rect x="277.81" y="242.25" width="4.14" height="4.14" fill="#c6c6c6" shape-rendering="crispEdges"/>
<rect x="281.95" y="242.25" width="4.14" height="4.14" fill="#d0d57e" shape-rendering="crispEdges"/>
<rect x="286.09" y="242.25" width="4.14" height="4.14" fill="#ccd840" shape-rendering="crispEdges"/>
<rect x="290.22" y="242.25" width="4.14" height="4.14" fill="#ccd840" shape-rendering="crispEdges"/>
<rect x="294.36" y="242.25" width="4.14" height="4.14" fill="#d0d57e" shape-rendering="crispEdges"/>
<rect x="298.50" y="242.25" width="4.14" height="4.14" fill="#ccd840" shape-rendering="crispEdges"/>
<rect x="302.64" y="242.25" width="4.14" height="4.14" fill="#b7b7ba" shape-rendering="crispEdges"/>
<rect x="306.77" y="242.25" width="4.14" height="4.14" fill="#d0d57e" shape-rendering="crispEdges"/>
<rect x="310.91" y="242.25" width="4.14" height="4.14" fill="#c6c6c6" shape-rendering="crispEdges"/>
<rect x="315.05" y="242.25" width="4.14" height="4.14" fill="#ccd840" shape-rendering="crispEdges"/>
<rect x="319.19" y="242.25" width="4.14" height="4.14" fill="#c6c6c6" shape-rendering="crispEdges"/>
<rect x="323.32" y="242.25" width="4.14" height="4.14" fill="#b7b7ba" shape-rendering="crispEdges"/>
<rect x="327.46" y="242.25" width="5.64" height="4.14" fill="#c6c6c6" shape-rendering="crispEdges"/>
<rect x="263.90" y="246.39" width="5.64" height="4.14" fill="#d0d57e" shape-rendering="crispEdges"/>
<rect x="269.54" y="246.39" width="4.14" height="4.14" fill="#d0d57e" shape-rendering="crispEdges"/>
<rect x="273.67" y="246.39" width="4.14" height="4.14" fill="#d0d57e" shape-rendering="crispEdges"/>
<rect x="277.81" y="246.39" width="4.14" height="4.14" fill="#ccd840" shape-rendering="crispEdges"/>
<rect x="281.95" y="246.39" width="4.14" height="4.14" fill="#d0d57e" shape-rendering="crispEdges"/>
<rect x="286.09" y="246.39" width="4.14" height="4.14" fill="#d8d8d2" shape-rendering="crispEdges"/>
<rect x="290.22" y="246.39" width="4.14" height="4.14" fill="#d0d57e" shape-rendering="crispEdges"/>
<rect x="294.36" y="246.39" width="4.14" height="4.14" fill="#d0d57e" shape-rendering="crispEdges"/>
<rect x="298.50" y="246.39" width="4.14" height="4.14" fill="#d0d57e" shape-rendering="crispEdges"/>
<rect x="302.64" y="246.39" width="4.14" height="4.14" fill="#c6c6c6" shape-rendering="crispEdges"/>
<rect x="306.77" y="246.39" width="4.14" height="4.14" fill="#b7b7ba" shape-rendering="crispEdges"/>
<rect x="310.91" y="246.39" width="4.14" height="4.14" fill="#c6c6c6" shape-rendering="crispEdges"/>
<rect x="315.05" y="246.39" width="4.14" height="4.14" fill="#c6c6c6" shape-rendering="crispEdges"/>
<rect x="319.19" y="246.39" width="4.14" height="4.14" fill="#c6c6c6" shape-rendering="crispEdges"/>
<rect x="323.32" y="246.39" width="4.14" height="4.14" fill="#b7b7ba" shape-rendering="crispEdges"/>
<rect x="327.46" y="246.39" width="5.64" height="4.14" fill="#b7b7ba" shape-rendering="crispEdges"/>
<rect x="263.90" y="250.52" width="5.64" height="4.14" fill="#d0d57e" shape-rendering="crispEdges"/>
<rect x="269.54" y="250.52" width="4.14" height="4.14" fill="#c6c6c6" shape-rendering="crispEdges"/>
<rect x="273.67" y="250.52" width="4.14" height="4.14" fill="#d0d57e" shape-rendering="crispEdges"/>
<rect x="277.81" y="250.52" width="4.14" height="4.14" fill="#cfc04a" shape-rendering="crispEdges"/>
<rect x="281.95" y="250.52" width="4.14" height="4.14" fill="#d0d57e" shape-rendering="crispEdges"/>
<rect x="286.09" y="250.52" width="4.14" height="4.14" fill="#d07a2a" shape-rendering="crispEdges"/>
<rect x="290.22" y="250.52" width="4.14" height="4.14" fill="#d0d57e" shape-rendering="crispEdges"/>
<rect x="294.36" y="250.52" width="4.14" height="4.14" fill="#ccd840" shape-rendering="crispEdges"/>
<rect x="298.50" y="250.52" width="4.14" height="4.14" fill="#d0d57e" shape-rendering="crispEdges"/>
<rect x="302.64" y="250.52" width="4.14" height="4.14" fill="#d0d57e" shape-rendering="crispEdges"/>
<rect x="306.77" y="250.52" width="4.14" height="4.14" fill="#b7b7ba" shape-rendering="crispEdges"/>
<rect x="310.91" y="250.52" width="4.14" height="4.14" fill="#b7b7ba" shape-rendering="crispEdges"/>
<rect x="315.05" y="250.52" width="4.14" height="4.14" fill="#c6c6c6" shape-rendering="crispEdges"/>
<rect x="319.19" y="250.52" width="4.14" height="4.14" fill="#b7b7ba" shape-rendering="crispEdges"/>
<rect x="323.32" y="250.52" width="4.14" height="4.14" fill="#b7b7ba" shape-rendering="crispEdges"/>
<rect x="327.46" y="250.52" width="5.64" height="4.14" fill="#c6c6c6" shape-rendering="crispEdges"/>
<rect x="263.90" y="254.66" width="5.64" height="4.14" fill="#ccd840" shape-rendering="crispEdges"/>
<rect x="269.54" y="254.66" width="4.14" height="4.14" fill="#d0d57e" shape-rendering="crispEdges"/>
<rect x="273.67" y="254.66" width="4.14" height="4.14" fill="#c6c6c6" shape-rendering="crispEdges"/>
<rect x="277.81" y="254.66" width="4.14" height="4.14" fill="#d0d57e" shape-rendering="crispEdges"/>
<rect x="281.95" y="254.66" width="4.14" height="4.14" fill="#d0d57e" shape-rendering="crispEdges"/>
<rect x="286.09" y="254.66" width="4.14" height="4.14" fill="#d0d57e" shape-rendering="crispEdges"/>
<rect x="290.22" y="254.66" width="4.14" height="4.14" fill="#d0d57e" shape-rendering="crispEdges"/>
<rect x="294.36" y="254.66" width="4.14" height="4.14" fill="#ccd840" shape-rendering="crispEdges"/>
<rect x="298.50" y="254.66" width="4.14" height="4.14" fill="#d0d57e" shape-rendering="crispEdges"/>
<rect x="302.64" y="254.66" width="4.14" height="4.14" fill="#c6c6c6" shape-rendering="crispEdges"/>
<rect x="306.77" y="254.66" width="4.14" height="4.14" fill="#b7b7ba" shape-rendering="crispEdges"/>
<rect x="310.91" y="254.66" width="4.14" height="4.14" fill="#b7b7ba" shape-rendering="crispEdges"/>
<rect x="315.05" y="254.66" width="4.14" height="4.14" fill="#c6c6c6" shape-rendering="crispEdges"/>
<rect x="319.19" y="254.66" width="4.14" height="4.14" fill="#a5a5a8" shape-rendering="crispEdges"/>
<rect x="323.32" y="254.66" width="4.14" height="4.14" fill="#c6c6c6" shape-rendering="crispEdges"/>
<rect x="327.46" y="254.66" width="5.64" height="4.14" fill="#b7b7ba" shape-rendering="crispEdges"/>
<rect x="263.90" y="258.80" width="5.64" height="4.14" fill="#ccd840" shape-rendering="crispEdges"/>
<rect x="269.54" y="258.80" width="4.14" height="4.14" fill="#d0d57e" shape-rendering="crispEdges"/>
<rect x="273.67" y="258.80" width="4.14" height="4.14" fill="#ccd840" shape-rendering="crispEdges"/>
<rect x="277.81" y="258.80" width="4.14" height="4.14" fill="#ccd840" shape-rendering="crispEdges"/>
<rect x="281.95" y="258.80" width="4.14" height="4.14" fill="#d0d57e" shape-rendering="crispEdges"/>
<rect x="286.09" y="258.80" width="4.14" height="4.14" fill="#ccd840" shape-rendering="crispEdges"/>
<rect x="290.22" y="258.80" width="4.14" height="4.14" fill="#d0d57e" shape-rendering="crispEdges"/>
<rect x="294.36" y="258.80" width="4.14" height="4.14" fill="#d0d57e" shape-rendering="crispEdges"/>
<rect x="298.50" y="258.80" width="4.14" height="4.14" fill="#ccd840" shape-rendering="crispEdges"/>
<rect x="302.64" y="258.80" width="4.14" height="4.14" fill="#c6c6c6" shape-rendering="crispEdges"/>
<rect x="306.77" y="258.80" width="4.14" height="4.14" fill="#c6c6c6" shape-rendering="crispEdges"/>
<rect x="310.91" y="258.80" width="4.14" height="4.14" fill="#c6c6c6" shape-rendering="crispEdges"/>
<rect x="315.05" y="258.80" width="4.14" height="4.14" fill="#c6c6c6" shape-rendering="crispEdges"/>
<rect x="319.19" y="258.80" width="4.14" height="4.14" fill="#b7b7ba" shape-rendering="crispEdges"/>
<rect x="323.32" y="258.80" width="4.14" height="4.14" fill="#b7b7ba" shape-rendering="crispEdges"/>
<rect x="327.46" y="258.80" width="5.64" height="4.14" fill="#c6c6c6" shape-rendering="crispEdges"/>
<rect x="263.90" y="262.94" width="5.64" height="4.14" fill="#c6c6c6" shape-rendering="crispEdges"/>
<rect x="269.54" y="262.94" width="4.14" height="4.14" fill="#ccd840" shape-rendering="crispEdges"/>
<rect x="273.67" y="262.94" width="4.14" height="4.14" fill="#ccd840" shape-rendering="crispEdges"/>
<rect x="277.81" y="262.94" width="4.14" height="4.14" fill="#d0d57e" shape-rendering="crispEdges"/>
<rect x="281.95" y="262.94" width="4.14" height="4.14" fill="#ccd840" shape-rendering="crispEdges"/>
<rect x="286.09" y="262.94" width="4.14" height="4.14" fill="#ccd840" shape-rendering="crispEdges"/>
<rect x="290.22" y="262.94" width="4.14" height="4.14" fill="#c6c6c6" shape-rendering="crispEdges"/>
<rect x="294.36" y="262.94" width="4.14" height="4.14" fill="#d0d57e" shape-rendering="crispEdges"/>
<rect x="298.50" y="262.94" width="4.14" height="4.14" fill="#d0d57e" shape-rendering="crispEdges"/>
<rect x="302.64" y="262.94" width="4.14" height="4.14" fill="#c6c6c6" shape-rendering="crispEdges"/>
<rect x="306.77" y="262.94" width="4.14" height="4.14" fill="#c6c6c6" shape-rendering="crispEdges"/>
<rect x="310.91" y="262.94" width="4.14" height="4.14" fill="#c6c6c6" shape-rendering="crispEdges"/>
<rect x="315.05" y="262.94" width="4.14" height="4.14" fill="#c6c6c6" shape-rendering="crispEdges"/>
<rect x="319.19" y="262.94" width="4.14" height="4.14" fill="#c6c6c6" shape-rendering="crispEdges"/>
<rect x="323.32" y="262.94" width="4.14" height="4.14" fill="#b7b7ba" shape-rendering="crispEdges"/>
<rect x="327.46" y="262.94" width="5.64" height="4.14" fill="#c6c6c6" shape-rendering="crispEdges"/>
<rect x="263.90" y="267.07" width="5.64" height="4.14" fill="#ccd840" shape-rendering="crispEdges"/>
<rect x="269.54" y="267.07" width="4.14" height="4.14" fill="#ccd840" shape-rendering="crispEdges"/>
<rect x="273.67" y="267.07" width="4.14" height="4.14" fill="#d0d57e" shape-rendering="crispEdges"/>
<rect x="277.81" y="267.07" width="4.14" height="4.14" fill="#cfc04a" shape-rendering="crispEdges"/>
<rect x="281.95" y="267.07" width="4.14" height="4.14" fill="#ccd840" shape-rendering="crispEdges"/>
<rect x="286.09" y="267.07" width="4.14" height="4.14" fill="#ccd840" shape-rendering="crispEdges"/>
<rect x="290.22" y="267.07" width="4.14" height="4.14" fill="#d0d57e" shape-rendering="crispEdges"/>
<rect x="294.36" y="267.07" width="4.14" height="4.14" fill="#c6c6c6" shape-rendering="crispEdges"/>
<rect x="298.50" y="267.07" width="4.14" height="4.14" fill="#c6c6c6" shape-rendering="crispEdges"/>
<rect x="302.64" y="267.07" width="4.14" height="4.14" fill="#b7b7ba" shape-rendering="crispEdges"/>
<rect x="306.77" y="267.07" width="4.14" height="4.14" fill="#c6c6c6" shape-rendering="crispEdges"/>
<rect x="310.91" y="267.07" width="4.14" height="4.14" fill="#c6c6c6" shape-rendering="crispEdges"/>
<rect x="315.05" y="267.07" width="4.14" height="4.14" fill="#c6c6c6" shape-rendering="crispEdges"/>
<rect x="319.19" y="267.07" width="4.14" height="4.14" fill="#c6c6c6" shape-rendering="crispEdges"/>
<rect x="323.32" y="267.07" width="4.14" height="4.14" fill="#c6c6c6" shape-rendering="crispEdges"/>
<rect x="327.46" y="267.07" width="5.64" height="4.14" fill="#b7b7ba" shape-rendering="crispEdges"/>
<rect x="263.90" y="271.21" width="5.64" height="4.14" fill="#d0d57e" shape-rendering="crispEdges"/>
<rect x="269.54" y="271.21" width="4.14" height="4.14" fill="#d0d57e" shape-rendering="crispEdges"/>
<rect x="273.67" y="271.21" width="4.14" height="4.14" fill="#cfc04a" shape-rendering="crispEdges"/>
<rect x="277.81" y="271.21" width="4.14" height="4.14" fill="#d0d57e" shape-rendering="crispEdges"/>
<rect x="281.95" y="271.21" width="4.14" height="4.14" fill="#ccd840" shape-rendering="crispEdges"/>
<rect x="286.09" y="271.21" width="4.14" height="4.14" fill="#ccd840" shape-rendering="crispEdges"/>
<rect x="290.22" y="271.21" width="4.14" height="4.14" fill="#ccd840" shape-rendering="crispEdges"/>
<rect x="294.36" y="271.21" width="4.14" height="4.14" fill="#d0d57e" shape-rendering="crispEdges"/>
<rect x="298.50" y="271.21" width="4.14" height="4.14" fill="#c6c6c6" shape-rendering="crispEdges"/>
<rect x="302.64" y="271.21" width="4.14" height="4.14" fill="#b7b7ba" shape-rendering="crispEdges"/>
<rect x="306.77" y="271.21" width="4.14" height="4.14" fill="#d0d57e" shape-rendering="crispEdges"/>
<rect x="310.91" y="271.21" width="4.14" height="4.14" fill="#b7b7ba" shape-rendering="crispEdges"/>
<rect x="315.05" y="271.21" width="4.14" height="4.14" fill="#c6c6c6" shape-rendering="crispEdges"/>
<rect x="319.19" y="271.21" width="4.14" height="4.14" fill="#b7b7ba" shape-rendering="crispEdges"/>
<rect x="323.32" y="271.21" width="4.14" height="4.14" fill="#c6c6c6" shape-rendering="crispEdges"/>
<rect x="327.46" y="271.21" width="5.64" height="4.14" fill="#b7b7ba" shape-rendering="crispEdges"/>
<rect x="263.90" y="275.35" width="5.64" height="4.14" fill="#ccd840" shape-rendering="crispEdges"/>
<rect x="269.54" y="275.35" width="4.14" height="4.14" fill="#d0d57e" shape-rendering="crispEdges"/>
<rect x="273.67" y="275.35" width="4.14" height="4.14" fill="#d0d57e" shape-rendering="crispEdges"/>
<rect x="277.81" y="275.35" width="4.14" height="4.14" fill="#c6c6c6" shape-rendering="crispEdges"/>
<rect x="281.95" y="275.35" width="4.14" height="4.14" fill="#ccd840" shape-rendering="crispEdges"/>
<rect x="286.09" y="275.35" width="4.14" height="4.14" fill="#d0d57e" shape-rendering="crispEdges"/>
<rect x="290.22" y="275.35" width="4.14" height="4.14" fill="#ccd840" shape-rendering="crispEdges"/>
<rect x="294.36" y="275.35" width="4.14" height="4.14" fill="#c6c6c6" shape-rendering="crispEdges"/>
<rect x="298.50" y="275.35" width="4.14" height="4.14" fill="#d8d8d2" shape-rendering="crispEdges"/>
<rect x="302.64" y="275.35" width="4.14" height="4.14" fill="#ccd840" shape-rendering="crispEdges"/>
<rect x="306.77" y="275.35" width="4.14" height="4.14" fill="#c6c6c6" shape-rendering="crispEdges"/>
<rect x="310.91" y="275.35" width="4.14" height="4.14" fill="#c6c6c6" shape-rendering="crispEdges"/>
<rect x="315.05" y="275.35" width="4.14" height="4.14" fill="#c6c6c6" shape-rendering="crispEdges"/>
<rect x="319.19" y="275.35" width="4.14" height="4.14" fill="#d0d57e" shape-rendering="crispEdges"/>
<rect x="323.32" y="275.35" width="4.14" height="4.14" fill="#c6c6c6" shape-rendering="crispEdges"/>
<rect x="327.46" y="275.35" width="5.64" height="4.14" fill="#b7b7ba" shape-rendering="crispEdges"/>
<rect x="263.90" y="279.49" width="5.64" height="4.14" fill="#d0d57e" shape-rendering="crispEdges"/>
<rect x="269.54" y="279.49" width="4.14" height="4.14" fill="#ccd840" shape-rendering="crispEdges"/>
<rect x="273.67" y="279.49" width="4.14" height="4.14" fill="#ccd840" shape-rendering="crispEdges"/>
<rect x="277.81" y="279.49" width="4.14" height="4.14" fill="#d0d57e" shape-rendering="crispEdges"/>
<rect x="281.95" y="279.49" width="4.14" height="4.14" fill="#d0d57e" shape-rendering="crispEdges"/>
<rect x="286.09" y="279.49" width="4.14" height="4.14" fill="#d0d57e" shape-rendering="crispEdges"/>
<rect x="290.22" y="279.49" width="4.14" height="4.14" fill="#ccd840" shape-rendering="crispEdges"/>
<rect x="294.36" y="279.49" width="4.14" height="4.14" fill="#d0d57e" shape-rendering="crispEdges"/>
<rect x="298.50" y="279.49" width="4.14" height="4.14" fill="#d0d57e" shape-rendering="crispEdges"/>
<rect x="302.64" y="279.49" width="4.14" height="4.14" fill="#d0d57e" shape-rendering="crispEdges"/>
<rect x="306.77" y="279.49" width="4.14" height="4.14" fill="#c6c6c6" shape-rendering="crispEdges"/>
<rect x="310.91" y="279.49" width="4.14" height="4.14" fill="#c6c6c6" shape-rendering="crispEdges"/>
<rect x="315.05" y="279.49" width="4.14" height="4.14" fill="#c6c6c6" shape-rendering="crispEdges"/>
<rect x="319.19" y="279.49" width="4.14" height="4.14" fill="#b7b7ba" shape-rendering="crispEdges"/>
<rect x="323.32" y="279.49" width="4.14" height="4.14" fill="#c6c6c6" shape-rendering="crispEdges"/>
<rect x="327.46" y="279.49" width="5.64" height="4.14" fill="#d0d57e" shape-rendering="crispEdges"/>
<rect x="263.90" y="283.62" width="5.64" height="4.14" fill="#ccd840" shape-rendering="crispEdges"/>
<rect x="269.54" y="283.62" width="4.14" height="4.14" fill="#ccd840" shape-rendering="crispEdges"/>
<rect x="273.67" y="283.62" width="4.14" height="4.14" fill="#ccd840" shape-rendering="crispEdges"/>
<rect x="277.81" y="283.62" width="4.14" height="4.14" fill="#ccd840" shape-rendering="crispEdges"/>
<rect x="281.95" y="283.62" width="4.14" height="4.14" fill="#d0d57e" shape-rendering="crispEdges"/>
<rect x="286.09" y="283.62" width="4.14" height="4.14" fill="#c6c6c6" shape-rendering="crispEdges"/>
<rect x="290.22" y="283.62" width="4.14" height="4.14" fill="#d0d57e" shape-rendering="crispEdges"/>
<rect x="294.36" y="283.62" width="4.14" height="4.14" fill="#c6c6c6" shape-rendering="crispEdges"/>
<rect x="298.50" y="283.62" width="4.14" height="4.14" fill="#d0d57e" shape-rendering="crispEdges"/>
<rect x="302.64" y="283.62" width="4.14" height="4.14" fill="#d0d57e" shape-rendering="crispEdges"/>
<rect x="306.77" y="283.62" width="4.14" height="4.14" fill="#c6c6c6" shape-rendering="crispEdges"/>
<rect x="310.91" y="283.62" width="4.14" height="4.14" fill="#c6c6c6" shape-rendering="crispEdges"/>
<rect x="315.05" y="283.62" width="4.14" height="4.14" fill="#b7b7ba" shape-rendering="crispEdges"/>
<rect x="319.19" y="283.62" width="4.14" height="4.14" fill="#c6c6c6" shape-rendering="crispEdges"/>
<rect x="323.32" y="283.62" width="4.14" height="4.14" fill="#c6c6c6" shape-rendering="crispEdges"/>
<rect x="327.46" y="283.62" width="5.64" height="4.14" fill="#b7b7ba" shape-rendering="crispEdges"/>
<rect x="263.90" y="287.76" width="5.64" height="5.64" fill="#d0d57e" shape-rendering="crispEdges"/>
<rect x="269.54" y="287.76" width="4.14" height="5.64" fill="#ccd840" shape-rendering="crispEdges"/>
<rect x="273.67" y="287.76" width="4.14" height="5.64" fill="#ccd840" shape-rendering="crispEdges"/>
<rect x="277.81" y="287.76" width="4.14" height="5.64" fill="#ccd840" shape-rendering="crispEdges"/>
<rect x="281.95" y="287.76" width="4.14" height="5.64" fill="#d0d57e" shape-rendering="crispEdges"/>
<rect x="286.09" y="287.76" width="4.14" height="5.64" fill="#ccd840" shape-rendering="crispEdges"/>
<rect x="290.22" y="287.76" width="4.14" height="5.64" fill="#d0d57e" shape-rendering="crispEdges"/>
<rect x="294.36" y="287.76" width="4.14" height="5.64" fill="#c6c6c6" shape-rendering="crispEdges"/>
<rect x="298.50" y="287.76" width="4.14" height="5.64" fill="#c6c6c6" shape-rendering="crispEdges"/>
<rect x="302.64" y="287.76" width="4.14" height="5.64" fill="#c6c6c6" shape-rendering="crispEdges"/>
<rect x="306.77" y="287.76" width="4.14" height="5.64" fill="#d0d57e" shape-rendering="crispEdges"/>
<rect x="310.91" y="287.76" width="4.14" height="5.64" fill="#c6c6c6" shape-rendering="crispEdges"/>
<rect x="315.05" y="287.76" width="4.14" height="5.64" fill="#c6c6c6" shape-rendering="crispEdges"/>
<rect x="319.19" y="287.76" width="4.14" height="5.64" fill="#a5a5a8" shape-rendering="crispEdges"/>
<rect x="323.32" y="287.76" width="4.14" height="5.64" fill="#b7b7ba" shape-rendering="crispEdges"/>
<rect x="327.46" y="287.76" width="5.64" height="5.64" fill="#c6c6c6" shape-rendering="crispEdges"/>
</g></g>
<clipPath id="hc5"><rect x="350.1" y="78.6" width="66.2" height="66.2"/></clipPath>
<filter id="hb5" filterUnits="userSpaceOnUse" x="348.6" y="77.1" width="69.2" height="69.2" color-interpolation-filters="sRGB"><feGaussianBlur stdDeviation="0.45" edgeMode="duplicate"/></filter>
<g clip-path="url(#hc5)"><g filter="url(#hb5)">
<rect x="348.60" y="77.10" width="5.64" height="5.64" fill="#d2dc3e" shape-rendering="crispEdges"/>
<rect x="354.24" y="77.10" width="4.14" height="5.64" fill="#d2dc3e" shape-rendering="crispEdges"/>
<rect x="358.38" y="77.10" width="4.14" height="5.64" fill="#d8bd3c" shape-rendering="crispEdges"/>
<rect x="362.51" y="77.10" width="4.14" height="5.64" fill="#d2dc3e" shape-rendering="crispEdges"/>
<rect x="366.65" y="77.10" width="4.14" height="5.64" fill="#d2dc3e" shape-rendering="crispEdges"/>
<rect x="370.79" y="77.10" width="4.14" height="5.64" fill="#d8bd3c" shape-rendering="crispEdges"/>
<rect x="374.93" y="77.10" width="4.14" height="5.64" fill="#d2dc3e" shape-rendering="crispEdges"/>
<rect x="379.06" y="77.10" width="4.14" height="5.64" fill="#dcdfa8" shape-rendering="crispEdges"/>
<rect x="383.20" y="77.10" width="4.14" height="5.64" fill="#d2dc3e" shape-rendering="crispEdges"/>
<rect x="387.34" y="77.10" width="4.14" height="5.64" fill="#d2dc3e" shape-rendering="crispEdges"/>
<rect x="391.48" y="77.10" width="4.14" height="5.64" fill="#dcdfa8" shape-rendering="crispEdges"/>
<rect x="395.61" y="77.10" width="4.14" height="5.64" fill="#dcdfa8" shape-rendering="crispEdges"/>
<rect x="399.75" y="77.10" width="4.14" height="5.64" fill="#dcdfa8" shape-rendering="crispEdges"/>
<rect x="403.89" y="77.10" width="4.14" height="5.64" fill="#d2dc3e" shape-rendering="crispEdges"/>
<rect x="408.03" y="77.10" width="4.14" height="5.64" fill="#dcdfa8" shape-rendering="crispEdges"/>
<rect x="412.16" y="77.10" width="5.64" height="5.64" fill="#d2dc3e" shape-rendering="crispEdges"/>
<rect x="348.60" y="82.74" width="5.64" height="4.14" fill="#d2dc3e" shape-rendering="crispEdges"/>
<rect x="354.24" y="82.74" width="4.14" height="4.14" fill="#dc9a36" shape-rendering="crispEdges"/>
<rect x="358.38" y="82.74" width="4.14" height="4.14" fill="#dcdfa8" shape-rendering="crispEdges"/>
<rect x="362.51" y="82.74" width="4.14" height="4.14" fill="#d8bd3c" shape-rendering="crispEdges"/>
<rect x="366.65" y="82.74" width="4.14" height="4.14" fill="#d2dc3e" shape-rendering="crispEdges"/>
<rect x="370.79" y="82.74" width="4.14" height="4.14" fill="#d2dc3e" shape-rendering="crispEdges"/>
<rect x="374.93" y="82.74" width="4.14" height="4.14" fill="#d2dc3e" shape-rendering="crispEdges"/>
<rect x="379.06" y="82.74" width="4.14" height="4.14" fill="#d2dc3e" shape-rendering="crispEdges"/>
<rect x="383.20" y="82.74" width="4.14" height="4.14" fill="#d2dc3e" shape-rendering="crispEdges"/>
<rect x="387.34" y="82.74" width="4.14" height="4.14" fill="#d2dc3e" shape-rendering="crispEdges"/>
<rect x="391.48" y="82.74" width="4.14" height="4.14" fill="#dcdfa8" shape-rendering="crispEdges"/>
<rect x="395.61" y="82.74" width="4.14" height="4.14" fill="#dcdfa8" shape-rendering="crispEdges"/>
<rect x="399.75" y="82.74" width="4.14" height="4.14" fill="#d2dc3e" shape-rendering="crispEdges"/>
<rect x="403.89" y="82.74" width="4.14" height="4.14" fill="#dcdfa8" shape-rendering="crispEdges"/>
<rect x="408.03" y="82.74" width="4.14" height="4.14" fill="#d2dc3e" shape-rendering="crispEdges"/>
<rect x="412.16" y="82.74" width="5.64" height="4.14" fill="#d2dc3e" shape-rendering="crispEdges"/>
<rect x="348.60" y="86.88" width="5.64" height="4.14" fill="#dcdfa8" shape-rendering="crispEdges"/>
<rect x="354.24" y="86.88" width="4.14" height="4.14" fill="#dcdfa8" shape-rendering="crispEdges"/>
<rect x="358.38" y="86.88" width="4.14" height="4.14" fill="#dcdfa8" shape-rendering="crispEdges"/>
<rect x="362.51" y="86.88" width="4.14" height="4.14" fill="#d8bd3c" shape-rendering="crispEdges"/>
<rect x="366.65" y="86.88" width="4.14" height="4.14" fill="#d8bd3c" shape-rendering="crispEdges"/>
<rect x="370.79" y="86.88" width="4.14" height="4.14" fill="#de7a32" shape-rendering="crispEdges"/>
<rect x="374.93" y="86.88" width="4.14" height="4.14" fill="#d2dc3e" shape-rendering="crispEdges"/>
<rect x="379.06" y="86.88" width="4.14" height="4.14" fill="#d8bd3c" shape-rendering="crispEdges"/>
<rect x="383.20" y="86.88" width="4.14" height="4.14" fill="#d2dc3e" shape-rendering="crispEdges"/>
<rect x="387.34" y="86.88" width="4.14" height="4.14" fill="#dcdfa8" shape-rendering="crispEdges"/>
<rect x="391.48" y="86.88" width="4.14" height="4.14" fill="#d2dc3e" shape-rendering="crispEdges"/>
<rect x="395.61" y="86.88" width="4.14" height="4.14" fill="#d2dc3e" shape-rendering="crispEdges"/>
<rect x="399.75" y="86.88" width="4.14" height="4.14" fill="#dcdfa8" shape-rendering="crispEdges"/>
<rect x="403.89" y="86.88" width="4.14" height="4.14" fill="#d2dc3e" shape-rendering="crispEdges"/>
<rect x="408.03" y="86.88" width="4.14" height="4.14" fill="#d2dc3e" shape-rendering="crispEdges"/>
<rect x="412.16" y="86.88" width="5.64" height="4.14" fill="#d2dc3e" shape-rendering="crispEdges"/>
<rect x="348.60" y="91.01" width="5.64" height="4.14" fill="#d2dc3e" shape-rendering="crispEdges"/>
<rect x="354.24" y="91.01" width="4.14" height="4.14" fill="#dcdfa8" shape-rendering="crispEdges"/>
<rect x="358.38" y="91.01" width="4.14" height="4.14" fill="#d2dc3e" shape-rendering="crispEdges"/>
<rect x="362.51" y="91.01" width="4.14" height="4.14" fill="#d2dc3e" shape-rendering="crispEdges"/>
<rect x="366.65" y="91.01" width="4.14" height="4.14" fill="#d2dc3e" shape-rendering="crispEdges"/>
<rect x="370.79" y="91.01" width="4.14" height="4.14" fill="#d2dc3e" shape-rendering="crispEdges"/>
<rect x="374.93" y="91.01" width="4.14" height="4.14" fill="#d8bd3c" shape-rendering="crispEdges"/>
<rect x="379.06" y="91.01" width="4.14" height="4.14" fill="#de7a32" shape-rendering="crispEdges"/>
<rect x="383.20" y="91.01" width="4.14" height="4.14" fill="#d2dc3e" shape-rendering="crispEdges"/>
<rect x="387.34" y="91.01" width="4.14" height="4.14" fill="#d8bd3c" shape-rendering="crispEdges"/>
<rect x="391.48" y="91.01" width="4.14" height="4.14" fill="#d2dc3e" shape-rendering="crispEdges"/>
<rect x="395.61" y="91.01" width="4.14" height="4.14" fill="#d2dc3e" shape-rendering="crispEdges"/>
<rect x="399.75" y="91.01" width="4.14" height="4.14" fill="#d2dc3e" shape-rendering="crispEdges"/>
<rect x="403.89" y="91.01" width="4.14" height="4.14" fill="#dc9a36" shape-rendering="crispEdges"/>
<rect x="408.03" y="91.01" width="4.14" height="4.14" fill="#de7a32" shape-rendering="crispEdges"/>
<rect x="412.16" y="91.01" width="5.64" height="4.14" fill="#d2dc3e" shape-rendering="crispEdges"/>
<rect x="348.60" y="95.15" width="5.64" height="4.14" fill="#dcdfa8" shape-rendering="crispEdges"/>
<rect x="354.24" y="95.15" width="4.14" height="4.14" fill="#dcdfa8" shape-rendering="crispEdges"/>
<rect x="358.38" y="95.15" width="4.14" height="4.14" fill="#d2dc3e" shape-rendering="crispEdges"/>
<rect x="362.51" y="95.15" width="4.14" height="4.14" fill="#d8bd3c" shape-rendering="crispEdges"/>
<rect x="366.65" y="95.15" width="4.14" height="4.14" fill="#dc3a2e" shape-rendering="crispEdges"/>
<rect x="370.79" y="95.15" width="4.14" height="4.14" fill="#d8bd3c" shape-rendering="crispEdges"/>
<rect x="374.93" y="95.15" width="4.14" height="4.14" fill="#dc9a36" shape-rendering="crispEdges"/>
<rect x="379.06" y="95.15" width="4.14" height="4.14" fill="#d8bd3c" shape-rendering="crispEdges"/>
<rect x="383.20" y="95.15" width="4.14" height="4.14" fill="#d2dc3e" shape-rendering="crispEdges"/>
<rect x="387.34" y="95.15" width="4.14" height="4.14" fill="#d2dc3e" shape-rendering="crispEdges"/>
<rect x="391.48" y="95.15" width="4.14" height="4.14" fill="#dcdfa8" shape-rendering="crispEdges"/>
<rect x="395.61" y="95.15" width="4.14" height="4.14" fill="#d2dc3e" shape-rendering="crispEdges"/>
<rect x="399.75" y="95.15" width="4.14" height="4.14" fill="#d8bd3c" shape-rendering="crispEdges"/>
<rect x="403.89" y="95.15" width="4.14" height="4.14" fill="#dc9a36" shape-rendering="crispEdges"/>
<rect x="408.03" y="95.15" width="4.14" height="4.14" fill="#dcdfa8" shape-rendering="crispEdges"/>
<rect x="412.16" y="95.15" width="5.64" height="4.14" fill="#d2dc3e" shape-rendering="crispEdges"/>
<rect x="348.60" y="99.29" width="5.64" height="4.14" fill="#d2dc3e" shape-rendering="crispEdges"/>
<rect x="354.24" y="99.29" width="4.14" height="4.14" fill="#d2dc3e" shape-rendering="crispEdges"/>
<rect x="358.38" y="99.29" width="4.14" height="4.14" fill="#d2dc3e" shape-rendering="crispEdges"/>
<rect x="362.51" y="99.29" width="4.14" height="4.14" fill="#de7a32" shape-rendering="crispEdges"/>
<rect x="366.65" y="99.29" width="4.14" height="4.14" fill="#dcdfa8" shape-rendering="crispEdges"/>
<rect x="370.79" y="99.29" width="4.14" height="4.14" fill="#d8bd3c" shape-rendering="crispEdges"/>
<rect x="374.93" y="99.29" width="4.14" height="4.14" fill="#d8bd3c" shape-rendering="crispEdges"/>
<rect x="379.06" y="99.29" width="4.14" height="4.14" fill="#de7a32" shape-rendering="crispEdges"/>
<rect x="383.20" y="99.29" width="4.14" height="4.14" fill="#d2dc3e" shape-rendering="crispEdges"/>
<rect x="387.34" y="99.29" width="4.14" height="4.14" fill="#d2dc3e" shape-rendering="crispEdges"/>
<rect x="391.48" y="99.29" width="4.14" height="4.14" fill="#d2dc3e" shape-rendering="crispEdges"/>
<rect x="395.61" y="99.29" width="4.14" height="4.14" fill="#d2dc3e" shape-rendering="crispEdges"/>
<rect x="399.75" y="99.29" width="4.14" height="4.14" fill="#de7a32" shape-rendering="crispEdges"/>
<rect x="403.89" y="99.29" width="4.14" height="4.14" fill="#dcdfa8" shape-rendering="crispEdges"/>
<rect x="408.03" y="99.29" width="4.14" height="4.14" fill="#d8bd3c" shape-rendering="crispEdges"/>
<rect x="412.16" y="99.29" width="5.64" height="4.14" fill="#d2dc3e" shape-rendering="crispEdges"/>
<rect x="348.60" y="103.42" width="5.64" height="4.14" fill="#d2dc3e" shape-rendering="crispEdges"/>
<rect x="354.24" y="103.42" width="4.14" height="4.14" fill="#d2dc3e" shape-rendering="crispEdges"/>
<rect x="358.38" y="103.42" width="4.14" height="4.14" fill="#d2dc3e" shape-rendering="crispEdges"/>
<rect x="362.51" y="103.42" width="4.14" height="4.14" fill="#d8bd3c" shape-rendering="crispEdges"/>
<rect x="366.65" y="103.42" width="4.14" height="4.14" fill="#de7a32" shape-rendering="crispEdges"/>
<rect x="370.79" y="103.42" width="4.14" height="4.14" fill="#dc9a36" shape-rendering="crispEdges"/>
<rect x="374.93" y="103.42" width="4.14" height="4.14" fill="#de7a32" shape-rendering="crispEdges"/>
<rect x="379.06" y="103.42" width="4.14" height="4.14" fill="#dc9a36" shape-rendering="crispEdges"/>
<rect x="383.20" y="103.42" width="4.14" height="4.14" fill="#de7a32" shape-rendering="crispEdges"/>
<rect x="387.34" y="103.42" width="4.14" height="4.14" fill="#d8bd3c" shape-rendering="crispEdges"/>
<rect x="391.48" y="103.42" width="4.14" height="4.14" fill="#dc9a36" shape-rendering="crispEdges"/>
<rect x="395.61" y="103.42" width="4.14" height="4.14" fill="#d8bd3c" shape-rendering="crispEdges"/>
<rect x="399.75" y="103.42" width="4.14" height="4.14" fill="#d2dc3e" shape-rendering="crispEdges"/>
<rect x="403.89" y="103.42" width="4.14" height="4.14" fill="#d2dc3e" shape-rendering="crispEdges"/>
<rect x="408.03" y="103.42" width="4.14" height="4.14" fill="#dc3a2e" shape-rendering="crispEdges"/>
<rect x="412.16" y="103.42" width="5.64" height="4.14" fill="#d2dc3e" shape-rendering="crispEdges"/>
<rect x="348.60" y="107.56" width="5.64" height="4.14" fill="#d2dc3e" shape-rendering="crispEdges"/>
<rect x="354.24" y="107.56" width="4.14" height="4.14" fill="#dcdfa8" shape-rendering="crispEdges"/>
<rect x="358.38" y="107.56" width="4.14" height="4.14" fill="#d2dc3e" shape-rendering="crispEdges"/>
<rect x="362.51" y="107.56" width="4.14" height="4.14" fill="#de7a32" shape-rendering="crispEdges"/>
<rect x="366.65" y="107.56" width="4.14" height="4.14" fill="#dc3a2e" shape-rendering="crispEdges"/>
<rect x="370.79" y="107.56" width="4.14" height="4.14" fill="#de7a32" shape-rendering="crispEdges"/>
<rect x="374.93" y="107.56" width="4.14" height="4.14" fill="#de7a32" shape-rendering="crispEdges"/>
<rect x="379.06" y="107.56" width="4.14" height="4.14" fill="#dc9a36" shape-rendering="crispEdges"/>
<rect x="383.20" y="107.56" width="4.14" height="4.14" fill="#de7a32" shape-rendering="crispEdges"/>
<rect x="387.34" y="107.56" width="4.14" height="4.14" fill="#d2dc3e" shape-rendering="crispEdges"/>
<rect x="391.48" y="107.56" width="4.14" height="4.14" fill="#d2dc3e" shape-rendering="crispEdges"/>
<rect x="395.61" y="107.56" width="4.14" height="4.14" fill="#dc3a2e" shape-rendering="crispEdges"/>
<rect x="399.75" y="107.56" width="4.14" height="4.14" fill="#de7a32" shape-rendering="crispEdges"/>
<rect x="403.89" y="107.56" width="4.14" height="4.14" fill="#d2dc3e" shape-rendering="crispEdges"/>
<rect x="408.03" y="107.56" width="4.14" height="4.14" fill="#de7a32" shape-rendering="crispEdges"/>
<rect x="412.16" y="107.56" width="5.64" height="4.14" fill="#dc3a2e" shape-rendering="crispEdges"/>
<rect x="348.60" y="111.70" width="5.64" height="4.14" fill="#d2dc3e" shape-rendering="crispEdges"/>
<rect x="354.24" y="111.70" width="4.14" height="4.14" fill="#d2dc3e" shape-rendering="crispEdges"/>
<rect x="358.38" y="111.70" width="4.14" height="4.14" fill="#d2dc3e" shape-rendering="crispEdges"/>
<rect x="362.51" y="111.70" width="4.14" height="4.14" fill="#dc9a36" shape-rendering="crispEdges"/>
<rect x="366.65" y="111.70" width="4.14" height="4.14" fill="#d8bd3c" shape-rendering="crispEdges"/>
<rect x="370.79" y="111.70" width="4.14" height="4.14" fill="#d2dc3e" shape-rendering="crispEdges"/>
<rect x="374.93" y="111.70" width="4.14" height="4.14" fill="#de7a32" shape-rendering="crispEdges"/>
<rect x="379.06" y="111.70" width="4.14" height="4.14" fill="#d8bd3c" shape-rendering="crispEdges"/>
<rect x="383.20" y="111.70" width="4.14" height="4.14" fill="#de7a32" shape-rendering="crispEdges"/>
<rect x="387.34" y="111.70" width="4.14" height="4.14" fill="#d2dc3e" shape-rendering="crispEdges"/>
<rect x="391.48" y="111.70" width="4.14" height="4.14" fill="#de7a32" shape-rendering="crispEdges"/>
<rect x="395.61" y="111.70" width="4.14" height="4.14" fill="#de7a32" shape-rendering="crispEdges"/>
<rect x="399.75" y="111.70" width="4.14" height="4.14" fill="#dc3a2e" shape-rendering="crispEdges"/>
<rect x="403.89" y="111.70" width="4.14" height="4.14" fill="#d2dc3e" shape-rendering="crispEdges"/>
<rect x="408.03" y="111.70" width="4.14" height="4.14" fill="#de7a32" shape-rendering="crispEdges"/>
<rect x="412.16" y="111.70" width="5.64" height="4.14" fill="#d8bd3c" shape-rendering="crispEdges"/>
<rect x="348.60" y="115.84" width="5.64" height="4.14" fill="#d2dc3e" shape-rendering="crispEdges"/>
<rect x="354.24" y="115.84" width="4.14" height="4.14" fill="#d2dc3e" shape-rendering="crispEdges"/>
<rect x="358.38" y="115.84" width="4.14" height="4.14" fill="#d2dc3e" shape-rendering="crispEdges"/>
<rect x="362.51" y="115.84" width="4.14" height="4.14" fill="#d2dc3e" shape-rendering="crispEdges"/>
<rect x="366.65" y="115.84" width="4.14" height="4.14" fill="#d2dc3e" shape-rendering="crispEdges"/>
<rect x="370.79" y="115.84" width="4.14" height="4.14" fill="#d8bd3c" shape-rendering="crispEdges"/>
<rect x="374.93" y="115.84" width="4.14" height="4.14" fill="#dc3a2e" shape-rendering="crispEdges"/>
<rect x="379.06" y="115.84" width="4.14" height="4.14" fill="#d8bd3c" shape-rendering="crispEdges"/>
<rect x="383.20" y="115.84" width="4.14" height="4.14" fill="#de7a32" shape-rendering="crispEdges"/>
<rect x="387.34" y="115.84" width="4.14" height="4.14" fill="#d8bd3c" shape-rendering="crispEdges"/>
<rect x="391.48" y="115.84" width="4.14" height="4.14" fill="#dc9a36" shape-rendering="crispEdges"/>
<rect x="395.61" y="115.84" width="4.14" height="4.14" fill="#d2dc3e" shape-rendering="crispEdges"/>
<rect x="399.75" y="115.84" width="4.14" height="4.14" fill="#de7a32" shape-rendering="crispEdges"/>
<rect x="403.89" y="115.84" width="4.14" height="4.14" fill="#de7a32" shape-rendering="crispEdges"/>
<rect x="408.03" y="115.84" width="4.14" height="4.14" fill="#de7a32" shape-rendering="crispEdges"/>
<rect x="412.16" y="115.84" width="5.64" height="4.14" fill="#de7a32" shape-rendering="crispEdges"/>
<rect x="348.60" y="119.97" width="5.64" height="4.14" fill="#dcdfa8" shape-rendering="crispEdges"/>
<rect x="354.24" y="119.97" width="4.14" height="4.14" fill="#dcdfa8" shape-rendering="crispEdges"/>
<rect x="358.38" y="119.97" width="4.14" height="4.14" fill="#d2dc3e" shape-rendering="crispEdges"/>
<rect x="362.51" y="119.97" width="4.14" height="4.14" fill="#d2dc3e" shape-rendering="crispEdges"/>
<rect x="366.65" y="119.97" width="4.14" height="4.14" fill="#d2dc3e" shape-rendering="crispEdges"/>
<rect x="370.79" y="119.97" width="4.14" height="4.14" fill="#dc3a2e" shape-rendering="crispEdges"/>
<rect x="374.93" y="119.97" width="4.14" height="4.14" fill="#d8bd3c" shape-rendering="crispEdges"/>
<rect x="379.06" y="119.97" width="4.14" height="4.14" fill="#dc3a2e" shape-rendering="crispEdges"/>
<rect x="383.20" y="119.97" width="4.14" height="4.14" fill="#d8bd3c" shape-rendering="crispEdges"/>
<rect x="387.34" y="119.97" width="4.14" height="4.14" fill="#dc9a36" shape-rendering="crispEdges"/>
<rect x="391.48" y="119.97" width="4.14" height="4.14" fill="#dc3a2e" shape-rendering="crispEdges"/>
<rect x="395.61" y="119.97" width="4.14" height="4.14" fill="#de7a32" shape-rendering="crispEdges"/>
<rect x="399.75" y="119.97" width="4.14" height="4.14" fill="#d2dc3e" shape-rendering="crispEdges"/>
<rect x="403.89" y="119.97" width="4.14" height="4.14" fill="#de7a32" shape-rendering="crispEdges"/>
<rect x="408.03" y="119.97" width="4.14" height="4.14" fill="#dc9a36" shape-rendering="crispEdges"/>
<rect x="412.16" y="119.97" width="5.64" height="4.14" fill="#dc3a2e" shape-rendering="crispEdges"/>
<rect x="348.60" y="124.11" width="5.64" height="4.14" fill="#d2dc3e" shape-rendering="crispEdges"/>
<rect x="354.24" y="124.11" width="4.14" height="4.14" fill="#d2dc3e" shape-rendering="crispEdges"/>
<rect x="358.38" y="124.11" width="4.14" height="4.14" fill="#de7a32" shape-rendering="crispEdges"/>
<rect x="362.51" y="124.11" width="4.14" height="4.14" fill="#d8bd3c" shape-rendering="crispEdges"/>
<rect x="366.65" y="124.11" width="4.14" height="4.14" fill="#de7a32" shape-rendering="crispEdges"/>
<rect x="370.79" y="124.11" width="4.14" height="4.14" fill="#d2dc3e" shape-rendering="crispEdges"/>
<rect x="374.93" y="124.11" width="4.14" height="4.14" fill="#de7a32" shape-rendering="crispEdges"/>
<rect x="379.06" y="124.11" width="4.14" height="4.14" fill="#de7a32" shape-rendering="crispEdges"/>
<rect x="383.20" y="124.11" width="4.14" height="4.14" fill="#d8bd3c" shape-rendering="crispEdges"/>
<rect x="387.34" y="124.11" width="4.14" height="4.14" fill="#dc9a36" shape-rendering="crispEdges"/>
<rect x="391.48" y="124.11" width="4.14" height="4.14" fill="#dc3a2e" shape-rendering="crispEdges"/>
<rect x="395.61" y="124.11" width="4.14" height="4.14" fill="#de7a32" shape-rendering="crispEdges"/>
<rect x="399.75" y="124.11" width="4.14" height="4.14" fill="#dc9a36" shape-rendering="crispEdges"/>
<rect x="403.89" y="124.11" width="4.14" height="4.14" fill="#de7a32" shape-rendering="crispEdges"/>
<rect x="408.03" y="124.11" width="4.14" height="4.14" fill="#de7a32" shape-rendering="crispEdges"/>
<rect x="412.16" y="124.11" width="5.64" height="4.14" fill="#dc3a2e" shape-rendering="crispEdges"/>
<rect x="348.60" y="128.25" width="5.64" height="4.14" fill="#d2dc3e" shape-rendering="crispEdges"/>
<rect x="354.24" y="128.25" width="4.14" height="4.14" fill="#d2dc3e" shape-rendering="crispEdges"/>
<rect x="358.38" y="128.25" width="4.14" height="4.14" fill="#dcdfa8" shape-rendering="crispEdges"/>
<rect x="362.51" y="128.25" width="4.14" height="4.14" fill="#d2dc3e" shape-rendering="crispEdges"/>
<rect x="366.65" y="128.25" width="4.14" height="4.14" fill="#dc9a36" shape-rendering="crispEdges"/>
<rect x="370.79" y="128.25" width="4.14" height="4.14" fill="#d2dc3e" shape-rendering="crispEdges"/>
<rect x="374.93" y="128.25" width="4.14" height="4.14" fill="#de7a32" shape-rendering="crispEdges"/>
<rect x="379.06" y="128.25" width="4.14" height="4.14" fill="#d2dc3e" shape-rendering="crispEdges"/>
<rect x="383.20" y="128.25" width="4.14" height="4.14" fill="#de7a32" shape-rendering="crispEdges"/>
<rect x="387.34" y="128.25" width="4.14" height="4.14" fill="#dcdfa8" shape-rendering="crispEdges"/>
<rect x="391.48" y="128.25" width="4.14" height="4.14" fill="#d2dc3e" shape-rendering="crispEdges"/>
<rect x="395.61" y="128.25" width="4.14" height="4.14" fill="#de7a32" shape-rendering="crispEdges"/>
<rect x="399.75" y="128.25" width="4.14" height="4.14" fill="#dc9a36" shape-rendering="crispEdges"/>
<rect x="403.89" y="128.25" width="4.14" height="4.14" fill="#de7a32" shape-rendering="crispEdges"/>
<rect x="408.03" y="128.25" width="4.14" height="4.14" fill="#d8bd3c" shape-rendering="crispEdges"/>
<rect x="412.16" y="128.25" width="5.64" height="4.14" fill="#de7a32" shape-rendering="crispEdges"/>
<rect x="348.60" y="132.39" width="5.64" height="4.14" fill="#d2dc3e" shape-rendering="crispEdges"/>
<rect x="354.24" y="132.39" width="4.14" height="4.14" fill="#dcdfa8" shape-rendering="crispEdges"/>
<rect x="358.38" y="132.39" width="4.14" height="4.14" fill="#dcdfa8" shape-rendering="crispEdges"/>
<rect x="362.51" y="132.39" width="4.14" height="4.14" fill="#d2dc3e" shape-rendering="crispEdges"/>
<rect x="366.65" y="132.39" width="4.14" height="4.14" fill="#de7a32" shape-rendering="crispEdges"/>
<rect x="370.79" y="132.39" width="4.14" height="4.14" fill="#dcdfa8" shape-rendering="crispEdges"/>
<rect x="374.93" y="132.39" width="4.14" height="4.14" fill="#dc3a2e" shape-rendering="crispEdges"/>
<rect x="379.06" y="132.39" width="4.14" height="4.14" fill="#dc9a36" shape-rendering="crispEdges"/>
<rect x="383.20" y="132.39" width="4.14" height="4.14" fill="#dc9a36" shape-rendering="crispEdges"/>
<rect x="387.34" y="132.39" width="4.14" height="4.14" fill="#de7a32" shape-rendering="crispEdges"/>
<rect x="391.48" y="132.39" width="4.14" height="4.14" fill="#dc3a2e" shape-rendering="crispEdges"/>
<rect x="395.61" y="132.39" width="4.14" height="4.14" fill="#d2dc3e" shape-rendering="crispEdges"/>
<rect x="399.75" y="132.39" width="4.14" height="4.14" fill="#dc3a2e" shape-rendering="crispEdges"/>
<rect x="403.89" y="132.39" width="4.14" height="4.14" fill="#d2dc3e" shape-rendering="crispEdges"/>
<rect x="408.03" y="132.39" width="4.14" height="4.14" fill="#d8bd3c" shape-rendering="crispEdges"/>
<rect x="412.16" y="132.39" width="5.64" height="4.14" fill="#de7a32" shape-rendering="crispEdges"/>
<rect x="348.60" y="136.53" width="5.64" height="4.14" fill="#d2dc3e" shape-rendering="crispEdges"/>
<rect x="354.24" y="136.53" width="4.14" height="4.14" fill="#d2dc3e" shape-rendering="crispEdges"/>
<rect x="358.38" y="136.53" width="4.14" height="4.14" fill="#d2dc3e" shape-rendering="crispEdges"/>
<rect x="362.51" y="136.53" width="4.14" height="4.14" fill="#dcdfa8" shape-rendering="crispEdges"/>
<rect x="366.65" y="136.53" width="4.14" height="4.14" fill="#d2dc3e" shape-rendering="crispEdges"/>
<rect x="370.79" y="136.53" width="4.14" height="4.14" fill="#dcdfa8" shape-rendering="crispEdges"/>
<rect x="374.93" y="136.53" width="4.14" height="4.14" fill="#d2dc3e" shape-rendering="crispEdges"/>
<rect x="379.06" y="136.53" width="4.14" height="4.14" fill="#d2dc3e" shape-rendering="crispEdges"/>
<rect x="383.20" y="136.53" width="4.14" height="4.14" fill="#d8bd3c" shape-rendering="crispEdges"/>
<rect x="387.34" y="136.53" width="4.14" height="4.14" fill="#dc9a36" shape-rendering="crispEdges"/>
<rect x="391.48" y="136.53" width="4.14" height="4.14" fill="#d2dc3e" shape-rendering="crispEdges"/>
<rect x="395.61" y="136.53" width="4.14" height="4.14" fill="#d8bd3c" shape-rendering="crispEdges"/>
<rect x="399.75" y="136.53" width="4.14" height="4.14" fill="#d8bd3c" shape-rendering="crispEdges"/>
<rect x="403.89" y="136.53" width="4.14" height="4.14" fill="#de7a32" shape-rendering="crispEdges"/>
<rect x="408.03" y="136.53" width="4.14" height="4.14" fill="#d8bd3c" shape-rendering="crispEdges"/>
<rect x="412.16" y="136.53" width="5.64" height="4.14" fill="#de7a32" shape-rendering="crispEdges"/>
<rect x="348.60" y="140.66" width="5.64" height="5.64" fill="#d2dc3e" shape-rendering="crispEdges"/>
<rect x="354.24" y="140.66" width="4.14" height="5.64" fill="#d2dc3e" shape-rendering="crispEdges"/>
<rect x="358.38" y="140.66" width="4.14" height="5.64" fill="#d2dc3e" shape-rendering="crispEdges"/>
<rect x="362.51" y="140.66" width="4.14" height="5.64" fill="#dcdfa8" shape-rendering="crispEdges"/>
<rect x="366.65" y="140.66" width="4.14" height="5.64" fill="#d2dc3e" shape-rendering="crispEdges"/>
<rect x="370.79" y="140.66" width="4.14" height="5.64" fill="#d8bd3c" shape-rendering="crispEdges"/>
<rect x="374.93" y="140.66" width="4.14" height="5.64" fill="#d2dc3e" shape-rendering="crispEdges"/>
<rect x="379.06" y="140.66" width="4.14" height="5.64" fill="#d2dc3e" shape-rendering="crispEdges"/>
<rect x="383.20" y="140.66" width="4.14" height="5.64" fill="#dc9a36" shape-rendering="crispEdges"/>
<rect x="387.34" y="140.66" width="4.14" height="5.64" fill="#dc3a2e" shape-rendering="crispEdges"/>
<rect x="391.48" y="140.66" width="4.14" height="5.64" fill="#d8bd3c" shape-rendering="crispEdges"/>
<rect x="395.61" y="140.66" width="4.14" height="5.64" fill="#de7a32" shape-rendering="crispEdges"/>
<rect x="399.75" y="140.66" width="4.14" height="5.64" fill="#d2dc3e" shape-rendering="crispEdges"/>
<rect x="403.89" y="140.66" width="4.14" height="5.64" fill="#dc9a36" shape-rendering="crispEdges"/>
<rect x="408.03" y="140.66" width="4.14" height="5.64" fill="#d8bd3c" shape-rendering="crispEdges"/>
<rect x="412.16" y="140.66" width="5.64" height="5.64" fill="#de7a32" shape-rendering="crispEdges"/>
</g></g>
<clipPath id="hc6"><rect x="350.1" y="225.7" width="66.2" height="66.2"/></clipPath>
<filter id="hb6" filterUnits="userSpaceOnUse" x="348.6" y="224.2" width="69.2" height="69.2" color-interpolation-filters="sRGB"><feGaussianBlur stdDeviation="0.45" edgeMode="duplicate"/></filter>
<g clip-path="url(#hc6)"><g filter="url(#hb6)">
<rect x="348.60" y="224.20" width="5.64" height="5.64" fill="#cfcfcf" shape-rendering="crispEdges"/>
<rect x="354.24" y="224.20" width="4.14" height="5.64" fill="#e4e4e2" shape-rendering="crispEdges"/>
<rect x="358.38" y="224.20" width="4.14" height="5.64" fill="#bdbdbd" shape-rendering="crispEdges"/>
<rect x="362.51" y="224.20" width="4.14" height="5.64" fill="#cfcfcf" shape-rendering="crispEdges"/>
<rect x="366.65" y="224.20" width="4.14" height="5.64" fill="#dce2a2" shape-rendering="crispEdges"/>
<rect x="370.79" y="224.20" width="4.14" height="5.64" fill="#e4e4e2" shape-rendering="crispEdges"/>
<rect x="374.93" y="224.20" width="4.14" height="5.64" fill="#bdbdbd" shape-rendering="crispEdges"/>
<rect x="379.06" y="224.20" width="4.14" height="5.64" fill="#dce2a2" shape-rendering="crispEdges"/>
<rect x="383.20" y="224.20" width="4.14" height="5.64" fill="#e4e4e2" shape-rendering="crispEdges"/>
<rect x="387.34" y="224.20" width="4.14" height="5.64" fill="#cfcfcf" shape-rendering="crispEdges"/>
<rect x="391.48" y="224.20" width="4.14" height="5.64" fill="#dce2a2" shape-rendering="crispEdges"/>
<rect x="395.61" y="224.20" width="4.14" height="5.64" fill="#e4e4e2" shape-rendering="crispEdges"/>
<rect x="399.75" y="224.20" width="4.14" height="5.64" fill="#cfcfcf" shape-rendering="crispEdges"/>
<rect x="403.89" y="224.20" width="4.14" height="5.64" fill="#e4e4e2" shape-rendering="crispEdges"/>
<rect x="408.03" y="224.20" width="4.14" height="5.64" fill="#cfcfcf" shape-rendering="crispEdges"/>
<rect x="412.16" y="224.20" width="5.64" height="5.64" fill="#d4dc5a" shape-rendering="crispEdges"/>
<rect x="348.60" y="229.84" width="5.64" height="4.14" fill="#cfcfcf" shape-rendering="crispEdges"/>
<rect x="354.24" y="229.84" width="4.14" height="4.14" fill="#e4e4e2" shape-rendering="crispEdges"/>
<rect x="358.38" y="229.84" width="4.14" height="4.14" fill="#cfcfcf" shape-rendering="crispEdges"/>
<rect x="362.51" y="229.84" width="4.14" height="4.14" fill="#e4e4e2" shape-rendering="crispEdges"/>
<rect x="366.65" y="229.84" width="4.14" height="4.14" fill="#cfcfcf" shape-rendering="crispEdges"/>
<rect x="370.79" y="229.84" width="4.14" height="4.14" fill="#dce2a2" shape-rendering="crispEdges"/>
<rect x="374.93" y="229.84" width="4.14" height="4.14" fill="#e4e4e2" shape-rendering="crispEdges"/>
<rect x="379.06" y="229.84" width="4.14" height="4.14" fill="#d4dc5a" shape-rendering="crispEdges"/>
<rect x="383.20" y="229.84" width="4.14" height="4.14" fill="#cfcfcf" shape-rendering="crispEdges"/>
<rect x="387.34" y="229.84" width="4.14" height="4.14" fill="#dce2a2" shape-rendering="crispEdges"/>
<rect x="391.48" y="229.84" width="4.14" height="4.14" fill="#d4dc5a" shape-rendering="crispEdges"/>
<rect x="395.61" y="229.84" width="4.14" height="4.14" fill="#d4dc5a" shape-rendering="crispEdges"/>
<rect x="399.75" y="229.84" width="4.14" height="4.14" fill="#dce2a2" shape-rendering="crispEdges"/>
<rect x="403.89" y="229.84" width="4.14" height="4.14" fill="#dce2a2" shape-rendering="crispEdges"/>
<rect x="408.03" y="229.84" width="4.14" height="4.14" fill="#bdbdbd" shape-rendering="crispEdges"/>
<rect x="412.16" y="229.84" width="5.64" height="4.14" fill="#dce2a2" shape-rendering="crispEdges"/>
<rect x="348.60" y="233.97" width="5.64" height="4.14" fill="#cfcfcf" shape-rendering="crispEdges"/>
<rect x="354.24" y="233.97" width="4.14" height="4.14" fill="#cfcfcf" shape-rendering="crispEdges"/>
<rect x="358.38" y="233.97" width="4.14" height="4.14" fill="#dce2a2" shape-rendering="crispEdges"/>
<rect x="362.51" y="233.97" width="4.14" height="4.14" fill="#e4e4e2" shape-rendering="crispEdges"/>
<rect x="366.65" y="233.97" width="4.14" height="4.14" fill="#d4dc5a" shape-rendering="crispEdges"/>
<rect x="370.79" y="233.97" width="4.14" height="4.14" fill="#e4e4e2" shape-rendering="crispEdges"/>
<rect x="374.93" y="233.97" width="4.14" height="4.14" fill="#e4e4e2" shape-rendering="crispEdges"/>
<rect x="379.06" y="233.97" width="4.14" height="4.14" fill="#e4e4e2" shape-rendering="crispEdges"/>
<rect x="383.20" y="233.97" width="4.14" height="4.14" fill="#cfcfcf" shape-rendering="crispEdges"/>
<rect x="387.34" y="233.97" width="4.14" height="4.14" fill="#dce2a2" shape-rendering="crispEdges"/>
<rect x="391.48" y="233.97" width="4.14" height="4.14" fill="#cfcfcf" shape-rendering="crispEdges"/>
<rect x="395.61" y="233.97" width="4.14" height="4.14" fill="#e4e4e2" shape-rendering="crispEdges"/>
<rect x="399.75" y="233.97" width="4.14" height="4.14" fill="#cfcfcf" shape-rendering="crispEdges"/>
<rect x="403.89" y="233.97" width="4.14" height="4.14" fill="#cfcfcf" shape-rendering="crispEdges"/>
<rect x="408.03" y="233.97" width="4.14" height="4.14" fill="#dce2a2" shape-rendering="crispEdges"/>
<rect x="412.16" y="233.97" width="5.64" height="4.14" fill="#bdbdbd" shape-rendering="crispEdges"/>
<rect x="348.60" y="238.11" width="5.64" height="4.14" fill="#cfcfcf" shape-rendering="crispEdges"/>
<rect x="354.24" y="238.11" width="4.14" height="4.14" fill="#e4e4e2" shape-rendering="crispEdges"/>
<rect x="358.38" y="238.11" width="4.14" height="4.14" fill="#cfcfcf" shape-rendering="crispEdges"/>
<rect x="362.51" y="238.11" width="4.14" height="4.14" fill="#dce2a2" shape-rendering="crispEdges"/>
<rect x="366.65" y="238.11" width="4.14" height="4.14" fill="#e4e4e2" shape-rendering="crispEdges"/>
<rect x="370.79" y="238.11" width="4.14" height="4.14" fill="#e4e4e2" shape-rendering="crispEdges"/>
<rect x="374.93" y="238.11" width="4.14" height="4.14" fill="#dce2a2" shape-rendering="crispEdges"/>
<rect x="379.06" y="238.11" width="4.14" height="4.14" fill="#e4e4e2" shape-rendering="crispEdges"/>
<rect x="383.20" y="238.11" width="4.14" height="4.14" fill="#dce2a2" shape-rendering="crispEdges"/>
<rect x="387.34" y="238.11" width="4.14" height="4.14" fill="#e4e4e2" shape-rendering="crispEdges"/>
<rect x="391.48" y="238.11" width="4.14" height="4.14" fill="#dce2a2" shape-rendering="crispEdges"/>
<rect x="395.61" y="238.11" width="4.14" height="4.14" fill="#cfcfcf" shape-rendering="crispEdges"/>
<rect x="399.75" y="238.11" width="4.14" height="4.14" fill="#cfcfcf" shape-rendering="crispEdges"/>
<rect x="403.89" y="238.11" width="4.14" height="4.14" fill="#bdbdbd" shape-rendering="crispEdges"/>
<rect x="408.03" y="238.11" width="4.14" height="4.14" fill="#cfcfcf" shape-rendering="crispEdges"/>
<rect x="412.16" y="238.11" width="5.64" height="4.14" fill="#dce2a2" shape-rendering="crispEdges"/>
<rect x="348.60" y="242.25" width="5.64" height="4.14" fill="#dce2a2" shape-rendering="crispEdges"/>
<rect x="354.24" y="242.25" width="4.14" height="4.14" fill="#cfcfcf" shape-rendering="crispEdges"/>
<rect x="358.38" y="242.25" width="4.14" height="4.14" fill="#dce2a2" shape-rendering="crispEdges"/>
<rect x="362.51" y="242.25" width="4.14" height="4.14" fill="#bdbdbd" shape-rendering="crispEdges"/>
<rect x="366.65" y="242.25" width="4.14" height="4.14" fill="#dce2a2" shape-rendering="crispEdges"/>
<rect x="370.79" y="242.25" width="4.14" height="4.14" fill="#e4e4e2" shape-rendering="crispEdges"/>
<rect x="374.93" y="242.25" width="4.14" height="4.14" fill="#cfcfcf" shape-rendering="crispEdges"/>
<rect x="379.06" y="242.25" width="4.14" height="4.14" fill="#dce2a2" shape-rendering="crispEdges"/>
<rect x="383.20" y="242.25" width="4.14" height="4.14" fill="#cfcfcf" shape-rendering="crispEdges"/>
<rect x="387.34" y="242.25" width="4.14" height="4.14" fill="#e4e4e2" shape-rendering="crispEdges"/>
<rect x="391.48" y="242.25" width="4.14" height="4.14" fill="#cfcfcf" shape-rendering="crispEdges"/>
<rect x="395.61" y="242.25" width="4.14" height="4.14" fill="#e4e4e2" shape-rendering="crispEdges"/>
<rect x="399.75" y="242.25" width="4.14" height="4.14" fill="#d4dc5a" shape-rendering="crispEdges"/>
<rect x="403.89" y="242.25" width="4.14" height="4.14" fill="#bdbdbd" shape-rendering="crispEdges"/>
<rect x="408.03" y="242.25" width="4.14" height="4.14" fill="#dce2a2" shape-rendering="crispEdges"/>
<rect x="412.16" y="242.25" width="5.64" height="4.14" fill="#cfcfcf" shape-rendering="crispEdges"/>
<rect x="348.60" y="246.39" width="5.64" height="4.14" fill="#bdbdbd" shape-rendering="crispEdges"/>
<rect x="354.24" y="246.39" width="4.14" height="4.14" fill="#cfcfcf" shape-rendering="crispEdges"/>
<rect x="358.38" y="246.39" width="4.14" height="4.14" fill="#cfcfcf" shape-rendering="crispEdges"/>
<rect x="362.51" y="246.39" width="4.14" height="4.14" fill="#e4e4e2" shape-rendering="crispEdges"/>
<rect x="366.65" y="246.39" width="4.14" height="4.14" fill="#d4dc5a" shape-rendering="crispEdges"/>
<rect x="370.79" y="246.39" width="4.14" height="4.14" fill="#e4e4e2" shape-rendering="crispEdges"/>
<rect x="374.93" y="246.39" width="4.14" height="4.14" fill="#e4e4e2" shape-rendering="crispEdges"/>
<rect x="379.06" y="246.39" width="4.14" height="4.14" fill="#cfcfcf" shape-rendering="crispEdges"/>
<rect x="383.20" y="246.39" width="4.14" height="4.14" fill="#dce2a2" shape-rendering="crispEdges"/>
<rect x="387.34" y="246.39" width="4.14" height="4.14" fill="#e4e4e2" shape-rendering="crispEdges"/>
<rect x="391.48" y="246.39" width="4.14" height="4.14" fill="#bdbdbd" shape-rendering="crispEdges"/>
<rect x="395.61" y="246.39" width="4.14" height="4.14" fill="#cfcfcf" shape-rendering="crispEdges"/>
<rect x="399.75" y="246.39" width="4.14" height="4.14" fill="#bdbdbd" shape-rendering="crispEdges"/>
<rect x="403.89" y="246.39" width="4.14" height="4.14" fill="#cfcfcf" shape-rendering="crispEdges"/>
<rect x="408.03" y="246.39" width="4.14" height="4.14" fill="#e4e4e2" shape-rendering="crispEdges"/>
<rect x="412.16" y="246.39" width="5.64" height="4.14" fill="#dce2a2" shape-rendering="crispEdges"/>
<rect x="348.60" y="250.52" width="5.64" height="4.14" fill="#dce2a2" shape-rendering="crispEdges"/>
<rect x="354.24" y="250.52" width="4.14" height="4.14" fill="#d4dc5a" shape-rendering="crispEdges"/>
<rect x="358.38" y="250.52" width="4.14" height="4.14" fill="#e4e4e2" shape-rendering="crispEdges"/>
<rect x="362.51" y="250.52" width="4.14" height="4.14" fill="#dce2a2" shape-rendering="crispEdges"/>
<rect x="366.65" y="250.52" width="4.14" height="4.14" fill="#cfcfcf" shape-rendering="crispEdges"/>
<rect x="370.79" y="250.52" width="4.14" height="4.14" fill="#dce2a2" shape-rendering="crispEdges"/>
<rect x="374.93" y="250.52" width="4.14" height="4.14" fill="#dce2a2" shape-rendering="crispEdges"/>
<rect x="379.06" y="250.52" width="4.14" height="4.14" fill="#e4e4e2" shape-rendering="crispEdges"/>
<rect x="383.20" y="250.52" width="4.14" height="4.14" fill="#dce2a2" shape-rendering="crispEdges"/>
<rect x="387.34" y="250.52" width="4.14" height="4.14" fill="#e4e4e2" shape-rendering="crispEdges"/>
<rect x="391.48" y="250.52" width="4.14" height="4.14" fill="#cfcfcf" shape-rendering="crispEdges"/>
<rect x="395.61" y="250.52" width="4.14" height="4.14" fill="#bdbdbd" shape-rendering="crispEdges"/>
<rect x="399.75" y="250.52" width="4.14" height="4.14" fill="#bdbdbd" shape-rendering="crispEdges"/>
<rect x="403.89" y="250.52" width="4.14" height="4.14" fill="#cfcfcf" shape-rendering="crispEdges"/>
<rect x="408.03" y="250.52" width="4.14" height="4.14" fill="#cfcfcf" shape-rendering="crispEdges"/>
<rect x="412.16" y="250.52" width="5.64" height="4.14" fill="#cfcfcf" shape-rendering="crispEdges"/>
<rect x="348.60" y="254.66" width="5.64" height="4.14" fill="#cfcfcf" shape-rendering="crispEdges"/>
<rect x="354.24" y="254.66" width="4.14" height="4.14" fill="#dce2a2" shape-rendering="crispEdges"/>
<rect x="358.38" y="254.66" width="4.14" height="4.14" fill="#cfcfcf" shape-rendering="crispEdges"/>
<rect x="362.51" y="254.66" width="4.14" height="4.14" fill="#dce2a2" shape-rendering="crispEdges"/>
<rect x="366.65" y="254.66" width="4.14" height="4.14" fill="#dce2a2" shape-rendering="crispEdges"/>
<rect x="370.79" y="254.66" width="4.14" height="4.14" fill="#dce2a2" shape-rendering="crispEdges"/>
<rect x="374.93" y="254.66" width="4.14" height="4.14" fill="#cfcfcf" shape-rendering="crispEdges"/>
<rect x="379.06" y="254.66" width="4.14" height="4.14" fill="#d4dc5a" shape-rendering="crispEdges"/>
<rect x="383.20" y="254.66" width="4.14" height="4.14" fill="#e4e4e2" shape-rendering="crispEdges"/>
<rect x="387.34" y="254.66" width="4.14" height="4.14" fill="#cfcfcf" shape-rendering="crispEdges"/>
<rect x="391.48" y="254.66" width="4.14" height="4.14" fill="#dce2a2" shape-rendering="crispEdges"/>
<rect x="395.61" y="254.66" width="4.14" height="4.14" fill="#dce2a2" shape-rendering="crispEdges"/>
<rect x="399.75" y="254.66" width="4.14" height="4.14" fill="#bdbdbd" shape-rendering="crispEdges"/>
<rect x="403.89" y="254.66" width="4.14" height="4.14" fill="#bdbdbd" shape-rendering="crispEdges"/>
<rect x="408.03" y="254.66" width="4.14" height="4.14" fill="#cfcfcf" shape-rendering="crispEdges"/>
<rect x="412.16" y="254.66" width="5.64" height="4.14" fill="#cfcfcf" shape-rendering="crispEdges"/>
<rect x="348.60" y="258.80" width="5.64" height="4.14" fill="#dce2a2" shape-rendering="crispEdges"/>
<rect x="354.24" y="258.80" width="4.14" height="4.14" fill="#cfcfcf" shape-rendering="crispEdges"/>
<rect x="358.38" y="258.80" width="4.14" height="4.14" fill="#dce2a2" shape-rendering="crispEdges"/>
<rect x="362.51" y="258.80" width="4.14" height="4.14" fill="#dce2a2" shape-rendering="crispEdges"/>
<rect x="366.65" y="258.80" width="4.14" height="4.14" fill="#d4dc5a" shape-rendering="crispEdges"/>
<rect x="370.79" y="258.80" width="4.14" height="4.14" fill="#d4dc5a" shape-rendering="crispEdges"/>
<rect x="374.93" y="258.80" width="4.14" height="4.14" fill="#cfcfcf" shape-rendering="crispEdges"/>
<rect x="379.06" y="258.80" width="4.14" height="4.14" fill="#cfcfcf" shape-rendering="crispEdges"/>
<rect x="383.20" y="258.80" width="4.14" height="4.14" fill="#d4dc5a" shape-rendering="crispEdges"/>
<rect x="387.34" y="258.80" width="4.14" height="4.14" fill="#cfcfcf" shape-rendering="crispEdges"/>
<rect x="391.48" y="258.80" width="4.14" height="4.14" fill="#dce2a2" shape-rendering="crispEdges"/>
<rect x="395.61" y="258.80" width="4.14" height="4.14" fill="#bdbdbd" shape-rendering="crispEdges"/>
<rect x="399.75" y="258.80" width="4.14" height="4.14" fill="#cfcfcf" shape-rendering="crispEdges"/>
<rect x="403.89" y="258.80" width="4.14" height="4.14" fill="#cfcfcf" shape-rendering="crispEdges"/>
<rect x="408.03" y="258.80" width="4.14" height="4.14" fill="#cfcfcf" shape-rendering="crispEdges"/>
<rect x="412.16" y="258.80" width="5.64" height="4.14" fill="#bdbdbd" shape-rendering="crispEdges"/>
<rect x="348.60" y="262.94" width="5.64" height="4.14" fill="#dce2a2" shape-rendering="crispEdges"/>
<rect x="354.24" y="262.94" width="4.14" height="4.14" fill="#e4e4e2" shape-rendering="crispEdges"/>
<rect x="358.38" y="262.94" width="4.14" height="4.14" fill="#dce2a2" shape-rendering="crispEdges"/>
<rect x="362.51" y="262.94" width="4.14" height="4.14" fill="#dce2a2" shape-rendering="crispEdges"/>
<rect x="366.65" y="262.94" width="4.14" height="4.14" fill="#dce2a2" shape-rendering="crispEdges"/>
<rect x="370.79" y="262.94" width="4.14" height="4.14" fill="#dce2a2" shape-rendering="crispEdges"/>
<rect x="374.93" y="262.94" width="4.14" height="4.14" fill="#d4dc5a" shape-rendering="crispEdges"/>
<rect x="379.06" y="262.94" width="4.14" height="4.14" fill="#cfcfcf" shape-rendering="crispEdges"/>
<rect x="383.20" y="262.94" width="4.14" height="4.14" fill="#dce2a2" shape-rendering="crispEdges"/>
<rect x="387.34" y="262.94" width="4.14" height="4.14" fill="#dce2a2" shape-rendering="crispEdges"/>
<rect x="391.48" y="262.94" width="4.14" height="4.14" fill="#dce2a2" shape-rendering="crispEdges"/>
<rect x="395.61" y="262.94" width="4.14" height="4.14" fill="#cfcfcf" shape-rendering="crispEdges"/>
<rect x="399.75" y="262.94" width="4.14" height="4.14" fill="#bdbdbd" shape-rendering="crispEdges"/>
<rect x="403.89" y="262.94" width="4.14" height="4.14" fill="#dce2a2" shape-rendering="crispEdges"/>
<rect x="408.03" y="262.94" width="4.14" height="4.14" fill="#bdbdbd" shape-rendering="crispEdges"/>
<rect x="412.16" y="262.94" width="5.64" height="4.14" fill="#dce2a2" shape-rendering="crispEdges"/>
<rect x="348.60" y="267.07" width="5.64" height="4.14" fill="#dce2a2" shape-rendering="crispEdges"/>
<rect x="354.24" y="267.07" width="4.14" height="4.14" fill="#d4dc5a" shape-rendering="crispEdges"/>
<rect x="358.38" y="267.07" width="4.14" height="4.14" fill="#dce2a2" shape-rendering="crispEdges"/>
<rect x="362.51" y="267.07" width="4.14" height="4.14" fill="#d4dc5a" shape-rendering="crispEdges"/>
<rect x="366.65" y="267.07" width="4.14" height="4.14" fill="#cfcfcf" shape-rendering="crispEdges"/>
<rect x="370.79" y="267.07" width="4.14" height="4.14" fill="#cfcfcf" shape-rendering="crispEdges"/>
<rect x="374.93" y="267.07" width="4.14" height="4.14" fill="#dce2a2" shape-rendering="crispEdges"/>
<rect x="379.06" y="267.07" width="4.14" height="4.14" fill="#cfcfcf" shape-rendering="crispEdges"/>
<rect x="383.20" y="267.07" width="4.14" height="4.14" fill="#bdbdbd" shape-rendering="crispEdges"/>
<rect x="387.34" y="267.07" width="4.14" height="4.14" fill="#dce2a2" shape-rendering="crispEdges"/>
<rect x="391.48" y="267.07" width="4.14" height="4.14" fill="#e4e4e2" shape-rendering="crispEdges"/>
<rect x="395.61" y="267.07" width="4.14" height="4.14" fill="#cfcfcf" shape-rendering="crispEdges"/>
<rect x="399.75" y="267.07" width="4.14" height="4.14" fill="#bdbdbd" shape-rendering="crispEdges"/>
<rect x="403.89" y="267.07" width="4.14" height="4.14" fill="#cfcfcf" shape-rendering="crispEdges"/>
<rect x="408.03" y="267.07" width="4.14" height="4.14" fill="#bdbdbd" shape-rendering="crispEdges"/>
<rect x="412.16" y="267.07" width="5.64" height="4.14" fill="#cfcfcf" shape-rendering="crispEdges"/>
<rect x="348.60" y="271.21" width="5.64" height="4.14" fill="#cfcfcf" shape-rendering="crispEdges"/>
<rect x="354.24" y="271.21" width="4.14" height="4.14" fill="#dce2a2" shape-rendering="crispEdges"/>
<rect x="358.38" y="271.21" width="4.14" height="4.14" fill="#dce2a2" shape-rendering="crispEdges"/>
<rect x="362.51" y="271.21" width="4.14" height="4.14" fill="#dce2a2" shape-rendering="crispEdges"/>
<rect x="366.65" y="271.21" width="4.14" height="4.14" fill="#d4dc5a" shape-rendering="crispEdges"/>
<rect x="370.79" y="271.21" width="4.14" height="4.14" fill="#dce2a2" shape-rendering="crispEdges"/>
<rect x="374.93" y="271.21" width="4.14" height="4.14" fill="#d4dc5a" shape-rendering="crispEdges"/>
<rect x="379.06" y="271.21" width="4.14" height="4.14" fill="#dce2a2" shape-rendering="crispEdges"/>
<rect x="383.20" y="271.21" width="4.14" height="4.14" fill="#bdbdbd" shape-rendering="crispEdges"/>
<rect x="387.34" y="271.21" width="4.14" height="4.14" fill="#bdbdbd" shape-rendering="crispEdges"/>
<rect x="391.48" y="271.21" width="4.14" height="4.14" fill="#d4dc5a" shape-rendering="crispEdges"/>
<rect x="395.61" y="271.21" width="4.14" height="4.14" fill="#cfcfcf" shape-rendering="crispEdges"/>
<rect x="399.75" y="271.21" width="4.14" height="4.14" fill="#dce2a2" shape-rendering="crispEdges"/>
<rect x="403.89" y="271.21" width="4.14" height="4.14" fill="#bdbdbd" shape-rendering="crispEdges"/>
<rect x="408.03" y="271.21" width="4.14" height="4.14" fill="#cfcfcf" shape-rendering="crispEdges"/>
<rect x="412.16" y="271.21" width="5.64" height="4.14" fill="#e4e4e2" shape-rendering="crispEdges"/>
<rect x="348.60" y="275.35" width="5.64" height="4.14" fill="#dce2a2" shape-rendering="crispEdges"/>
<rect x="354.24" y="275.35" width="4.14" height="4.14" fill="#cfcfcf" shape-rendering="crispEdges"/>
<rect x="358.38" y="275.35" width="4.14" height="4.14" fill="#dce2a2" shape-rendering="crispEdges"/>
<rect x="362.51" y="275.35" width="4.14" height="4.14" fill="#dce2a2" shape-rendering="crispEdges"/>
<rect x="366.65" y="275.35" width="4.14" height="4.14" fill="#d4dc5a" shape-rendering="crispEdges"/>
<rect x="370.79" y="275.35" width="4.14" height="4.14" fill="#cfcfcf" shape-rendering="crispEdges"/>
<rect x="374.93" y="275.35" width="4.14" height="4.14" fill="#d4dc5a" shape-rendering="crispEdges"/>
<rect x="379.06" y="275.35" width="4.14" height="4.14" fill="#cfcfcf" shape-rendering="crispEdges"/>
<rect x="383.20" y="275.35" width="4.14" height="4.14" fill="#dce2a2" shape-rendering="crispEdges"/>
<rect x="387.34" y="275.35" width="4.14" height="4.14" fill="#cfcfcf" shape-rendering="crispEdges"/>
<rect x="391.48" y="275.35" width="4.14" height="4.14" fill="#e4e4e2" shape-rendering="crispEdges"/>
<rect x="395.61" y="275.35" width="4.14" height="4.14" fill="#dce2a2" shape-rendering="crispEdges"/>
<rect x="399.75" y="275.35" width="4.14" height="4.14" fill="#cfcfcf" shape-rendering="crispEdges"/>
<rect x="403.89" y="275.35" width="4.14" height="4.14" fill="#bdbdbd" shape-rendering="crispEdges"/>
<rect x="408.03" y="275.35" width="4.14" height="4.14" fill="#cfcfcf" shape-rendering="crispEdges"/>
<rect x="412.16" y="275.35" width="5.64" height="4.14" fill="#bdbdbd" shape-rendering="crispEdges"/>
<rect x="348.60" y="279.49" width="5.64" height="4.14" fill="#cfcfcf" shape-rendering="crispEdges"/>
<rect x="354.24" y="279.49" width="4.14" height="4.14" fill="#d4dc5a" shape-rendering="crispEdges"/>
<rect x="358.38" y="279.49" width="4.14" height="4.14" fill="#d4dc5a" shape-rendering="crispEdges"/>
<rect x="362.51" y="279.49" width="4.14" height="4.14" fill="#dce2a2" shape-rendering="crispEdges"/>
<rect x="366.65" y="279.49" width="4.14" height="4.14" fill="#dce2a2" shape-rendering="crispEdges"/>
<rect x="370.79" y="279.49" width="4.14" height="4.14" fill="#cfcfcf" shape-rendering="crispEdges"/>
<rect x="374.93" y="279.49" width="4.14" height="4.14" fill="#dce2a2" shape-rendering="crispEdges"/>
<rect x="379.06" y="279.49" width="4.14" height="4.14" fill="#dce2a2" shape-rendering="crispEdges"/>
<rect x="383.20" y="279.49" width="4.14" height="4.14" fill="#dce2a2" shape-rendering="crispEdges"/>
<rect x="387.34" y="279.49" width="4.14" height="4.14" fill="#d4dc5a" shape-rendering="crispEdges"/>
<rect x="391.48" y="279.49" width="4.14" height="4.14" fill="#cfcfcf" shape-rendering="crispEdges"/>
<rect x="395.61" y="279.49" width="4.14" height="4.14" fill="#cfcfcf" shape-rendering="crispEdges"/>
<rect x="399.75" y="279.49" width="4.14" height="4.14" fill="#cfcfcf" shape-rendering="crispEdges"/>
<rect x="403.89" y="279.49" width="4.14" height="4.14" fill="#bdbdbd" shape-rendering="crispEdges"/>
<rect x="408.03" y="279.49" width="4.14" height="4.14" fill="#dce2a2" shape-rendering="crispEdges"/>
<rect x="412.16" y="279.49" width="5.64" height="4.14" fill="#cfcfcf" shape-rendering="crispEdges"/>
<rect x="348.60" y="283.62" width="5.64" height="4.14" fill="#cfcfcf" shape-rendering="crispEdges"/>
<rect x="354.24" y="283.62" width="4.14" height="4.14" fill="#cfcfcf" shape-rendering="crispEdges"/>
<rect x="358.38" y="283.62" width="4.14" height="4.14" fill="#cfcfcf" shape-rendering="crispEdges"/>
<rect x="362.51" y="283.62" width="4.14" height="4.14" fill="#dce2a2" shape-rendering="crispEdges"/>
<rect x="366.65" y="283.62" width="4.14" height="4.14" fill="#d4dc5a" shape-rendering="crispEdges"/>
<rect x="370.79" y="283.62" width="4.14" height="4.14" fill="#dce2a2" shape-rendering="crispEdges"/>
<rect x="374.93" y="283.62" width="4.14" height="4.14" fill="#cfcfcf" shape-rendering="crispEdges"/>
<rect x="379.06" y="283.62" width="4.14" height="4.14" fill="#dce2a2" shape-rendering="crispEdges"/>
<rect x="383.20" y="283.62" width="4.14" height="4.14" fill="#dce2a2" shape-rendering="crispEdges"/>
<rect x="387.34" y="283.62" width="4.14" height="4.14" fill="#dce2a2" shape-rendering="crispEdges"/>
<rect x="391.48" y="283.62" width="4.14" height="4.14" fill="#cfcfcf" shape-rendering="crispEdges"/>
<rect x="395.61" y="283.62" width="4.14" height="4.14" fill="#dce2a2" shape-rendering="crispEdges"/>
<rect x="399.75" y="283.62" width="4.14" height="4.14" fill="#bdbdbd" shape-rendering="crispEdges"/>
<rect x="403.89" y="283.62" width="4.14" height="4.14" fill="#cfcfcf" shape-rendering="crispEdges"/>
<rect x="408.03" y="283.62" width="4.14" height="4.14" fill="#dce2a2" shape-rendering="crispEdges"/>
<rect x="412.16" y="283.62" width="5.64" height="4.14" fill="#cfcfcf" shape-rendering="crispEdges"/>
<rect x="348.60" y="287.76" width="5.64" height="5.64" fill="#cfcfcf" shape-rendering="crispEdges"/>
<rect x="354.24" y="287.76" width="4.14" height="5.64" fill="#d4dc5a" shape-rendering="crispEdges"/>
<rect x="358.38" y="287.76" width="4.14" height="5.64" fill="#dce2a2" shape-rendering="crispEdges"/>
<rect x="362.51" y="287.76" width="4.14" height="5.64" fill="#dce2a2" shape-rendering="crispEdges"/>
<rect x="366.65" y="287.76" width="4.14" height="5.64" fill="#cfcfcf" shape-rendering="crispEdges"/>
<rect x="370.79" y="287.76" width="4.14" height="5.64" fill="#cfcfcf" shape-rendering="crispEdges"/>
<rect x="374.93" y="287.76" width="4.14" height="5.64" fill="#dce2a2" shape-rendering="crispEdges"/>
<rect x="379.06" y="287.76" width="4.14" height="5.64" fill="#dce2a2" shape-rendering="crispEdges"/>
<rect x="383.20" y="287.76" width="4.14" height="5.64" fill="#cfcfcf" shape-rendering="crispEdges"/>
<rect x="387.34" y="287.76" width="4.14" height="5.64" fill="#cfcfcf" shape-rendering="crispEdges"/>
<rect x="391.48" y="287.76" width="4.14" height="5.64" fill="#dce2a2" shape-rendering="crispEdges"/>
<rect x="395.61" y="287.76" width="4.14" height="5.64" fill="#cfcfcf" shape-rendering="crispEdges"/>
<rect x="399.75" y="287.76" width="4.14" height="5.64" fill="#cfcfcf" shape-rendering="crispEdges"/>
<rect x="403.89" y="287.76" width="4.14" height="5.64" fill="#bdbdbd" shape-rendering="crispEdges"/>
<rect x="408.03" y="287.76" width="4.14" height="5.64" fill="#cfcfcf" shape-rendering="crispEdges"/>
<rect x="412.16" y="287.76" width="5.64" height="5.64" fill="#cfcfcf" shape-rendering="crispEdges"/>
</g></g>
<text transform="translate(166.20,130.35) rotate(-90)" x="0" y="0" font-size="9.6" fill="#d95a2b" font-weight="bold" textLength="39.69" lengthAdjust="spacingAndGlyphs">Omission</text>
<text transform="translate(176.00,132.17) rotate(-90)" x="0" y="0" font-size="9.6" fill="#d95a2b" font-weight="bold" textLength="42.08" lengthAdjust="spacingAndGlyphs">Response</text>
<text transform="translate(166.30,277.95) rotate(-90)" x="0" y="0" font-size="9.6" fill="#3b78c4" font-weight="bold" textLength="35.78" lengthAdjust="spacingAndGlyphs">Standard</text>
<text transform="translate(176.00,280.35) rotate(-90)" x="0" y="0" font-size="9.6" fill="#3b78c4" font-weight="bold" textLength="40.54" lengthAdjust="spacingAndGlyphs">Response</text>
<defs><filter id="hz" x="-50%" y="-50%" width="200%" height="200%"><feGaussianBlur stdDeviation="6"/></filter></defs>
<g clip-path="url(#hc4)"><ellipse cx="214" cy="262" rx="22" ry="12" fill="#fff" opacity="0.28" filter="url(#hz)"/></g>
<g clip-path="url(#hc5)"><ellipse cx="285" cy="236" rx="18" ry="9" fill="#fff" opacity="0.3" filter="url(#hz)"/></g>
<g clip-path="url(#hc6)"><ellipse cx="382" cy="238" rx="22" ry="10" fill="#fff" opacity="0.3" filter="url(#hz)"/></g>
<g clip-path="url(#hc4)"><ellipse cx="200" cy="238" rx="14" ry="8" fill="#fff" opacity="0.15" filter="url(#hz)"/></g>
<defs><linearGradient id="cmap" x1="0" y1="1" x2="0" y2="0">
<stop offset="0" stop-color="#c6c6c6"/>
<stop offset="0.15" stop-color="#ececec"/>
<stop offset="0.25" stop-color="#f6f6f2"/>
<stop offset="0.4" stop-color="#f4f4b4"/>
<stop offset="0.55" stop-color="#f0f034"/>
<stop offset="0.7" stop-color="#f0ae2a"/>
<stop offset="0.85" stop-color="#ee6420"/>
<stop offset="1" stop-color="#ec2c16"/>
</linearGradient></defs>
<rect x="423.8" y="77.7" width="9.2" height="68.3" fill="url(#cmap)" stroke="#555" stroke-width="0.6"/>
<line x1="431.8" y1="77.7" x2="433" y2="77.7" stroke="#555" stroke-width="0.5"/>
<text x="437.6" y="80.9" font-size="9" fill="#222" font-weight="normal" text-anchor="start" >8</text>
<line x1="431.8" y1="91.4" x2="433" y2="91.4" stroke="#555" stroke-width="0.5"/>
<text x="437.6" y="94.56" font-size="9" fill="#222" font-weight="normal" text-anchor="start" >6</text>
<line x1="431.8" y1="105.0" x2="433" y2="105.0" stroke="#555" stroke-width="0.5"/>
<text x="437.6" y="108.22000000000001" font-size="9" fill="#222" font-weight="normal" text-anchor="start" >4</text>
<line x1="431.8" y1="118.7" x2="433" y2="118.7" stroke="#555" stroke-width="0.5"/>
<text x="437.6" y="121.88000000000001" font-size="9" fill="#222" font-weight="normal" text-anchor="start" >2</text>
<line x1="431.8" y1="132.3" x2="433" y2="132.3" stroke="#555" stroke-width="0.5"/>
<text x="437.6" y="135.54" font-size="9" fill="#222" font-weight="normal" text-anchor="start" >0</text>
<line x1="431.8" y1="146.0" x2="433" y2="146.0" stroke="#555" stroke-width="0.5"/>
<text x="437.6" y="149.2" font-size="9" fill="#222" font-weight="normal" text-anchor="start" >-2</text>
<text transform="translate(452.9,132.3) rotate(-90)" x="0" y="0" font-size="9.6" fill="#222">&#916;F/F<tspan font-size="7.2" dy="2.6">0</tspan><tspan dy="-5.6" dx="1.2">(%)</tspan></text>
<rect x="423.8" y="224.6" width="9.2" height="67.2" fill="url(#cmap)" stroke="#555" stroke-width="0.6"/>
<line x1="431.8" y1="224.6" x2="433" y2="224.6" stroke="#555" stroke-width="0.5"/>
<text x="437.6" y="227.79999999999998" font-size="9" fill="#222" font-weight="normal" text-anchor="start" >8</text>
<line x1="431.8" y1="238.0" x2="433" y2="238.0" stroke="#555" stroke-width="0.5"/>
<text x="437.6" y="241.23999999999998" font-size="9" fill="#222" font-weight="normal" text-anchor="start" >6</text>
<line x1="431.8" y1="251.5" x2="433" y2="251.5" stroke="#555" stroke-width="0.5"/>
<text x="437.6" y="254.67999999999998" font-size="9" fill="#222" font-weight="normal" text-anchor="start" >4</text>
<line x1="431.8" y1="264.9" x2="433" y2="264.9" stroke="#555" stroke-width="0.5"/>
<text x="437.6" y="268.12" font-size="9" fill="#222" font-weight="normal" text-anchor="start" >2</text>
<line x1="431.8" y1="278.4" x2="433" y2="278.4" stroke="#555" stroke-width="0.5"/>
<text x="437.6" y="281.56" font-size="9" fill="#222" font-weight="normal" text-anchor="start" >0</text>
<line x1="431.8" y1="291.8" x2="433" y2="291.8" stroke="#555" stroke-width="0.5"/>
<text x="437.6" y="295.0" font-size="9" fill="#222" font-weight="normal" text-anchor="start" >-2</text>
<text transform="translate(452.9,279.2) rotate(-90)" x="0" y="0" font-size="9.6" fill="#222">&#916;F/F<tspan font-size="7.2" dy="2.6">0</tspan><tspan dy="-5.6" dx="1.2">(%)</tspan></text>
<line x1="403.2" y1="299.5" x2="416.7" y2="299.5" stroke="#000" stroke-width="2"/>
<text x="400.42" y="308.80" font-size="6.2" fill="#000" font-weight="normal" textLength="19.68" lengthAdjust="spacingAndGlyphs">100<tspan font-style="italic">&#956;</tspan>m</text>
<text x="458.97" y="11.40" font-size="15.2" fill="#000" font-weight="normal" textLength="10.58" lengthAdjust="spacingAndGlyphs">C</text>
<text x="517.49" y="9.70" font-size="9.6" fill="#ff2020" font-weight="bold" textLength="22.84" lengthAdjust="spacingAndGlyphs">ORR</text>
<text x="563.45" y="11.40" font-size="15.2" fill="#000" font-weight="normal" textLength="11.29" lengthAdjust="spacingAndGlyphs">D</text>
<text x="611.83" y="9.70" font-size="9.6" fill="#2020ff" font-weight="bold" textLength="14.43" lengthAdjust="spacingAndGlyphs">PR</text>
<line x1="500.4" y1="21.8" x2="500.4" y2="292" stroke="#d0d0d0" stroke-width="1"/>
<polygon points="538.4,41.1 541.8,60.4 534.7,98.9 537.0,137.5 523.8,176.0 523.8,214.6 532.8,214.6 532.8,176.0 547.0,137.5 543.9,98.9 552.4,60.4 553.8,41.1" fill="#f3c8b2" opacity="0.75"/>
<polygon points="506.5,41.1 499.8,60.4 502.3,98.9 502.7,137.5 498.2,176.0 498.2,214.6 503.8,214.6 503.8,176.0 509.5,137.5 509.9,98.9 507.6,60.4 515.9,41.1" fill="#b8daf0" opacity="0.75"/>
<line x1="484.5" y1="21.8" x2="558.5" y2="21.8" stroke="#8e8e8e" stroke-width="1.3" stroke-dasharray="6,5.6"/>
<line x1="484.5" y1="51.9" x2="558.5" y2="51.9" stroke="#8e8e8e" stroke-width="1.3" stroke-dasharray="6,5.6"/>
<line x1="484.5" y1="110.9" x2="558.5" y2="110.9" stroke="#8e8e8e" stroke-width="1.3" stroke-dasharray="6,5.6"/>
<line x1="484.5" y1="167.2" x2="558.5" y2="167.2" stroke="#8e8e8e" stroke-width="1.3" stroke-dasharray="6,5.6"/>
<line x1="484.5" y1="278.2" x2="558.5" y2="278.2" stroke="#8e8e8e" stroke-width="1.3" stroke-dasharray="6,5.6"/>
<polyline points="546.1,41.1 547.1,60.4 539.3,98.9 542.0,137.5 528.3,176.0 528.3,214.6" stroke="#e0622a" stroke-width="1.3" fill="none"/>
<polyline points="511.2,41.1 503.7,60.4 506.1,98.9 506.1,137.5 501.0,176.0 501.0,214.6" stroke="#3a7bc8" stroke-width="1.3" fill="none"/>
<line x1="484.5" y1="21.8" x2="484.5" y2="292.5" stroke="#444" stroke-width="1"/>
<line x1="484.0" y1="292" x2="558.5" y2="292" stroke="#444" stroke-width="1"/>
<line x1="500.4" y1="292" x2="500.4" y2="289" stroke="#444" stroke-width="0.8"/>
<text x="500.7" y="300.4" font-size="6.8" fill="#222" font-weight="normal" text-anchor="middle" >0</text>
<line x1="523.8" y1="292" x2="523.8" y2="289" stroke="#444" stroke-width="0.8"/>
<text x="524.0999999999999" y="300.4" font-size="6.8" fill="#222" font-weight="normal" text-anchor="middle" >50</text>
<line x1="547.2" y1="292" x2="547.2" y2="289" stroke="#444" stroke-width="0.8"/>
<text x="547.4999999999999" y="300.4" font-size="6.8" fill="#222" font-weight="normal" text-anchor="middle" >100</text>
<line x1="519.3" y1="42" x2="519.3" y2="60.8" stroke="#2c5d9b" stroke-width="1.2"/>
<text transform="translate(517.6,51.0) rotate(90)" x="0" y="0" font-size="11" fill="#111" text-anchor="middle">***</text>
<line x1="558.3" y1="60.9" x2="558.3" y2="99.3" stroke="#a4422a" stroke-width="1.2"/>
<text transform="translate(557.2,79.9) rotate(90)" x="0" y="0" font-size="11" fill="#111" text-anchor="middle">***</text>
<line x1="514.7" y1="137.7" x2="514.7" y2="176.1" stroke="#2c5d9b" stroke-width="1.2"/>
<text transform="translate(512.6,156.8) rotate(90)" x="0" y="0" font-size="11" fill="#111" text-anchor="middle">***</text>
<line x1="554.1" y1="137.7" x2="554.1" y2="176.1" stroke="#a4422a" stroke-width="1.2"/>
<text transform="translate(552.2,156.8) rotate(90)" x="0" y="0" font-size="11" fill="#111" text-anchor="middle">***</text>
<line x1="596.4" y1="21.8" x2="596.4" y2="292" stroke="#d0d0d0" stroke-width="1"/>
<polygon points="604.5,41.1 595.9,60.4 586.5,98.9 594.0,137.5 600.0,176.0 598.1,214.6 606.5,214.6 610.0,176.0 604.0,137.5 597.5,98.9 606.9,60.4 616.5,41.1" fill="#f3c8b2" opacity="0.75"/>
<polygon points="594.2,41.1 595.2,60.4 603.9,98.9 600.0,137.5 600.5,176.0 601.4,214.6 608.6,214.6 608.5,176.0 608.4,137.5 613.1,98.9 604.4,60.4 604.2,41.1" fill="#b8daf0" opacity="0.75"/>
<line x1="580.4" y1="21.8" x2="655.5" y2="21.8" stroke="#8e8e8e" stroke-width="1.3" stroke-dasharray="6,5.6"/>
<line x1="580.4" y1="51.9" x2="655.5" y2="51.9" stroke="#8e8e8e" stroke-width="1.3" stroke-dasharray="6,5.6"/>
<line x1="580.4" y1="110.9" x2="655.5" y2="110.9" stroke="#8e8e8e" stroke-width="1.3" stroke-dasharray="6,5.6"/>
<line x1="580.4" y1="167.2" x2="655.5" y2="167.2" stroke="#8e8e8e" stroke-width="1.3" stroke-dasharray="6,5.6"/>
<line x1="580.4" y1="278.2" x2="655.5" y2="278.2" stroke="#8e8e8e" stroke-width="1.3" stroke-dasharray="6,5.6"/>
<polyline points="610.5,41.1 601.4,60.4 592.0,98.9 599.0,137.5 605.0,176.0 602.3,214.6" stroke="#e0622a" stroke-width="1.3" fill="none"/>
<polyline points="599.2,41.1 599.8,60.4 608.5,98.9 604.2,137.5 604.5,176.0 605.0,214.6" stroke="#3a7bc8" stroke-width="1.3" fill="none"/>
<line x1="580.4" y1="21.8" x2="580.4" y2="292.5" stroke="#444" stroke-width="1"/>
<line x1="579.9" y1="292" x2="654.4" y2="292" stroke="#444" stroke-width="1"/>
<line x1="596.4" y1="292" x2="596.4" y2="289" stroke="#444" stroke-width="0.8"/>
<text x="596.6999999999999" y="300.4" font-size="6.8" fill="#222" font-weight="normal" text-anchor="middle" >0</text>
<line x1="619.8" y1="292" x2="619.8" y2="289" stroke="#444" stroke-width="0.8"/>
<text x="620.0999999999999" y="300.4" font-size="6.8" fill="#222" font-weight="normal" text-anchor="middle" >50</text>
<line x1="643.2" y1="292" x2="643.2" y2="289" stroke="#444" stroke-width="0.8"/>
<text x="643.4999999999999" y="300.4" font-size="6.8" fill="#222" font-weight="normal" text-anchor="middle" >100</text>
<line x1="633.3" y1="41.5" x2="633.3" y2="59.3" stroke="#a4422a" stroke-width="1.2"/>
<text transform="translate(631.0,51.3) rotate(90)" x="0" y="0" font-size="11" fill="#111" text-anchor="middle">***</text>
<line x1="619.6" y1="61.1" x2="619.6" y2="99.1" stroke="#2c5d9b" stroke-width="1.2"/>
<text transform="translate(617.8,79.8) rotate(90)" x="0" y="0" font-size="11" fill="#111" text-anchor="middle">***</text>
<line x1="631.1" y1="61.1" x2="631.1" y2="98.4" stroke="#a4422a" stroke-width="1.2"/>
<text transform="translate(629.3,79.8) rotate(90)" x="0" y="0" font-size="11" fill="#111" text-anchor="middle">***</text>
<line x1="629" y1="99.4" x2="629" y2="137.4" stroke="#a4422a" stroke-width="1.2"/>
<text transform="translate(626.9,118.6) rotate(90)" x="0" y="0" font-size="11" fill="#111" text-anchor="middle">***</text>
<line x1="484.5" y1="21.8" x2="487.6" y2="21.8" stroke="#444" stroke-width="0.8"/>
<text x="483.3" y="24.5" font-size="7.2" fill="#222" font-weight="normal" text-anchor="end" >0</text>
<line x1="484.5" y1="60.4" x2="487.6" y2="60.4" stroke="#444" stroke-width="0.8"/>
<text x="483.3" y="63.06" font-size="7.2" fill="#222" font-weight="normal" text-anchor="end" >100</text>
<line x1="484.5" y1="98.9" x2="487.6" y2="98.9" stroke="#444" stroke-width="0.8"/>
<text x="483.3" y="101.62" font-size="7.2" fill="#222" font-weight="normal" text-anchor="end" >200</text>
<line x1="484.5" y1="137.5" x2="487.6" y2="137.5" stroke="#444" stroke-width="0.8"/>
<text x="483.3" y="140.17999999999998" font-size="7.2" fill="#222" font-weight="normal" text-anchor="end" >300</text>
<line x1="484.5" y1="176.0" x2="487.6" y2="176.0" stroke="#444" stroke-width="0.8"/>
<text x="483.3" y="178.74" font-size="7.2" fill="#222" font-weight="normal" text-anchor="end" >400</text>
<line x1="484.5" y1="214.6" x2="487.6" y2="214.6" stroke="#444" stroke-width="0.8"/>
<text x="483.3" y="217.3" font-size="7.2" fill="#222" font-weight="normal" text-anchor="end" >500</text>
<line x1="484.5" y1="253.2" x2="487.6" y2="253.2" stroke="#444" stroke-width="0.8"/>
<text x="483.3" y="255.85999999999999" font-size="7.2" fill="#222" font-weight="normal" text-anchor="end" >600</text>
<line x1="484.5" y1="291.7" x2="487.6" y2="291.7" stroke="#444" stroke-width="0.8"/>
<text x="483.3" y="294.42" font-size="7.2" fill="#222" font-weight="normal" text-anchor="end" >700</text>
<text transform="translate(468.30,191.90) rotate(-90)" x="0" y="0" font-size="7.9" fill="#222" font-weight="normal" textLength="69.82" lengthAdjust="spacingAndGlyphs">Cortical Depth (<tspan font-style="italic">&#956;</tspan>m)</text>
<text x="482.29" y="318.90" font-size="10.6" fill="#111" font-weight="normal" textLength="181.37" lengthAdjust="spacingAndGlyphs">Response rel. OR in ORR at 100<tspan font-style="italic">&#956;</tspan>m (%)</text>
<text x="663.75" y="41.30" font-size="10.2" fill="#53a94d" font-weight="bold" textLength="3.64" lengthAdjust="spacingAndGlyphs">I</text>
<text x="657.13" y="84.10" font-size="10.2" fill="#53a94d" font-weight="bold" textLength="17.27" lengthAdjust="spacingAndGlyphs">II/III</text>
<text x="660.11" y="142.20" font-size="10.2" fill="#53a94d" font-weight="bold" textLength="10.04" lengthAdjust="spacingAndGlyphs">IV</text>
<text x="661.95" y="228.80" font-size="10.2" fill="#53a94d" font-weight="bold" textLength="7.13" lengthAdjust="spacingAndGlyphs">V</text>
<text x="660.85" y="290.00" font-size="10.2" fill="#53a94d" font-weight="bold" textLength="10.10" lengthAdjust="spacingAndGlyphs">VI</text>
<text transform="translate(680.00,170.34) rotate(-90)" x="0" y="0" font-size="9.7" fill="#53a94d" font-weight="bold" textLength="31.73" lengthAdjust="spacingAndGlyphs">Layers</text>
<text x="600.77" y="255.90" font-size="6.1" fill="#e0652f" font-weight="bold" textLength="55.33" lengthAdjust="spacingAndGlyphs">Omission Response</text>
<text x="601.93" y="265.30" font-size="6.1" fill="#4a87cc" font-weight="bold" textLength="54.18" lengthAdjust="spacingAndGlyphs">Standard Response</text>
<text x="639.72" y="274.90" font-size="6.1" fill="#111" font-weight="bold" textLength="16.60" lengthAdjust="spacingAndGlyphs">n=256</text>
</svg></body></html>
